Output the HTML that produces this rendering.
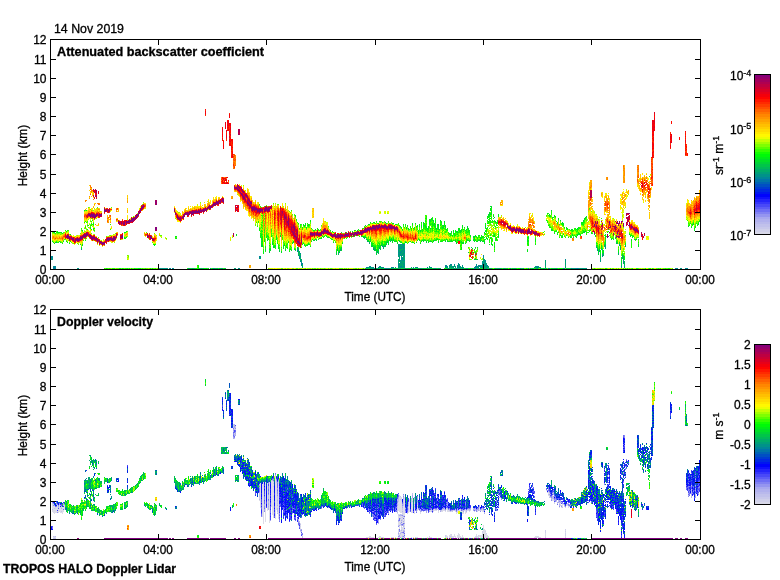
<!DOCTYPE html>
<html><head><meta charset="utf-8"><title>TROPOS HALO Doppler Lidar</title>
<style>
html,body{margin:0;padding:0;background:#fff}
svg{display:block}
text{font-family:"Liberation Sans",sans-serif;font-size:12px;fill:#000;stroke:#000;stroke-width:0.3px}
</style></head><body>
<svg width="780" height="580" viewBox="0 0 780 580">
<rect width="780" height="580" fill="#fff"/>
<g shape-rendering="crispEdges">
<g fill="none" stroke-width="1">
<path stroke="#0072ab" d="M51.5 257v1M53.5 267v1M54.5 266v1M54.5 268v1M172.5 268v1M259.5 256v1M299.5 258v1M300.5 261v1M301.5 264v1M302.5 263v1M378.5 267v1M427.5 267v1M571.5 268v1M577.5 268v1M625.5 246v1"/>
<path stroke="#008b92" d="M51.5 256v1M51.5 259v1M52.5 256v3M53.5 268v1M54.5 267v1M55.5 266v3M78.5 268v1M160.5 268v1M162.5 268v1M164.5 268v1M166.5 268v1M169.5 268v1M170.5 268v1M210.5 268v1M238.5 268v1M259.5 258v1M260.5 256v1M297.5 250v2M299.5 256v1M300.5 253v1M300.5 256v1M301.5 262v2M302.5 267v1M339.5 252v1M366.5 267v1M367.5 267v1M368.5 267v1M369.5 266v1M370.5 266v1M371.5 267v1M372.5 268v1M373.5 267v1M379.5 266v1M381.5 267v1M382.5 246v1M382.5 267v1M383.5 267v1M384.5 246v1M385.5 268v1M386.5 268v1M388.5 268v1M391.5 267v2M392.5 267v1M393.5 267v1M398.5 245v2M398.5 250v1M398.5 252v1M398.5 254v1M398.5 263v4M399.5 247v2M399.5 252v1M399.5 254v1M399.5 257v1M399.5 264v1M400.5 245v1M400.5 248v1M400.5 252v2M400.5 261v1M400.5 266v1M401.5 244v1M401.5 247v2M401.5 251v2M401.5 255v2M401.5 258v3M401.5 262v1M401.5 265v3M402.5 244v1M402.5 246v1M402.5 250v1M402.5 253v1M402.5 258v2M402.5 261v1M402.5 267v1M403.5 245v1M403.5 247v3M403.5 253v2M403.5 258v1M403.5 260v1M403.5 263v1M403.5 266v1M404.5 244v1M404.5 250v3M404.5 255v2M404.5 260v1M404.5 264v1M404.5 266v1M405.5 268v1M413.5 267v1M415.5 267v1M417.5 267v1M431.5 267v1M445.5 265v2M446.5 265v2M447.5 267v1M449.5 265v1M450.5 264v2M451.5 264v1M451.5 268v1M452.5 266v1M454.5 264v1M457.5 265v4M458.5 263v1M459.5 264v4M460.5 268v1M462.5 265v1M462.5 267v2M474.5 267v2M475.5 266v3M476.5 264v3M477.5 266v1M478.5 265v2M478.5 268v1M479.5 265v1M480.5 266v1M481.5 265v1M482.5 262v2M482.5 265v1M482.5 267v1M483.5 255v2M483.5 259v1M483.5 263v3M484.5 261v1M484.5 263v1M484.5 265v1M485.5 260v2M486.5 264v2M486.5 268v1M487.5 265v2M489.5 268v1M495.5 268v1M510.5 268v1M520.5 268v1M523.5 268v1M528.5 268v1M535.5 266v1M536.5 266v1M537.5 266v2M538.5 267v1M545.5 260v1M545.5 264v1M548.5 268v1M563.5 268v1M564.5 268v1M565.5 259v2M565.5 263v1M575.5 268v1M576.5 268v1M578.5 268v1M582.5 268v1M586.5 268v1M597.5 250v1M599.5 251v1M600.5 260v1M602.5 256v1M605.5 247v1M619.5 245v1M620.5 249v1M621.5 266v1M623.5 260v1M623.5 263v1M624.5 266v2M675.5 268v1M676.5 268v1M677.5 268v1M681.5 268v1M685.5 268v1M686.5 268v1M687.5 268v1"/>
<path stroke="#00a077" d="M51.5 258v1M52.5 259v1M53.5 266v1M77.5 268v1M81.5 249v1M159.5 268v1M161.5 268v1M163.5 268v1M165.5 268v1M167.5 268v1M173.5 268v1M188.5 268v1M192.5 268v1M201.5 268v1M213.5 268v1M214.5 268v1M217.5 268v1M221.5 268v1M222.5 268v1M234.5 268v1M235.5 268v1M239.5 268v1M259.5 257v1M260.5 257v2M297.5 247v2M298.5 250v1M298.5 255v1M299.5 251v2M299.5 257v1M300.5 255v1M300.5 257v1M300.5 259v1M301.5 259v3M301.5 265v1M302.5 264v1M302.5 266v1M340.5 250v1M365.5 268v1M367.5 241v1M369.5 243v1M369.5 267v1M370.5 267v2M372.5 267v1M373.5 248v2M374.5 268v1M375.5 268v1M376.5 268v1M377.5 251v2M378.5 268v1M379.5 248v1M379.5 267v1M380.5 266v2M381.5 268v1M383.5 248v1M384.5 268v1M387.5 242v1M387.5 268v1M389.5 268v1M395.5 267v1M398.5 244v1M398.5 247v3M398.5 251v1M398.5 253v1M398.5 255v2M398.5 259v3M398.5 267v1M399.5 245v2M399.5 249v1M399.5 251v1M399.5 253v1M399.5 255v2M399.5 258v1M399.5 260v1M399.5 263v1M399.5 266v1M400.5 244v1M400.5 246v2M400.5 251v1M400.5 254v2M400.5 260v1M400.5 262v3M400.5 267v2M401.5 246v1M401.5 250v1M401.5 254v1M401.5 257v1M401.5 263v1M402.5 245v1M402.5 247v1M402.5 251v1M402.5 254v2M402.5 257v1M402.5 260v1M402.5 263v2M403.5 244v1M403.5 246v1M403.5 250v3M403.5 256v2M403.5 262v1M403.5 264v2M404.5 245v1M404.5 247v2M404.5 253v1M404.5 259v1M404.5 261v3M404.5 265v1M410.5 268v1M411.5 267v1M412.5 268v1M416.5 267v1M418.5 268v1M420.5 268v1M421.5 268v1M423.5 268v1M429.5 266v2M430.5 267v1M434.5 268v1M435.5 268v1M438.5 268v1M445.5 267v1M446.5 267v1M447.5 266v1M448.5 268v1M449.5 266v1M450.5 266v1M451.5 265v1M451.5 267v1M452.5 267v1M453.5 266v3M454.5 265v2M454.5 268v1M455.5 266v2M458.5 264v4M459.5 268v1M460.5 266v2M461.5 267v1M462.5 266v1M463.5 267v1M466.5 268v1M467.5 268v1M472.5 268v1M476.5 267v2M477.5 267v1M478.5 267v1M479.5 266v1M479.5 268v1M480.5 265v1M480.5 267v1M481.5 266v2M482.5 261v1M482.5 264v1M482.5 266v1M483.5 257v2M483.5 260v3M484.5 259v2M484.5 262v1M484.5 264v1M484.5 266v1M485.5 262v5M485.5 268v1M486.5 263v1M486.5 266v2M488.5 266v2M497.5 268v1M499.5 268v1M530.5 268v1M534.5 267v1M536.5 267v1M537.5 268v1M538.5 266v1M539.5 267v1M540.5 267v2M543.5 268v1M545.5 262v2M545.5 265v1M549.5 268v1M556.5 268v1M565.5 261v1M565.5 264v1M565.5 266v2M572.5 268v1M573.5 268v1M574.5 268v1M579.5 268v1M580.5 268v1M581.5 268v1M583.5 268v1M584.5 268v1M585.5 268v1M596.5 247v1M597.5 249v1M599.5 249v1M600.5 258v1M600.5 261v1M601.5 249v1M602.5 254v2M603.5 253v1M603.5 255v1M604.5 246v1M605.5 245v1M605.5 248v1M618.5 253v1M620.5 248v1M623.5 261v2M680.5 268v1"/>
<path stroke="#00b55d" d="M189.5 268v1M203.5 268v1M219.5 268v1M297.5 249v1M298.5 249v1M298.5 252v3M299.5 255v1M300.5 254v1M300.5 260v1M302.5 265v1M337.5 249v2M338.5 253v2M340.5 249v1M363.5 237v1M364.5 238v1M365.5 237v1M366.5 239v1M367.5 268v1M369.5 242v1M371.5 268v1M373.5 268v1M374.5 249v1M375.5 249v1M378.5 253v1M379.5 247v1M380.5 249v1M381.5 245v1M382.5 268v1M383.5 246v2M390.5 241v1M393.5 268v1M395.5 268v1M397.5 268v1M398.5 262v1M398.5 268v1M399.5 244v1M399.5 250v1M399.5 259v1M399.5 261v1M399.5 265v1M399.5 267v2M400.5 249v2M400.5 265v1M401.5 245v1M401.5 249v1M401.5 253v1M401.5 261v1M401.5 264v1M402.5 248v2M402.5 252v1M402.5 262v1M402.5 265v2M403.5 255v1M403.5 259v1M403.5 261v1M403.5 267v2M404.5 246v1M404.5 249v1M404.5 254v1M404.5 257v2M404.5 267v2M407.5 268v1M413.5 268v1M426.5 268v1M428.5 268v1M431.5 268v1M433.5 268v1M436.5 268v1M438.5 224v1M439.5 268v1M440.5 268v1M447.5 268v1M449.5 267v2M450.5 267v1M451.5 266v1M455.5 268v1M456.5 268v1M458.5 268v1M463.5 268v1M465.5 268v1M470.5 268v1M476.5 254v1M483.5 266v1M484.5 267v2M485.5 267v1M487.5 267v2M490.5 268v1M491.5 268v1M498.5 268v1M500.5 268v1M503.5 268v1M504.5 268v1M505.5 268v1M507.5 268v1M512.5 268v1M514.5 268v1M515.5 268v1M532.5 268v1M535.5 267v1M536.5 268v1M545.5 261v1M545.5 266v3M554.5 268v1M565.5 262v1M565.5 265v1M566.5 268v1M598.5 252v1M600.5 259v1M604.5 245v1M605.5 244v1M616.5 243v1M618.5 254v1M619.5 244v1M620.5 247v1M621.5 263v1M621.5 265v1M621.5 267v1M622.5 255v1M622.5 257v2M623.5 257v1M623.5 259v1M624.5 261v2M624.5 264v1"/>
<path stroke="#00ca42" d="M52.5 231v1M53.5 231v1M55.5 242v1M56.5 242v1M81.5 248v1M82.5 245v1M190.5 268v1M193.5 268v1M194.5 268v1M200.5 268v1M206.5 268v1M212.5 268v1M215.5 268v1M216.5 268v1M220.5 268v1M224.5 268v1M225.5 268v1M261.5 245v2M262.5 241v1M262.5 245v1M264.5 240v1M265.5 250v1M269.5 251v2M273.5 246v2M279.5 250v2M284.5 245v1M285.5 250v1M293.5 242v1M295.5 215v1M295.5 250v1M298.5 248v1M298.5 251v1M299.5 253v2M300.5 258v1M308.5 224v1M313.5 240v1M315.5 229v1M316.5 240v1M336.5 253v2M337.5 248v1M338.5 252v1M339.5 251v1M341.5 248v2M342.5 243v1M357.5 230v1M365.5 225v1M366.5 268v1M368.5 241v1M369.5 268v1M370.5 241v1M371.5 246v1M372.5 245v2M373.5 247v1M374.5 247v2M374.5 250v1M375.5 248v1M375.5 250v1M376.5 252v3M377.5 250v1M377.5 268v1M378.5 249v1M378.5 251v2M380.5 246v1M380.5 248v1M382.5 243v1M382.5 245v1M384.5 245v1M385.5 222v1M385.5 245v1M386.5 223v1M386.5 243v2M388.5 244v1M391.5 239v2M392.5 241v1M392.5 268v1M393.5 240v1M395.5 241v1M397.5 243v1M399.5 241v1M405.5 242v1M406.5 227v1M408.5 268v1M415.5 223v1M415.5 268v1M416.5 226v1M417.5 268v1M419.5 268v1M421.5 241v1M423.5 222v1M425.5 226v1M425.5 268v1M426.5 242v1M429.5 268v1M430.5 228v1M430.5 241v1M430.5 268v1M431.5 218v2M431.5 241v1M434.5 240v1M435.5 226v1M440.5 220v1M441.5 222v1M442.5 227v1M443.5 226v1M444.5 221v1M445.5 226v1M445.5 241v1M450.5 233v1M455.5 241v1M456.5 243v1M457.5 231v1M461.5 241v1M463.5 243v1M465.5 230v1M465.5 243v1M466.5 229v1M467.5 226v2M468.5 252v1M471.5 247v1M472.5 248v1M474.5 238v2M474.5 249v1M474.5 259v1M475.5 247v1M475.5 253v1M475.5 259v1M476.5 259v1M477.5 247v1M477.5 259v1M478.5 240v1M480.5 238v1M480.5 241v1M482.5 241v1M484.5 232v1M486.5 228v1M489.5 213v1M494.5 217v1M495.5 221v1M501.5 268v1M521.5 268v1M533.5 268v1M535.5 268v1M546.5 268v1M549.5 214v1M551.5 210v1M551.5 268v1M552.5 268v1M553.5 217v1M555.5 268v1M560.5 220v1M562.5 222v1M567.5 268v1M568.5 268v1M570.5 268v1M571.5 229v1M573.5 237v1M577.5 228v1M577.5 235v1M583.5 220v1M584.5 218v1M584.5 232v1M585.5 231v1M586.5 216v1M596.5 246v1M597.5 248v1M598.5 254v1M599.5 250v1M600.5 256v1M601.5 247v2M603.5 254v1M605.5 236v1M605.5 240v1M605.5 246v1M615.5 238v1M617.5 242v2M620.5 246v1M622.5 256v1M623.5 255v2M624.5 263v1M624.5 265v1M625.5 245v1M629.5 234v1M636.5 239v1M688.5 226v1M693.5 224v1M698.5 224v1"/>
<path stroke="#00df28" d="M54.5 232v1M54.5 243v1M57.5 231v1M59.5 241v1M60.5 242v1M61.5 232v1M62.5 233v1M63.5 241v1M80.5 244v1M82.5 230v1M84.5 210v1M92.5 220v1M93.5 229v1M176.5 236v1M176.5 238v1M191.5 268v1M198.5 268v1M199.5 268v1M202.5 268v1M208.5 268v1M236.5 234v1M260.5 236v1M261.5 234v1M261.5 238v1M261.5 243v2M262.5 239v1M264.5 232v1M264.5 235v2M264.5 239v1M267.5 236v1M267.5 238v1M267.5 240v1M268.5 239v1M269.5 249v1M270.5 249v2M271.5 236v1M272.5 242v2M274.5 246v1M276.5 236v1M276.5 239v1M277.5 243v1M278.5 248v1M280.5 235v2M281.5 251v2M283.5 247v2M285.5 249v1M287.5 247v1M288.5 242v1M291.5 250v1M299.5 228v1M302.5 244v1M303.5 224v1M304.5 226v1M305.5 224v1M306.5 245v1M308.5 244v1M309.5 244v1M314.5 240v1M315.5 239v1M318.5 229v1M319.5 238v1M321.5 238v1M322.5 236v1M328.5 237v1M329.5 237v1M330.5 230v1M332.5 231v1M333.5 242v1M336.5 252v1M337.5 247v1M339.5 250v1M341.5 232v1M341.5 247v1M341.5 250v1M352.5 236v1M354.5 230v1M361.5 236v1M364.5 237v1M367.5 239v2M368.5 224v1M368.5 240v1M369.5 224v1M369.5 241v1M370.5 240v1M371.5 243v1M371.5 245v1M374.5 222v1M375.5 246v2M376.5 251v1M377.5 245v1M378.5 247v1M379.5 244v1M379.5 246v1M379.5 268v1M380.5 247v1M380.5 268v1M381.5 244v1M382.5 222v1M385.5 246v1M386.5 241v2M387.5 240v1M388.5 241v1M389.5 238v1M389.5 240v1M390.5 240v1M390.5 268v1M392.5 223v1M393.5 223v1M393.5 239v1M394.5 268v1M396.5 224v1M396.5 241v1M396.5 268v1M400.5 226v1M401.5 227v1M401.5 242v1M402.5 268v1M403.5 224v1M405.5 224v1M406.5 268v1M408.5 228v2M409.5 268v1M411.5 228v1M412.5 224v1M412.5 242v1M414.5 227v1M414.5 268v1M416.5 242v1M416.5 268v1M417.5 240v1M419.5 224v1M419.5 226v1M420.5 230v1M420.5 243v1M421.5 225v2M422.5 229v1M422.5 240v1M422.5 268v1M423.5 225v1M423.5 240v2M424.5 223v1M424.5 268v1M425.5 240v1M426.5 241v1M427.5 240v1M427.5 268v1M428.5 226v3M428.5 242v1M429.5 220v1M430.5 220v2M430.5 224v1M432.5 220v1M432.5 223v2M432.5 226v1M433.5 220v2M433.5 240v2M434.5 223v2M435.5 220v1M435.5 222v1M435.5 224v1M435.5 228v1M436.5 228v2M437.5 224v2M437.5 268v1M438.5 225v2M438.5 228v2M438.5 241v2M439.5 229v1M441.5 241v1M442.5 225v1M443.5 225v1M443.5 227v1M444.5 224v1M445.5 227v1M446.5 268v1M447.5 241v1M448.5 241v1M449.5 241v1M450.5 234v1M450.5 241v1M450.5 268v1M451.5 231v2M451.5 240v2M452.5 268v1M453.5 231v1M455.5 231v1M455.5 240v1M457.5 232v1M457.5 242v1M458.5 229v1M459.5 229v1M460.5 230v1M460.5 232v1M461.5 230v1M461.5 247v1M462.5 225v1M462.5 227v1M462.5 242v1M466.5 241v1M467.5 239v1M468.5 229v1M468.5 231v1M468.5 240v1M468.5 268v1M469.5 230v1M470.5 235v1M470.5 240v1M472.5 252v1M473.5 236v2M473.5 240v1M474.5 236v2M474.5 241v1M475.5 235v1M475.5 240v1M475.5 252v1M476.5 241v1M477.5 238v1M477.5 241v1M477.5 268v1M479.5 235v1M479.5 240v1M480.5 240v1M480.5 268v1M481.5 235v1M481.5 237v1M481.5 240v1M482.5 237v1M482.5 268v1M483.5 240v1M483.5 268v1M484.5 241v2M485.5 225v3M485.5 231v1M486.5 237v2M487.5 218v1M488.5 214v1M488.5 216v2M488.5 268v1M489.5 212v1M489.5 214v2M489.5 244v1M490.5 206v1M490.5 208v2M490.5 214v1M491.5 206v2M491.5 210v1M491.5 243v1M492.5 220v1M492.5 222v1M493.5 215v2M493.5 235v2M494.5 236v1M494.5 243v1M494.5 246v1M495.5 240v1M496.5 222v1M496.5 238v2M496.5 268v1M498.5 216v1M498.5 236v1M513.5 268v1M516.5 268v1M522.5 268v1M527.5 240v2M527.5 250v1M528.5 237v1M535.5 239v1M541.5 268v1M544.5 268v1M547.5 213v1M551.5 229v1M553.5 268v1M554.5 233v1M555.5 216v1M556.5 221v1M557.5 222v1M557.5 234v1M557.5 268v1M559.5 268v1M560.5 235v1M562.5 223v1M562.5 236v1M563.5 224v1M563.5 234v1M566.5 235v1M567.5 228v1M569.5 268v1M571.5 237v1M572.5 234v2M575.5 236v1M576.5 236v2M577.5 234v1M578.5 233v1M579.5 228v1M579.5 234v1M580.5 235v1M581.5 223v1M583.5 221v1M583.5 232v1M584.5 219v1M584.5 231v1M585.5 217v1M591.5 233v1M594.5 234v1M596.5 245v1M597.5 247v1M598.5 250v1M598.5 253v1M600.5 254v2M600.5 257v1M602.5 250v1M602.5 253v1M603.5 250v1M605.5 237v2M605.5 241v1M605.5 243v1M608.5 229v1M611.5 239v1M613.5 239v1M616.5 242v1M618.5 252v1M619.5 242v2M621.5 258v1M621.5 261v2M621.5 264v1M622.5 254v1M623.5 258v1M624.5 259v1M631.5 240v1M634.5 239v1M638.5 239v1M638.5 244v1M638.5 246v1M691.5 227v1M694.5 228v1M694.5 230v1M695.5 227v1M698.5 223v1"/>
<path stroke="#00f40d" d="M52.5 241v1M53.5 232v1M53.5 242v1M57.5 232v1M58.5 232v1M58.5 242v1M59.5 232v1M60.5 232v1M62.5 243v1M66.5 231v1M66.5 241v1M67.5 242v1M69.5 243v1M70.5 234v1M70.5 241v1M81.5 247v1M82.5 244v1M84.5 222v1M85.5 227v1M85.5 240v1M86.5 210v1M87.5 229v1M88.5 225v1M90.5 225v1M90.5 227v2M91.5 229v1M93.5 223v2M93.5 228v1M94.5 228v1M94.5 230v1M106.5 268v1M119.5 268v1M120.5 268v1M122.5 268v1M124.5 232v1M124.5 237v2M125.5 232v1M125.5 238v1M126.5 231v1M126.5 237v1M127.5 268v1M129.5 268v1M131.5 268v1M134.5 268v1M138.5 268v1M139.5 268v1M140.5 268v1M150.5 268v1M152.5 268v1M153.5 244v1M154.5 244v2M175.5 236v1M195.5 268v1M196.5 268v1M198.5 266v2M204.5 268v1M205.5 268v1M236.5 235v1M258.5 221v1M259.5 204v1M259.5 228v3M260.5 233v1M260.5 235v1M261.5 230v1M261.5 235v1M261.5 237v1M261.5 239v1M261.5 241v2M262.5 231v1M262.5 236v3M262.5 240v1M262.5 243v2M262.5 246v1M263.5 251v3M264.5 230v1M264.5 241v1M265.5 247v1M265.5 249v1M266.5 236v2M267.5 235v1M268.5 236v2M269.5 245v1M270.5 248v1M272.5 244v1M273.5 240v1M273.5 243v1M274.5 245v1M274.5 247v1M275.5 245v2M276.5 237v2M277.5 240v1M278.5 246v2M283.5 245v2M284.5 244v1M286.5 245v1M286.5 247v1M288.5 241v1M289.5 249v1M289.5 251v1M290.5 246v1M290.5 249v1M292.5 243v1M293.5 241v1M294.5 249v1M295.5 216v1M295.5 249v1M296.5 219v1M298.5 223v1M300.5 224v1M301.5 247v1M302.5 227v1M303.5 225v1M303.5 243v1M304.5 225v1M304.5 244v2M305.5 223v1M305.5 225v1M306.5 227v2M307.5 225v1M307.5 245v1M308.5 225v1M308.5 243v1M310.5 220v2M310.5 246v1M311.5 228v1M311.5 241v1M312.5 239v1M313.5 230v1M317.5 228v1M317.5 237v1M320.5 238v1M323.5 237v1M324.5 236v1M326.5 236v1M327.5 237v1M332.5 239v1M333.5 232v1M336.5 234v1M336.5 251v1M337.5 246v1M338.5 251v1M339.5 247v1M340.5 248v1M346.5 232v1M352.5 231v1M353.5 232v1M354.5 236v1M358.5 229v1M362.5 236v1M363.5 228v1M363.5 236v1M364.5 236v1M366.5 226v1M368.5 268v1M370.5 222v1M370.5 238v2M371.5 242v1M371.5 244v1M372.5 243v2M373.5 222v1M373.5 243v1M373.5 245v1M374.5 246v1M376.5 249v2M377.5 223v1M377.5 247v3M378.5 223v1M378.5 245v2M378.5 250v1M379.5 221v1M379.5 243v1M379.5 245v1M380.5 245v1M381.5 242v2M382.5 241v1M382.5 244v1M383.5 244v2M383.5 268v1M384.5 241v1M384.5 244v1M385.5 242v1M385.5 244v1M387.5 241v1M388.5 242v2M389.5 223v1M389.5 237v1M389.5 239v1M390.5 239v1M391.5 238v1M392.5 240v1M392.5 242v1M393.5 238v1M394.5 241v1M395.5 224v1M397.5 242v1M398.5 240v1M399.5 225v1M401.5 228v1M401.5 268v1M402.5 229v1M403.5 243v1M404.5 243v1M406.5 228v1M406.5 242v1M407.5 225v1M408.5 242v1M410.5 226v2M410.5 241v1M411.5 268v1M412.5 223v1M413.5 228v1M413.5 242v1M414.5 243v1M417.5 225v2M418.5 230v1M418.5 232v1M419.5 239v2M420.5 231v1M421.5 222v1M421.5 227v1M422.5 231v1M423.5 223v2M423.5 226v1M423.5 228v1M424.5 225v1M425.5 218v1M425.5 220v2M425.5 225v1M425.5 227v1M425.5 229v1M426.5 216v1M426.5 218v1M426.5 223v1M426.5 227v2M426.5 230v1M427.5 228v2M427.5 231v1M428.5 229v1M428.5 241v1M429.5 219v1M429.5 221v3M432.5 218v1M432.5 225v1M432.5 228v3M432.5 242v1M432.5 268v1M433.5 224v2M434.5 225v2M435.5 221v1M435.5 227v1M435.5 231v1M435.5 240v1M436.5 230v2M436.5 239v1M437.5 227v2M437.5 239v1M438.5 227v1M438.5 231v1M439.5 239v1M440.5 221v1M440.5 224v2M440.5 241v1M441.5 224v1M442.5 228v1M443.5 228v1M443.5 240v1M444.5 222v2M444.5 268v1M445.5 225v1M445.5 229v1M445.5 240v1M445.5 268v1M446.5 229v1M446.5 239v1M447.5 228v1M447.5 230v1M447.5 240v1M449.5 233v1M450.5 235v1M452.5 235v1M452.5 241v1M453.5 230v1M453.5 233v1M453.5 240v1M454.5 233v3M455.5 230v1M455.5 235v1M456.5 231v2M456.5 242v1M457.5 234v1M457.5 240v1M458.5 228v1M458.5 230v1M458.5 232v1M458.5 240v1M459.5 228v1M459.5 230v2M460.5 231v1M460.5 242v1M460.5 245v1M461.5 229v1M461.5 231v1M461.5 242v2M461.5 248v2M461.5 268v1M462.5 226v1M462.5 243v1M463.5 229v1M463.5 231v1M463.5 242v1M464.5 227v1M464.5 268v1M466.5 231v1M466.5 239v2M467.5 228v1M467.5 232v1M467.5 240v1M468.5 228v1M468.5 230v1M469.5 232v1M469.5 240v2M469.5 249v1M469.5 268v1M470.5 236v1M471.5 268v1M473.5 239v1M473.5 268v1M474.5 240v1M475.5 236v1M475.5 258v1M478.5 235v1M480.5 237v1M480.5 239v1M481.5 238v1M481.5 268v1M482.5 236v1M483.5 236v1M483.5 241v1M484.5 239v1M484.5 243v1M485.5 223v1M485.5 233v2M485.5 239v1M486.5 230v2M487.5 216v1M487.5 223v1M487.5 239v1M488.5 215v1M488.5 221v3M488.5 235v3M489.5 216v1M489.5 218v1M489.5 220v1M489.5 239v2M490.5 210v1M490.5 213v1M490.5 216v1M490.5 218v1M490.5 220v1M490.5 222v1M490.5 235v1M490.5 237v2M491.5 211v4M491.5 217v1M491.5 242v1M491.5 244v1M492.5 240v1M492.5 244v2M494.5 221v1M494.5 234v2M494.5 247v1M494.5 249v1M494.5 251v1M494.5 268v1M495.5 222v1M495.5 226v1M496.5 237v1M497.5 220v1M497.5 222v2M497.5 240v1M498.5 214v2M498.5 234v2M498.5 237v1M506.5 268v1M509.5 268v1M518.5 268v1M519.5 268v1M526.5 268v1M527.5 237v1M527.5 239v1M527.5 243v1M527.5 251v1M528.5 238v1M528.5 240v2M528.5 244v2M531.5 268v1M535.5 240v2M535.5 244v1M542.5 268v1M546.5 220v1M548.5 225v1M549.5 215v2M550.5 216v1M550.5 227v1M551.5 230v1M552.5 217v2M552.5 230v1M554.5 215v2M554.5 231v1M557.5 223v1M558.5 218v2M558.5 232v1M560.5 268v1M561.5 236v2M561.5 268v1M562.5 224v1M562.5 237v1M562.5 268v1M563.5 223v1M563.5 225v1M564.5 227v1M565.5 230v1M566.5 227v2M567.5 229v1M568.5 237v1M570.5 236v2M571.5 230v1M572.5 229v1M572.5 231v1M575.5 228v1M576.5 229v1M577.5 229v2M578.5 227v1M578.5 229v1M578.5 232v1M578.5 234v1M579.5 233v1M580.5 234v1M581.5 222v1M582.5 222v3M583.5 222v1M583.5 224v1M583.5 231v1M585.5 218v1M589.5 231v1M590.5 230v1M591.5 232v1M592.5 233v1M595.5 235v2M596.5 243v1M597.5 245v1M598.5 251v1M599.5 244v1M599.5 246v3M600.5 250v4M601.5 234v1M601.5 245v2M602.5 249v1M602.5 251v2M603.5 251v2M604.5 244v1M605.5 234v1M605.5 242v1M606.5 236v1M607.5 232v1M608.5 231v1M611.5 238v1M615.5 237v1M616.5 241v1M617.5 234v1M618.5 250v2M620.5 245v1M621.5 257v1M621.5 260v1M624.5 256v3M625.5 243v2M630.5 235v2M631.5 235v1M631.5 239v1M632.5 236v2M633.5 236v1M635.5 239v1M638.5 242v1M638.5 245v1M690.5 223v1M691.5 226v1M692.5 224v2M693.5 223v1M695.5 226v1M697.5 225v1M698.5 222v1M699.5 221v1"/>
<path stroke="#1eff00" d="M55.5 233v1M56.5 232v1M56.5 241v1M57.5 242v1M64.5 239v1M65.5 230v1M67.5 230v1M68.5 230v1M81.5 228v1M83.5 240v1M84.5 238v1M85.5 221v1M85.5 226v1M86.5 222v1M87.5 221v1M87.5 225v1M91.5 221v1M91.5 223v3M92.5 224v1M93.5 225v1M104.5 268v1M107.5 268v1M109.5 268v1M110.5 224v1M110.5 229v1M112.5 268v1M113.5 268v1M114.5 268v1M123.5 268v1M125.5 268v1M126.5 268v1M135.5 268v1M136.5 268v1M137.5 268v1M142.5 268v1M145.5 268v1M155.5 244v1M155.5 268v1M175.5 237v2M187.5 268v1M197.5 265v1M197.5 268v1M198.5 265v1M207.5 268v1M211.5 268v1M218.5 268v1M223.5 268v1M256.5 222v1M257.5 226v1M258.5 222v1M260.5 206v1M260.5 231v1M260.5 234v1M260.5 237v1M261.5 207v1M261.5 215v1M261.5 222v1M261.5 224v2M261.5 227v1M261.5 231v3M261.5 236v1M261.5 240v1M262.5 215v2M262.5 218v1M262.5 221v2M262.5 225v1M262.5 228v1M262.5 234v1M262.5 242v1M263.5 249v2M264.5 206v1M264.5 218v1M264.5 225v1M264.5 229v1M264.5 231v1M264.5 234v1M264.5 237v2M265.5 246v1M265.5 248v1M265.5 251v1M266.5 233v3M267.5 239v1M268.5 238v1M269.5 243v1M269.5 248v1M269.5 250v1M270.5 244v1M270.5 246v1M271.5 229v3M271.5 233v3M272.5 239v1M272.5 241v1M273.5 238v1M273.5 241v1M273.5 244v2M275.5 243v1M275.5 247v2M276.5 235v1M277.5 241v2M278.5 244v2M279.5 245v1M279.5 247v3M281.5 247v1M281.5 249v1M282.5 235v1M282.5 237v3M283.5 242v1M284.5 243v1M285.5 246v1M285.5 248v1M286.5 244v1M286.5 246v1M287.5 243v2M287.5 248v1M289.5 250v1M290.5 248v1M291.5 210v1M291.5 247v1M291.5 249v1M292.5 242v1M294.5 248v1M296.5 220v1M297.5 222v1M300.5 225v3M301.5 224v1M302.5 228v2M305.5 245v2M307.5 223v1M307.5 244v1M308.5 226v1M309.5 224v2M314.5 230v1M316.5 239v1M318.5 230v1M318.5 239v1M319.5 230v1M320.5 229v1M321.5 237v1M325.5 235v1M326.5 235v1M328.5 226v1M330.5 238v1M331.5 239v1M334.5 240v1M335.5 242v1M336.5 249v2M338.5 250v1M339.5 248v2M340.5 247v1M342.5 242v1M344.5 238v1M346.5 238v1M347.5 237v1M350.5 231v1M350.5 236v1M355.5 230v1M355.5 235v1M358.5 235v1M359.5 230v1M359.5 236v1M362.5 228v1M363.5 268v1M364.5 226v2M365.5 235v2M366.5 237v1M368.5 237v1M368.5 239v1M369.5 239v1M370.5 237v1M372.5 223v1M373.5 246v1M374.5 245v1M375.5 223v1M375.5 245v1M376.5 221v1M377.5 244v1M377.5 246v1M378.5 242v2M378.5 248v1M380.5 221v1M382.5 242v1M384.5 242v2M385.5 241v1M385.5 243v1M387.5 239v1M388.5 221v1M388.5 240v1M392.5 239v1M393.5 237v1M394.5 240v1M395.5 240v1M396.5 240v1M398.5 223v1M399.5 240v1M400.5 241v2M402.5 230v1M402.5 243v1M403.5 225v2M404.5 227v1M405.5 225v2M405.5 241v1M406.5 229v1M407.5 226v1M409.5 229v1M411.5 229v2M412.5 225v1M414.5 228v2M416.5 227v1M417.5 229v1M418.5 231v1M418.5 233v1M418.5 238v2M419.5 225v1M419.5 229v1M420.5 242v1M421.5 223v2M421.5 230v1M421.5 240v1M422.5 230v1M423.5 227v1M423.5 230v1M423.5 239v1M424.5 224v1M424.5 226v3M424.5 239v2M425.5 215v1M425.5 224v1M425.5 228v1M426.5 217v1M426.5 219v1M426.5 221v1M426.5 224v1M426.5 226v1M426.5 229v1M427.5 230v1M428.5 230v2M428.5 240v1M429.5 224v1M429.5 227v1M429.5 232v1M429.5 241v1M430.5 219v1M430.5 222v2M430.5 229v3M430.5 240v1M431.5 220v2M431.5 223v2M431.5 226v1M431.5 228v1M432.5 217v1M432.5 219v1M432.5 222v1M432.5 227v1M432.5 231v1M433.5 222v2M433.5 228v1M434.5 227v1M434.5 229v1M434.5 231v1M434.5 238v1M435.5 218v2M435.5 225v1M435.5 229v1M435.5 239v1M436.5 238v1M436.5 240v1M437.5 226v1M437.5 229v1M437.5 231v1M437.5 238v1M438.5 232v1M438.5 239v1M439.5 230v1M439.5 233v1M440.5 222v2M440.5 227v2M441.5 221v1M441.5 223v1M441.5 226v3M441.5 240v1M442.5 226v1M442.5 229v1M442.5 231v1M442.5 233v1M442.5 240v2M443.5 230v1M444.5 225v2M444.5 228v1M444.5 239v1M445.5 228v1M445.5 231v2M446.5 230v2M447.5 229v1M447.5 239v1M448.5 232v2M449.5 234v1M449.5 239v1M450.5 240v1M451.5 233v1M451.5 235v1M451.5 239v1M452.5 236v1M453.5 232v1M453.5 234v1M454.5 236v1M454.5 240v1M455.5 232v3M455.5 239v1M456.5 234v1M456.5 241v1M457.5 233v1M457.5 236v1M457.5 239v1M458.5 235v1M459.5 232v1M459.5 240v1M460.5 240v2M460.5 246v1M460.5 249v1M461.5 239v1M461.5 244v2M462.5 228v2M463.5 233v1M464.5 229v1M465.5 232v1M466.5 230v1M466.5 232v2M466.5 235v1M466.5 238v1M466.5 242v1M467.5 229v1M467.5 231v1M467.5 234v1M468.5 232v1M468.5 238v1M468.5 247v1M469.5 231v1M469.5 233v2M473.5 257v1M475.5 239v1M475.5 256v1M476.5 236v2M477.5 237v1M477.5 239v2M477.5 249v1M478.5 236v2M478.5 239v1M479.5 237v1M479.5 239v1M481.5 236v1M483.5 237v2M484.5 233v1M484.5 237v1M484.5 240v1M485.5 224v1M485.5 228v1M485.5 230v1M486.5 229v1M486.5 234v1M487.5 217v1M487.5 220v2M487.5 227v2M487.5 238v1M488.5 219v1M489.5 219v1M489.5 221v2M489.5 241v2M490.5 221v1M490.5 224v1M490.5 234v1M491.5 208v2M491.5 218v1M491.5 222v1M491.5 237v5M492.5 221v1M492.5 239v1M492.5 268v1M493.5 214v1M493.5 218v1M493.5 221v1M493.5 227v1M493.5 233v1M494.5 220v1M494.5 225v1M494.5 242v1M494.5 244v2M495.5 228v1M495.5 238v2M496.5 223v3M496.5 240v1M497.5 221v1M497.5 225v1M497.5 227v1M498.5 231v1M498.5 233v1M502.5 268v1M511.5 268v1M517.5 268v1M527.5 238v1M527.5 242v1M527.5 244v1M527.5 249v1M527.5 268v1M528.5 236v1M528.5 242v2M534.5 268v1M535.5 238v1M535.5 243v1M538.5 268v1M543.5 232v1M546.5 215v1M547.5 221v2M548.5 213v1M548.5 215v1M549.5 224v4M550.5 215v1M550.5 268v1M551.5 211v4M552.5 229v1M554.5 232v1M555.5 217v1M555.5 231v1M556.5 230v2M557.5 232v2M558.5 268v1M559.5 224v1M559.5 237v1M560.5 233v1M561.5 223v2M562.5 225v1M562.5 235v1M564.5 228v1M564.5 236v1M565.5 237v1M566.5 229v1M569.5 229v1M570.5 230v1M570.5 235v1M571.5 236v1M572.5 230v1M573.5 230v1M573.5 235v1M574.5 228v2M574.5 235v1M575.5 229v2M576.5 231v1M576.5 234v1M577.5 231v1M578.5 228v1M579.5 227v1M580.5 228v1M581.5 224v1M581.5 233v1M582.5 230v1M582.5 232v2M583.5 223v1M583.5 225v1M583.5 230v1M584.5 220v3M584.5 228v1M585.5 219v1M585.5 229v2M586.5 217v1M586.5 220v1M586.5 232v3M587.5 232v1M588.5 230v1M588.5 232v1M589.5 208v1M589.5 230v1M593.5 229v1M594.5 268v1M596.5 242v1M597.5 243v1M597.5 246v1M598.5 248v2M599.5 245v1M601.5 218v1M601.5 243v1M602.5 248v1M604.5 235v1M604.5 242v2M605.5 235v1M605.5 239v1M605.5 268v1M606.5 268v1M609.5 235v1M610.5 237v1M610.5 268v1M611.5 233v1M612.5 238v1M613.5 238v1M617.5 240v2M618.5 247v1M618.5 249v1M621.5 259v1M622.5 253v1M623.5 268v1M624.5 253v1M625.5 235v1M625.5 268v1M627.5 268v1M629.5 233v1M631.5 241v7M632.5 235v1M632.5 268v1M635.5 240v1M636.5 268v1M637.5 268v1M645.5 268v1M649.5 176v1M649.5 268v1M650.5 268v1M652.5 268v1M658.5 268v1M660.5 268v1M665.5 268v1M668.5 268v1M669.5 268v1M687.5 220v1M688.5 223v1M688.5 225v1M689.5 224v2M690.5 221v1M691.5 224v1M693.5 222v1M694.5 229v1M696.5 223v1M697.5 224v1M699.5 220v1"/>
<path stroke="#59ff00" d="M52.5 232v1M54.5 233v1M56.5 231v1M57.5 233v1M58.5 233v1M60.5 234v1M60.5 241v1M61.5 233v1M61.5 242v1M62.5 242v1M63.5 232v1M63.5 240v1M64.5 232v1M65.5 239v1M66.5 240v1M68.5 240v1M69.5 242v1M71.5 242v1M73.5 243v1M77.5 243v1M78.5 244v1M80.5 233v1M81.5 229v2M82.5 231v1M83.5 232v1M84.5 228v1M85.5 210v1M85.5 228v1M86.5 229v1M86.5 238v1M87.5 222v1M88.5 207v1M88.5 227v1M90.5 209v1M90.5 221v1M90.5 226v1M91.5 218v1M91.5 233v1M93.5 222v1M97.5 207v1M98.5 237v1M105.5 268v1M106.5 236v1M108.5 268v1M110.5 235v1M110.5 268v1M111.5 207v1M115.5 233v1M116.5 268v1M117.5 268v1M118.5 268v1M121.5 268v1M124.5 268v1M125.5 237v1M126.5 236v1M127.5 231v1M127.5 255v1M128.5 256v1M128.5 268v1M132.5 268v1M133.5 216v1M133.5 268v1M141.5 268v1M142.5 204v1M143.5 268v1M144.5 268v1M146.5 232v1M146.5 268v1M147.5 268v1M149.5 268v1M151.5 268v1M152.5 242v1M153.5 268v1M154.5 233v1M154.5 268v1M157.5 268v1M160.5 235v1M161.5 235v1M166.5 238v1M176.5 237v1M197.5 266v2M255.5 224v2M257.5 225v1M259.5 205v1M259.5 227v1M260.5 228v1M261.5 213v1M261.5 226v1M262.5 217v1M262.5 220v1M262.5 223v1M262.5 226v2M262.5 230v1M262.5 233v1M262.5 235v1M263.5 246v2M264.5 213v2M264.5 216v1M264.5 219v1M264.5 221v1M264.5 223v2M264.5 227v2M264.5 233v1M265.5 242v2M266.5 205v1M266.5 230v1M266.5 232v1M267.5 206v1M267.5 229v1M267.5 232v1M267.5 234v1M267.5 237v1M268.5 233v3M269.5 239v2M269.5 242v1M269.5 246v2M270.5 247v1M271.5 232v1M272.5 235v1M272.5 240v1M273.5 203v1M273.5 233v1M273.5 237v1M273.5 239v1M273.5 242v1M275.5 241v1M275.5 244v1M277.5 204v1M277.5 238v1M278.5 204v1M280.5 233v1M281.5 250v1M281.5 268v1M282.5 268v1M283.5 243v2M284.5 241v1M285.5 245v1M285.5 247v1M286.5 243v1M287.5 245v2M289.5 211v1M289.5 248v1M290.5 212v1M290.5 245v1M290.5 247v1M291.5 248v1M292.5 214v1M294.5 214v2M295.5 217v1M295.5 248v1M296.5 268v1M297.5 268v1M298.5 224v1M298.5 226v1M298.5 247v1M299.5 229v1M301.5 225v1M302.5 243v1M303.5 242v1M304.5 227v1M305.5 227v1M305.5 268v1M306.5 229v1M306.5 244v1M307.5 224v1M307.5 226v1M308.5 227v1M308.5 242v1M309.5 226v2M309.5 243v1M310.5 222v2M310.5 245v1M311.5 240v1M312.5 229v1M312.5 268v1M313.5 231v1M314.5 239v1M314.5 268v1M315.5 230v1M315.5 238v1M315.5 268v1M316.5 230v1M317.5 229v1M317.5 268v1M320.5 230v1M320.5 268v1M321.5 225v1M322.5 235v1M323.5 236v1M324.5 268v1M327.5 236v1M328.5 236v1M328.5 268v1M330.5 231v1M330.5 268v1M331.5 232v1M331.5 238v1M331.5 268v1M333.5 241v1M335.5 241v1M337.5 245v1M338.5 248v2M339.5 245v2M339.5 268v1M340.5 246v1M340.5 268v1M341.5 246v1M341.5 268v1M342.5 233v1M342.5 268v1M344.5 233v1M344.5 268v1M346.5 268v1M348.5 268v1M355.5 268v1M356.5 231v1M356.5 268v1M358.5 268v1M362.5 235v1M366.5 238v1M367.5 238v1M368.5 236v1M368.5 238v1M370.5 223v1M372.5 241v2M373.5 244v1M374.5 223v1M374.5 242v1M374.5 244v1M375.5 244v1M376.5 222v1M376.5 245v3M377.5 241v3M379.5 241v2M380.5 222v1M380.5 242v1M381.5 221v1M381.5 241v1M382.5 240v1M383.5 241v1M384.5 221v1M386.5 238v1M386.5 240v1M387.5 223v1M388.5 222v1M389.5 236v1M390.5 223v1M390.5 237v2M391.5 222v1M392.5 224v1M392.5 237v2M393.5 236v1M394.5 239v1M395.5 239v1M396.5 238v1M397.5 224v2M398.5 224v2M398.5 238v1M399.5 226v1M400.5 227v1M401.5 241v1M404.5 228v1M407.5 228v1M407.5 243v1M408.5 230v1M409.5 241v1M410.5 228v1M411.5 242v1M412.5 226v2M412.5 241v1M413.5 229v2M415.5 224v1M416.5 228v3M417.5 227v2M417.5 231v1M418.5 235v1M419.5 227v2M419.5 230v2M420.5 232v1M420.5 235v1M420.5 240v1M421.5 228v2M421.5 231v1M422.5 232v2M422.5 239v1M423.5 229v1M423.5 233v1M423.5 237v2M424.5 229v1M425.5 216v2M425.5 219v1M425.5 222v2M425.5 230v2M425.5 239v1M426.5 215v1M426.5 220v1M426.5 222v1M426.5 225v1M426.5 234v2M426.5 240v1M427.5 232v1M428.5 232v1M428.5 235v1M428.5 239v1M429.5 225v2M429.5 228v1M429.5 230v1M429.5 238v3M430.5 225v1M430.5 232v1M431.5 222v1M431.5 225v1M431.5 229v3M431.5 238v3M432.5 221v1M432.5 240v2M433.5 226v1M433.5 230v1M434.5 228v1M434.5 230v1M434.5 235v1M434.5 239v1M435.5 223v1M435.5 230v1M435.5 232v2M436.5 232v2M437.5 232v1M438.5 230v1M438.5 233v4M438.5 240v1M439.5 231v2M440.5 240v1M441.5 225v1M441.5 229v1M441.5 232v1M441.5 239v1M442.5 230v1M442.5 234v1M442.5 239v1M444.5 229v1M444.5 231v3M444.5 240v1M445.5 234v1M445.5 239v1M446.5 232v1M446.5 238v1M448.5 234v2M449.5 236v1M449.5 240v1M450.5 236v1M450.5 239v1M451.5 234v1M451.5 238v1M452.5 240v1M453.5 235v1M453.5 239v1M454.5 237v1M456.5 233v1M456.5 239v2M457.5 238v1M457.5 241v1M458.5 231v1M458.5 233v2M458.5 236v1M458.5 238v2M460.5 233v2M460.5 243v2M460.5 247v2M461.5 232v2M461.5 235v1M461.5 240v1M461.5 246v1M462.5 230v1M462.5 232v1M462.5 240v1M463.5 230v1M463.5 240v2M464.5 228v1M464.5 230v1M465.5 231v1M465.5 233v1M465.5 241v2M466.5 237v1M467.5 230v1M467.5 233v1M468.5 233v2M468.5 239v1M469.5 239v1M469.5 259v1M470.5 237v1M470.5 259v1M472.5 249v1M473.5 238v1M474.5 250v3M475.5 248v1M475.5 251v1M476.5 239v2M476.5 250v3M476.5 257v1M477.5 248v1M479.5 236v1M481.5 239v1M482.5 238v1M482.5 240v1M483.5 239v1M484.5 234v1M485.5 236v1M486.5 232v1M487.5 222v1M487.5 229v1M487.5 233v4M488.5 225v1M488.5 231v3M489.5 217v1M489.5 223v1M489.5 228v1M490.5 212v1M490.5 215v1M490.5 223v1M491.5 215v2M491.5 219v1M491.5 221v1M491.5 229v1M491.5 234v1M492.5 225v1M492.5 235v1M492.5 238v1M492.5 241v1M493.5 223v1M493.5 232v1M493.5 234v1M493.5 268v1M494.5 222v3M494.5 233v1M494.5 248v1M494.5 250v1M495.5 223v1M495.5 227v1M495.5 233v5M496.5 227v1M497.5 236v1M497.5 239v1M498.5 232v1M508.5 268v1M524.5 268v1M525.5 268v1M527.5 236v1M527.5 245v1M528.5 239v1M529.5 268v1M535.5 236v2M535.5 242v1M539.5 268v1M544.5 231v1M544.5 234v1M546.5 216v1M547.5 214v1M547.5 220v1M547.5 268v1M548.5 224v1M550.5 217v1M550.5 226v1M551.5 216v1M551.5 227v2M552.5 219v1M552.5 226v3M553.5 219v1M553.5 230v1M555.5 220v1M555.5 230v1M557.5 224v1M558.5 220v1M558.5 231v1M559.5 235v2M560.5 221v1M560.5 223v1M560.5 234v1M561.5 235v1M563.5 226v1M563.5 233v1M564.5 235v1M565.5 268v1M566.5 234v1M571.5 231v5M572.5 233v1M573.5 231v1M573.5 236v1M574.5 234v1M575.5 235v1M576.5 230v1M576.5 232v1M576.5 235v1M577.5 232v2M579.5 230v1M580.5 227v1M580.5 229v1M580.5 231v1M580.5 233v1M581.5 231v2M582.5 225v1M582.5 229v1M582.5 231v1M583.5 228v1M584.5 223v1M584.5 226v1M584.5 229v2M586.5 218v2M586.5 230v2M589.5 209v1M590.5 229v1M591.5 211v1M596.5 244v1M597.5 241v1M597.5 244v1M598.5 219v1M598.5 246v2M600.5 268v1M601.5 244v1M602.5 246v2M607.5 231v1M610.5 234v3M612.5 236v2M612.5 268v1M613.5 236v2M613.5 268v1M614.5 234v1M616.5 239v2M616.5 268v1M618.5 248v1M618.5 268v1M620.5 243v1M621.5 254v2M622.5 251v2M623.5 227v1M623.5 248v2M623.5 251v1M623.5 253v2M625.5 242v1M629.5 232v1M629.5 268v1M630.5 234v1M631.5 233v2M631.5 268v1M633.5 235v1M634.5 237v1M636.5 237v2M637.5 237v1M638.5 237v1M638.5 240v2M638.5 243v1M638.5 268v1M648.5 268v1M653.5 268v1M656.5 268v1M657.5 268v1M659.5 268v1M663.5 268v1M664.5 268v1M666.5 268v1M667.5 268v1M672.5 268v1M688.5 222v1M688.5 224v1M689.5 223v1M690.5 222v1M692.5 223v1M693.5 220v2M694.5 226v2M695.5 223v3M696.5 221v2M697.5 221v1M697.5 223v1M698.5 221v1"/>
<path stroke="#95ff00" d="M52.5 233v1M52.5 240v1M53.5 233v1M53.5 241v1M55.5 234v1M55.5 241v1M56.5 233v1M56.5 240v1M57.5 234v1M57.5 240v2M58.5 241v1M59.5 233v1M60.5 233v1M61.5 234v1M61.5 241v1M63.5 233v1M66.5 232v1M67.5 231v1M67.5 241v1M68.5 231v1M69.5 234v1M72.5 243v1M75.5 236v1M77.5 235v1M79.5 242v1M81.5 245v2M82.5 242v2M84.5 211v1M84.5 231v1M85.5 225v1M85.5 231v1M85.5 239v1M87.5 224v1M88.5 219v1M89.5 207v1M89.5 224v1M89.5 227v1M90.5 220v1M90.5 224v1M92.5 210v1M92.5 226v1M93.5 210v1M93.5 230v1M93.5 240v1M94.5 208v1M94.5 231v1M94.5 234v1M96.5 218v1M101.5 240v1M108.5 236v1M109.5 235v1M111.5 268v1M113.5 234v1M114.5 242v1M115.5 268v1M119.5 220v1M121.5 239v1M124.5 233v1M124.5 236v1M126.5 232v1M127.5 219v1M127.5 236v1M127.5 257v1M127.5 259v1M128.5 255v1M128.5 257v1M130.5 268v1M137.5 213v1M143.5 202v1M148.5 238v1M148.5 268v1M155.5 243v1M156.5 235v1M156.5 268v1M159.5 235v1M161.5 237v1M175.5 218v1M178.5 212v1M179.5 212v1M200.5 202v1M232.5 237v1M237.5 194v1M243.5 185v1M245.5 190v1M254.5 218v1M256.5 221v1M257.5 223v2M258.5 219v1M259.5 225v1M260.5 224v1M260.5 227v1M260.5 229v2M260.5 232v1M261.5 217v1M261.5 219v2M261.5 223v1M261.5 228v2M262.5 214v1M262.5 219v1M262.5 224v1M262.5 229v1M262.5 232v1M263.5 245v1M263.5 248v1M264.5 215v1M264.5 222v1M264.5 226v1M265.5 239v3M265.5 244v2M266.5 228v1M266.5 231v1M267.5 222v1M267.5 225v1M267.5 227v2M267.5 230v1M267.5 233v1M268.5 268v1M269.5 237v1M269.5 241v1M269.5 244v1M270.5 243v1M270.5 245v1M271.5 226v1M271.5 228v1M272.5 206v1M272.5 233v1M272.5 236v3M273.5 234v2M274.5 206v1M274.5 240v1M274.5 242v1M274.5 244v1M275.5 203v1M275.5 239v1M276.5 230v2M276.5 233v2M277.5 237v1M277.5 239v1M279.5 241v1M279.5 243v2M279.5 246v1M280.5 232v1M280.5 234v1M281.5 248v1M282.5 236v1M283.5 206v1M283.5 240v2M284.5 242v1M285.5 203v1M285.5 242v2M285.5 268v1M286.5 209v1M286.5 241v2M287.5 240v1M287.5 268v1M288.5 210v1M288.5 268v1M289.5 245v1M289.5 247v1M290.5 243v1M291.5 211v1M292.5 215v1M292.5 240v1M292.5 268v1M293.5 218v1M293.5 268v1M294.5 247v1M295.5 218v1M295.5 246v1M296.5 221v1M299.5 268v1M300.5 229v1M300.5 268v1M301.5 226v2M301.5 268v1M302.5 242v1M303.5 226v2M304.5 243v1M304.5 268v1M305.5 226v1M305.5 244v1M307.5 227v1M307.5 243v1M307.5 268v1M308.5 268v1M309.5 268v1M310.5 225v1M310.5 244v1M310.5 268v1M311.5 229v1M312.5 230v1M313.5 238v2M313.5 268v1M317.5 236v1M318.5 268v1M320.5 237v1M321.5 226v1M321.5 268v1M322.5 268v1M323.5 268v1M324.5 235v1M325.5 221v1M325.5 234v1M325.5 268v1M328.5 227v2M332.5 232v1M332.5 268v1M333.5 240v1M334.5 232v1M335.5 268v1M336.5 247v1M337.5 244v1M338.5 245v1M340.5 245v1M341.5 245v1M342.5 241v1M343.5 238v1M345.5 268v1M346.5 237v1M351.5 237v1M353.5 268v1M354.5 268v1M358.5 230v1M362.5 268v1M364.5 235v1M365.5 234v1M367.5 225v1M367.5 237v1M368.5 225v1M369.5 225v1M369.5 240v1M370.5 236v1M371.5 223v1M371.5 239v2M372.5 239v1M373.5 223v1M373.5 240v2M374.5 243v1M376.5 248v1M377.5 240v1M378.5 239v3M378.5 244v1M380.5 212v1M380.5 241v1M380.5 243v2M381.5 240v1M382.5 223v1M382.5 236v1M382.5 239v1M383.5 222v1M383.5 242v2M384.5 222v1M385.5 223v1M385.5 239v1M386.5 224v1M386.5 237v1M386.5 239v1M387.5 213v1M388.5 239v1M390.5 236v1M391.5 237v1M392.5 236v1M393.5 235v1M395.5 237v2M396.5 237v1M396.5 239v1M397.5 241v1M398.5 239v1M399.5 227v1M400.5 228v1M402.5 242v1M403.5 227v1M404.5 229v1M404.5 241v2M405.5 228v1M406.5 241v1M407.5 227v1M409.5 230v2M410.5 229v1M415.5 225v1M417.5 239v1M418.5 234v1M418.5 237v1M419.5 232v2M420.5 233v2M420.5 241v1M421.5 232v1M421.5 239v1M423.5 231v1M423.5 234v1M424.5 231v1M424.5 233v1M425.5 233v1M426.5 231v1M426.5 233v1M426.5 238v2M427.5 234v1M427.5 239v1M428.5 233v2M429.5 229v1M429.5 231v1M431.5 227v1M431.5 232v1M432.5 232v2M432.5 239v1M433.5 227v1M433.5 239v1M434.5 232v3M434.5 236v1M435.5 235v1M435.5 238v1M436.5 234v1M436.5 237v1M437.5 230v1M437.5 233v1M438.5 238v1M440.5 226v1M440.5 229v2M440.5 232v1M440.5 239v1M442.5 232v1M442.5 235v1M442.5 237v1M443.5 229v1M443.5 233v1M443.5 239v1M444.5 227v1M445.5 230v1M447.5 231v2M447.5 234v1M448.5 240v1M449.5 235v1M449.5 238v1M450.5 237v1M453.5 236v3M454.5 239v1M455.5 236v1M455.5 238v1M456.5 235v2M457.5 235v1M457.5 237v1M459.5 233v1M459.5 235v1M460.5 235v2M461.5 234v1M461.5 237v2M462.5 231v1M462.5 241v1M463.5 232v1M463.5 234v1M464.5 231v1M464.5 240v1M466.5 234v1M467.5 235v1M467.5 238v1M468.5 248v1M469.5 235v1M469.5 238v1M469.5 248v1M469.5 252v1M469.5 254v1M470.5 238v2M471.5 259v1M472.5 251v1M472.5 253v1M475.5 237v1M475.5 257v1M476.5 238v1M477.5 250v2M478.5 238v1M479.5 238v1M481.5 259v1M482.5 239v1M482.5 258v2M484.5 235v1M486.5 233v1M486.5 235v2M487.5 225v1M487.5 230v1M488.5 226v1M489.5 225v1M489.5 230v1M489.5 235v1M490.5 225v1M490.5 233v1M491.5 225v2M491.5 233v1M492.5 232v1M492.5 236v1M493.5 222v1M493.5 224v2M493.5 229v1M494.5 226v1M494.5 232v1M496.5 233v1M496.5 235v1M497.5 234v1M497.5 237v1M500.5 217v1M501.5 215v1M525.5 227v1M547.5 215v2M548.5 216v1M548.5 221v3M549.5 217v1M549.5 222v1M550.5 224v2M551.5 215v1M551.5 217v1M551.5 223v1M551.5 226v1M552.5 220v1M552.5 225v1M553.5 228v2M554.5 217v2M554.5 230v1M555.5 218v1M555.5 229v1M557.5 225v1M558.5 221v1M559.5 225v1M559.5 234v1M560.5 222v1M560.5 224v1M562.5 226v1M562.5 233v1M565.5 236v1M567.5 235v1M568.5 229v1M568.5 236v1M569.5 230v1M569.5 236v1M572.5 232v1M573.5 234v1M574.5 230v1M575.5 231v1M575.5 234v1M576.5 233v1M578.5 230v2M579.5 229v1M579.5 231v2M580.5 232v1M581.5 225v1M582.5 226v1M582.5 228v1M583.5 226v2M583.5 229v1M584.5 224v1M584.5 227v1M585.5 220v4M586.5 221v1M586.5 228v1M587.5 219v1M587.5 230v1M588.5 211v1M588.5 221v1M589.5 229v1M590.5 228v1M592.5 232v1M592.5 268v1M593.5 268v1M594.5 212v1M595.5 233v1M595.5 268v1M596.5 214v1M596.5 220v1M597.5 218v1M597.5 268v1M598.5 245v1M598.5 268v1M599.5 217v1M599.5 242v1M599.5 268v1M600.5 224v1M600.5 248v1M601.5 220v1M601.5 224v1M601.5 268v1M602.5 245v1M602.5 268v1M603.5 248v1M603.5 268v1M604.5 224v1M604.5 241v1M605.5 219v1M605.5 232v1M607.5 268v1M611.5 236v2M612.5 234v2M613.5 218v1M614.5 222v1M614.5 233v1M615.5 235v2M616.5 238v1M618.5 246v1M619.5 241v1M621.5 251v1M621.5 253v1M621.5 268v1M622.5 215v2M622.5 220v1M622.5 225v1M623.5 250v1M624.5 251v1M624.5 254v2M625.5 207v1M625.5 231v1M625.5 236v1M625.5 241v1M626.5 268v1M628.5 194v1M628.5 268v1M630.5 268v1M634.5 238v1M637.5 235v1M639.5 268v1M640.5 268v1M642.5 268v1M643.5 268v1M644.5 268v1M650.5 174v1M662.5 268v1M670.5 268v1M686.5 217v1M686.5 219v1M687.5 218v1M688.5 221v1M689.5 222v1M691.5 223v1M691.5 225v1M692.5 222v1M694.5 224v1M695.5 222v1M697.5 222v1M698.5 219v1M699.5 219v1"/>
<path stroke="#d0ff00" d="M52.5 234v1M53.5 240v1M54.5 234v1M54.5 241v2M55.5 235v1M58.5 234v1M59.5 234v1M62.5 234v1M64.5 233v1M66.5 239v1M68.5 232v1M68.5 239v1M69.5 235v1M71.5 235v1M75.5 243v1M76.5 235v1M78.5 243v1M79.5 235v1M80.5 243v1M81.5 231v1M82.5 232v1M84.5 220v2M85.5 220v1M86.5 211v1M86.5 221v1M86.5 228v1M87.5 210v1M87.5 220v1M87.5 223v1M87.5 226v1M87.5 236v1M89.5 223v1M89.5 231v1M89.5 238v1M90.5 230v1M91.5 222v1M92.5 219v1M93.5 219v1M93.5 226v2M93.5 234v1M94.5 229v1M95.5 236v1M95.5 241v1M96.5 208v2M97.5 244v1M98.5 242v1M99.5 208v1M99.5 245v1M101.5 211v1M103.5 239v1M104.5 240v1M105.5 208v1M107.5 236v1M110.5 211v1M110.5 241v1M111.5 228v1M111.5 235v1M111.5 242v1M112.5 235v1M112.5 242v1M114.5 234v1M116.5 238v1M124.5 234v1M125.5 233v1M127.5 258v1M128.5 258v1M132.5 217v1M139.5 208v1M143.5 209v1M144.5 235v1M145.5 208v1M153.5 243v1M154.5 243v1M156.5 240v1M159.5 233v1M160.5 236v1M161.5 236v1M165.5 237v2M166.5 239v1M176.5 219v1M177.5 211v1M180.5 213v2M187.5 210v1M193.5 207v1M197.5 204v2M199.5 206v1M200.5 203v1M207.5 201v1M208.5 209v1M209.5 202v1M230.5 238v1M230.5 240v1M232.5 236v1M241.5 185v1M244.5 206v1M253.5 220v1M255.5 223v1M256.5 220v1M257.5 222v1M258.5 202v1M258.5 220v1M259.5 226v1M260.5 217v1M260.5 222v2M260.5 226v1M261.5 214v1M261.5 216v1M261.5 218v1M261.5 221v1M263.5 241v4M264.5 217v1M264.5 220v1M265.5 237v1M266.5 226v2M266.5 229v1M267.5 223v2M267.5 226v1M267.5 231v1M269.5 230v2M269.5 233v1M269.5 238v1M269.5 268v1M270.5 239v4M270.5 268v1M271.5 210v1M271.5 225v1M271.5 268v1M272.5 268v1M273.5 204v1M273.5 225v1M273.5 230v3M273.5 236v1M274.5 238v2M274.5 241v1M274.5 243v1M274.5 268v1M275.5 237v2M275.5 240v1M275.5 242v1M276.5 206v2M276.5 229v1M276.5 232v1M277.5 268v1M278.5 241v1M278.5 268v1M279.5 240v1M279.5 242v1M279.5 268v1M280.5 268v1M281.5 207v1M281.5 246v1M282.5 230v1M282.5 233v2M283.5 207v1M283.5 236v4M284.5 268v1M285.5 204v1M285.5 240v2M285.5 244v1M287.5 206v1M287.5 239v1M287.5 242v1M288.5 239v2M289.5 243v1M289.5 246v1M289.5 268v1M290.5 213v1M291.5 246v1M292.5 216v1M292.5 241v1M293.5 240v1M295.5 247v1M295.5 268v1M297.5 223v2M298.5 225v1M298.5 227v1M298.5 268v1M300.5 228v1M300.5 231v1M301.5 246v1M302.5 240v2M303.5 228v1M303.5 268v1M304.5 229v1M305.5 243v1M306.5 231v1M308.5 228v1M309.5 242v1M310.5 224v1M310.5 227v1M310.5 243v1M311.5 239v1M311.5 268v1M312.5 237v2M316.5 268v1M318.5 238v1M319.5 231v1M319.5 237v1M319.5 268v1M320.5 231v1M322.5 224v1M322.5 234v1M323.5 235v1M325.5 222v1M326.5 222v2M326.5 234v1M326.5 268v1M327.5 222v2M327.5 235v1M327.5 268v1M328.5 229v1M329.5 229v1M329.5 268v1M332.5 238v1M333.5 239v1M333.5 268v1M334.5 239v1M334.5 268v1M335.5 240v1M336.5 248v1M336.5 268v1M337.5 268v1M338.5 246v2M338.5 268v1M339.5 233v1M340.5 244v1M341.5 243v1M343.5 268v1M347.5 268v1M349.5 268v1M350.5 268v1M351.5 268v1M352.5 235v1M352.5 268v1M354.5 231v1M357.5 268v1M359.5 231v1M359.5 268v1M360.5 268v1M361.5 268v1M363.5 235v1M364.5 268v1M365.5 226v1M366.5 227v1M366.5 236v1M370.5 235v1M371.5 241v1M372.5 240v1M373.5 242v1M374.5 241v1M375.5 243v1M376.5 241v1M376.5 243v1M377.5 224v1M377.5 238v1M378.5 238v1M379.5 212v2M379.5 222v1M379.5 239v2M380.5 240v1M381.5 238v1M382.5 235v1M382.5 237v2M383.5 223v1M383.5 239v1M384.5 211v2M384.5 238v1M384.5 240v1M385.5 211v3M385.5 238v1M385.5 240v1M386.5 236v1M387.5 212v1M387.5 238v1M388.5 211v1M388.5 213v1M388.5 238v1M389.5 235v1M391.5 223v1M391.5 235v1M392.5 234v2M393.5 224v1M394.5 238v1M395.5 236v1M396.5 235v1M397.5 237v1M397.5 240v1M398.5 237v1M400.5 240v1M401.5 229v2M401.5 240v1M402.5 241v1M403.5 242v1M404.5 230v1M405.5 227v1M406.5 230v1M407.5 229v1M407.5 242v1M408.5 231v1M408.5 241v1M410.5 230v1M411.5 231v2M413.5 241v1M414.5 230v1M414.5 242v1M415.5 226v2M415.5 240v1M416.5 241v1M417.5 230v1M418.5 236v1M419.5 234v1M419.5 238v1M421.5 233v1M421.5 235v1M422.5 237v2M423.5 232v1M423.5 235v1M424.5 230v1M424.5 232v1M424.5 234v1M425.5 232v1M425.5 238v1M426.5 232v1M426.5 237v1M427.5 233v1M427.5 236v3M429.5 233v1M429.5 235v1M430.5 233v4M430.5 238v2M431.5 234v4M432.5 235v1M433.5 229v1M433.5 232v2M433.5 237v1M435.5 234v1M435.5 237v1M436.5 235v1M437.5 234v1M437.5 237v1M439.5 234v1M439.5 238v1M440.5 231v1M441.5 230v1M441.5 234v1M441.5 238v1M442.5 238v1M443.5 232v1M443.5 234v1M443.5 238v1M444.5 230v1M444.5 234v1M444.5 238v1M445.5 233v1M445.5 235v1M445.5 238v1M446.5 233v3M447.5 233v1M448.5 238v2M450.5 238v1M451.5 236v2M452.5 237v1M452.5 239v1M454.5 238v1M455.5 237v1M458.5 237v1M459.5 234v1M459.5 236v1M459.5 239v1M460.5 237v1M460.5 239v1M461.5 236v1M462.5 234v1M462.5 236v1M463.5 235v1M463.5 239v1M464.5 232v1M466.5 236v1M467.5 237v1M468.5 235v3M469.5 236v1M469.5 247v1M469.5 250v1M470.5 250v2M475.5 238v1M480.5 258v1M487.5 231v1M488.5 229v2M489.5 224v1M489.5 232v1M489.5 237v2M490.5 227v1M490.5 230v2M491.5 224v1M491.5 227v1M491.5 231v2M491.5 235v1M492.5 226v1M492.5 228v1M493.5 230v2M494.5 228v1M495.5 229v1M495.5 231v2M496.5 234v1M498.5 217v1M498.5 227v4M499.5 227v1M507.5 221v1M508.5 223v1M511.5 226v1M511.5 233v1M515.5 233v1M516.5 226v1M517.5 224v1M522.5 227v1M531.5 215v1M532.5 213v1M534.5 221v1M534.5 235v1M537.5 236v1M542.5 232v1M543.5 235v1M546.5 218v2M547.5 217v1M548.5 217v1M549.5 219v1M549.5 221v1M549.5 223v1M550.5 223v1M551.5 218v1M551.5 224v2M552.5 224v1M553.5 220v1M553.5 227v1M554.5 219v1M555.5 219v1M555.5 227v2M556.5 223v1M556.5 229v1M558.5 222v1M559.5 226v1M560.5 232v1M562.5 232v1M562.5 234v1M563.5 227v3M564.5 229v1M565.5 231v1M566.5 231v1M567.5 230v1M569.5 231v1M570.5 231v1M573.5 232v2M574.5 231v2M575.5 232v2M581.5 230v1M582.5 227v1M584.5 225v1M585.5 227v2M586.5 222v2M586.5 226v2M586.5 229v1M587.5 220v1M587.5 229v1M588.5 222v1M589.5 182v1M589.5 227v1M590.5 226v1M591.5 213v1M591.5 231v1M593.5 210v3M593.5 228v1M594.5 211v1M595.5 214v3M595.5 232v1M596.5 268v1M597.5 216v1M597.5 242v1M598.5 220v1M598.5 244v1M599.5 243v1M600.5 243v2M600.5 247v1M601.5 223v1M601.5 242v1M603.5 233v1M603.5 246v1M604.5 231v1M604.5 240v1M604.5 268v1M605.5 193v1M605.5 221v2M608.5 268v1M609.5 198v1M609.5 233v1M609.5 268v1M611.5 268v1M612.5 218v1M614.5 219v3M614.5 232v1M614.5 268v1M615.5 268v1M617.5 239v1M617.5 268v1M618.5 241v1M618.5 243v1M619.5 239v2M619.5 268v1M620.5 198v1M620.5 206v1M620.5 244v1M620.5 268v1M621.5 197v1M621.5 207v1M621.5 252v1M622.5 209v1M622.5 211v2M622.5 214v1M622.5 218v1M622.5 227v1M622.5 248v3M622.5 268v1M623.5 210v1M623.5 212v1M623.5 214v1M623.5 217v1M623.5 228v1M623.5 231v1M623.5 244v2M624.5 231v1M624.5 249v1M624.5 252v1M624.5 268v1M625.5 204v1M625.5 229v1M625.5 232v2M625.5 237v1M626.5 189v1M626.5 197v1M627.5 196v1M632.5 233v1M633.5 234v1M633.5 268v1M634.5 222v1M634.5 268v1M635.5 238v1M635.5 268v1M636.5 236v1M637.5 236v1M638.5 236v1M641.5 268v1M643.5 202v1M646.5 236v1M646.5 238v1M646.5 268v1M647.5 236v2M647.5 268v1M648.5 238v1M651.5 268v1M654.5 268v1M655.5 268v1M661.5 268v1M671.5 268v1M686.5 203v2M686.5 216v1M687.5 217v1M687.5 219v1M688.5 200v1M689.5 221v1M692.5 220v2M694.5 223v1M694.5 225v1M696.5 220v1M697.5 220v1M699.5 217v1"/>
<path stroke="#fffa00" d="M53.5 234v1M53.5 239v1M54.5 240v1M56.5 239v1M59.5 240v1M60.5 235v1M61.5 235v1M61.5 240v1M62.5 241v1M64.5 238v1M65.5 231v1M66.5 233v1M67.5 240v1M69.5 241v1M71.5 241v1M72.5 242v1M73.5 235v2M73.5 242v1M74.5 236v1M74.5 244v1M76.5 242v1M77.5 242v1M81.5 243v1M82.5 241v1M83.5 239v1M84.5 212v1M84.5 223v1M84.5 227v1M86.5 230v1M87.5 219v1M88.5 209v1M88.5 230v2M89.5 218v1M89.5 228v1M90.5 210v1M90.5 219v1M91.5 230v1M91.5 234v1M92.5 193v1M92.5 209v1M92.5 225v1M93.5 211v1M93.5 218v1M93.5 220v2M94.5 203v1M94.5 227v1M96.5 225v1M97.5 217v1M98.5 210v1M102.5 241v1M102.5 246v1M103.5 245v1M109.5 241v1M110.5 228v1M111.5 210v1M111.5 226v1M115.5 234v1M115.5 240v1M116.5 218v1M116.5 232v1M122.5 239v1M127.5 209v1M127.5 215v1M127.5 232v1M127.5 256v1M128.5 259v1M130.5 218v1M134.5 216v1M140.5 206v2M145.5 233v1M152.5 236v1M152.5 241v1M153.5 237v1M153.5 242v1M155.5 234v1M155.5 242v1M156.5 236v1M174.5 206v1M175.5 208v1M175.5 217v1M176.5 210v1M177.5 221v1M178.5 221v1M179.5 213v1M179.5 221v1M180.5 222v1M182.5 219v1M184.5 209v1M188.5 206v1M191.5 208v1M192.5 206v1M196.5 206v1M198.5 206v1M199.5 207v1M201.5 206v2M203.5 207v1M207.5 210v1M208.5 199v1M210.5 200v1M212.5 200v1M215.5 198v1M216.5 196v2M217.5 200v1M222.5 196v1M223.5 197v1M232.5 235v1M237.5 193v1M239.5 184v1M239.5 196v1M240.5 201v1M242.5 203v1M243.5 186v2M245.5 191v1M246.5 210v1M247.5 188v1M247.5 209v1M248.5 213v3M249.5 192v1M249.5 216v1M250.5 197v1M251.5 196v1M251.5 218v1M252.5 217v1M254.5 202v1M254.5 217v1M255.5 222v1M257.5 203v1M257.5 220v2M259.5 206v1M259.5 221v1M259.5 223v2M260.5 213v1M260.5 219v1M260.5 221v1M260.5 225v1M263.5 239v1M265.5 236v1M265.5 238v1M267.5 215v4M267.5 220v2M268.5 229v1M268.5 232v1M269.5 221v1M269.5 225v5M269.5 232v1M269.5 234v3M270.5 234v2M270.5 237v2M271.5 212v1M271.5 220v2M271.5 224v1M271.5 227v1M272.5 229v1M272.5 231v2M272.5 234v1M273.5 205v2M273.5 209v1M273.5 215v1M273.5 218v1M273.5 221v2M273.5 226v3M273.5 268v1M274.5 207v1M275.5 235v1M275.5 268v1M276.5 226v1M276.5 228v1M276.5 268v1M277.5 236v1M278.5 205v1M278.5 242v2M279.5 208v1M279.5 238v1M280.5 230v2M281.5 244v1M282.5 203v2M283.5 233v2M283.5 268v1M284.5 208v1M284.5 240v1M286.5 239v1M286.5 268v1M287.5 238v1M287.5 241v1M289.5 212v1M290.5 214v1M290.5 244v1M290.5 268v1M291.5 245v1M291.5 268v1M292.5 239v1M293.5 219v1M294.5 216v1M294.5 246v1M294.5 268v1M295.5 219v1M299.5 230v1M300.5 230v1M302.5 230v2M302.5 239v1M302.5 268v1M303.5 229v2M303.5 240v2M304.5 228v1M305.5 228v1M305.5 241v2M306.5 230v1M306.5 232v1M306.5 243v1M306.5 268v1M307.5 228v1M307.5 242v1M308.5 230v1M309.5 229v1M310.5 226v1M314.5 238v1M315.5 231v1M315.5 237v1M316.5 238v1M318.5 231v1M318.5 237v1M321.5 227v1M321.5 236v1M322.5 223v1M323.5 218v2M324.5 234v1M325.5 223v1M329.5 230v1M329.5 236v1M330.5 237v1M331.5 237v1M336.5 243v1M336.5 246v1M337.5 242v2M339.5 243v2M340.5 243v1M341.5 242v1M341.5 244v1M355.5 231v1M364.5 233v2M365.5 233v1M367.5 236v1M369.5 226v1M369.5 237v2M370.5 233v1M371.5 224v2M372.5 237v1M373.5 239v1M374.5 224v1M374.5 239v2M375.5 224v1M375.5 239v1M375.5 241v2M376.5 242v1M376.5 244v1M377.5 236v1M377.5 239v1M378.5 236v2M379.5 211v1M380.5 211v1M380.5 213v1M381.5 239v1M383.5 240v1M384.5 213v1M384.5 237v1M384.5 239v1M386.5 235v1M387.5 211v1M387.5 224v1M387.5 236v2M388.5 212v1M388.5 236v2M389.5 232v3M390.5 235v1M391.5 236v1M393.5 233v2M395.5 225v1M396.5 225v1M396.5 234v1M396.5 236v1M397.5 238v2M399.5 228v1M399.5 238v2M400.5 239v1M402.5 231v1M405.5 229v1M406.5 240v1M409.5 232v1M409.5 240v1M410.5 240v1M411.5 233v1M411.5 241v1M412.5 228v3M413.5 231v1M414.5 231v1M417.5 232v1M419.5 236v1M420.5 236v1M420.5 238v1M421.5 234v1M421.5 236v1M421.5 238v1M422.5 234v2M423.5 236v1M424.5 236v1M424.5 238v1M426.5 236v1M427.5 235v1M428.5 236v1M429.5 234v1M429.5 236v2M430.5 237v1M431.5 233v1M432.5 234v1M433.5 231v1M433.5 234v2M433.5 238v1M434.5 237v1M435.5 236v1M436.5 236v1M437.5 235v1M438.5 237v1M439.5 235v1M440.5 233v1M440.5 238v1M441.5 231v1M441.5 235v1M442.5 236v1M443.5 231v1M443.5 235v1M443.5 237v1M445.5 236v1M447.5 235v4M449.5 237v1M452.5 238v1M459.5 237v1M462.5 233v1M465.5 234v1M465.5 240v1M467.5 236v1M469.5 237v1M469.5 251v1M469.5 257v2M489.5 231v1M489.5 233v2M491.5 228v1M492.5 230v1M493.5 228v1M494.5 230v2M496.5 228v2M496.5 231v2M497.5 230v3M500.5 205v1M503.5 230v1M505.5 228v1M506.5 220v1M507.5 228v1M508.5 230v1M509.5 230v1M510.5 223v1M512.5 233v1M513.5 225v1M514.5 232v1M515.5 227v1M520.5 227v1M520.5 233v1M521.5 228v1M522.5 233v1M526.5 234v1M527.5 227v2M529.5 213v1M529.5 215v1M530.5 235v1M532.5 214v1M533.5 217v1M533.5 219v1M537.5 231v1M538.5 231v1M541.5 232v1M541.5 235v1M544.5 233v1M547.5 218v1M548.5 218v3M549.5 218v1M550.5 219v1M551.5 220v3M554.5 229v1M555.5 221v1M556.5 228v1M558.5 229v2M559.5 233v1M560.5 225v1M561.5 225v1M564.5 230v1M564.5 234v1M565.5 234v1M568.5 235v1M574.5 233v1M580.5 230v1M581.5 226v3M585.5 225v2M586.5 224v2M588.5 190v2M588.5 194v1M588.5 215v2M588.5 224v1M589.5 185v1M589.5 221v3M590.5 227v1M591.5 189v1M591.5 209v1M591.5 212v1M591.5 214v1M593.5 214v1M594.5 214v1M595.5 217v1M595.5 231v1M596.5 215v1M596.5 239v3M597.5 217v1M597.5 240v1M598.5 221v1M599.5 219v2M599.5 239v1M599.5 241v1M600.5 225v1M600.5 241v1M600.5 245v2M601.5 192v1M601.5 196v1M602.5 197v1M602.5 242v1M602.5 244v1M603.5 224v1M603.5 232v1M603.5 247v1M604.5 213v1M604.5 237v1M605.5 194v1M605.5 220v1M606.5 212v1M607.5 195v1M608.5 193v1M610.5 217v1M611.5 220v2M611.5 235v1M612.5 219v1M612.5 233v1M613.5 219v1M615.5 222v2M616.5 219v1M617.5 238v1M618.5 240v1M618.5 242v1M620.5 195v1M620.5 199v2M620.5 208v2M620.5 223v1M620.5 242v1M621.5 195v1M621.5 200v1M621.5 208v1M621.5 212v1M621.5 249v1M622.5 213v1M622.5 217v1M622.5 223v2M622.5 247v1M623.5 189v1M623.5 191v2M623.5 209v1M623.5 211v1M623.5 216v1M623.5 229v2M623.5 232v1M623.5 246v2M624.5 232v1M624.5 234v1M624.5 247v1M625.5 192v1M625.5 202v1M625.5 238v1M625.5 240v1M626.5 195v2M626.5 198v1M629.5 230v2M630.5 222v1M630.5 232v2M631.5 220v1M631.5 232v1M632.5 234v1M633.5 222v1M633.5 233v1M634.5 223v1M635.5 224v1M635.5 236v1M637.5 225v1M638.5 186v2M641.5 178v1M641.5 191v1M642.5 174v1M643.5 201v1M646.5 173v1M646.5 192v1M646.5 237v1M646.5 239v1M647.5 200v1M647.5 238v2M648.5 178v2M648.5 209v1M648.5 236v2M648.5 239v1M649.5 181v1M650.5 175v1M650.5 197v1M651.5 188v2M686.5 215v1M686.5 218v1M687.5 201v2M688.5 201v2M688.5 218v1M688.5 220v1M689.5 218v1M689.5 220v1M691.5 201v1M691.5 220v1M692.5 219v1M693.5 218v2M694.5 222v1M695.5 218v1M695.5 220v2M697.5 217v1M697.5 219v1M698.5 220v1M699.5 218v1"/>
<path stroke="#ffe300" d="M52.5 239v1M53.5 235v1M55.5 240v1M56.5 235v1M57.5 235v2M58.5 235v1M58.5 237v1M58.5 240v1M59.5 235v1M59.5 239v1M60.5 236v1M60.5 240v1M67.5 232v2M67.5 239v1M71.5 240v1M72.5 236v1M75.5 237v1M76.5 236v1M78.5 235v1M79.5 236v1M80.5 234v1M80.5 242v1M81.5 232v1M81.5 244v1M84.5 230v1M85.5 211v2M85.5 219v1M86.5 208v1M86.5 220v1M86.5 231v1M86.5 237v1M87.5 211v1M87.5 218v1M88.5 208v1M88.5 218v1M89.5 197v1M89.5 208v1M89.5 217v1M90.5 192v1M90.5 211v1M90.5 229v1M90.5 231v3M91.5 208v2M91.5 240v1M92.5 235v1M93.5 192v1M93.5 197v1M94.5 205v1M94.5 209v3M95.5 209v2M96.5 217v1M96.5 236v1M98.5 211v1M98.5 223v1M98.5 225v1M99.5 210v1M100.5 212v1M100.5 240v1M100.5 244v1M103.5 240v1M110.5 220v1M113.5 235v1M116.5 221v1M117.5 221v1M124.5 235v1M125.5 236v1M126.5 235v1M127.5 197v1M127.5 208v1M127.5 216v3M127.5 235v1M142.5 210v1M143.5 203v1M144.5 232v1M145.5 203v1M145.5 236v1M148.5 234v1M154.5 234v1M155.5 235v1M156.5 239v1M174.5 212v1M175.5 209v1M176.5 211v1M177.5 212v1M179.5 214v1M183.5 212v1M186.5 208v1M188.5 207v1M189.5 209v1M190.5 206v1M192.5 207v1M193.5 209v1M195.5 206v1M197.5 206v1M200.5 204v1M204.5 202v1M205.5 204v1M208.5 201v1M210.5 202v2M213.5 197v2M214.5 199v1M215.5 197v1M218.5 197v1M219.5 197v1M230.5 237v1M234.5 191v1M238.5 195v1M240.5 200v1M241.5 200v1M243.5 208v1M244.5 190v1M245.5 209v1M247.5 189v1M247.5 210v1M248.5 189v4M250.5 196v1M250.5 198v1M250.5 213v1M251.5 216v2M253.5 219v1M254.5 203v1M254.5 216v1M256.5 204v1M257.5 202v1M258.5 217v2M259.5 207v1M259.5 219v2M259.5 222v1M260.5 220v1M263.5 231v1M263.5 233v1M263.5 235v4M263.5 240v1M265.5 232v1M265.5 235v1M266.5 220v2M267.5 214v1M267.5 219v1M268.5 230v2M269.5 212v2M269.5 216v4M269.5 222v2M270.5 233v1M270.5 236v1M271.5 213v1M271.5 222v2M272.5 207v1M272.5 209v1M272.5 230v1M273.5 207v1M273.5 211v1M273.5 216v1M273.5 220v1M273.5 223v2M273.5 229v1M274.5 236v1M275.5 204v1M276.5 209v1M276.5 219v1M276.5 221v1M276.5 224v1M276.5 227v1M277.5 205v1M277.5 233v1M277.5 235v1M278.5 206v1M278.5 240v1M279.5 234v1M279.5 239v1M280.5 229v1M281.5 241v1M281.5 243v1M281.5 245v1M282.5 205v2M282.5 226v1M282.5 229v1M282.5 231v2M283.5 230v1M283.5 235v1M284.5 236v1M284.5 239v1M285.5 205v1M285.5 238v1M286.5 210v1M286.5 240v1M287.5 207v3M287.5 236v1M288.5 211v1M288.5 238v1M289.5 240v1M289.5 244v1M290.5 215v1M290.5 242v1M291.5 212v1M291.5 240v1M291.5 243v2M293.5 239v1M294.5 245v1M295.5 220v2M295.5 245v1M296.5 222v1M302.5 238v1M303.5 231v1M304.5 242v1M305.5 230v1M306.5 241v2M307.5 229v1M307.5 231v1M308.5 229v1M308.5 231v1M308.5 241v1M309.5 228v1M309.5 241v1M311.5 238v1M312.5 209v2M312.5 212v1M312.5 214v1M312.5 216v1M312.5 231v1M313.5 213v1M313.5 215v1M313.5 217v1M313.5 237v1M316.5 237v1M323.5 220v1M323.5 222v1M324.5 222v1M324.5 224v1M325.5 224v1M327.5 224v3M328.5 235v1M330.5 236v1M333.5 233v1M333.5 238v1M334.5 238v1M335.5 239v1M336.5 244v1M337.5 241v1M338.5 243v2M339.5 241v1M340.5 241v2M341.5 239v1M342.5 240v1M359.5 235v1M363.5 229v1M367.5 226v1M367.5 235v1M368.5 235v1M369.5 236v1M370.5 224v1M370.5 234v1M371.5 238v1M372.5 238v1M373.5 224v1M374.5 237v1M375.5 240v1M378.5 234v2M379.5 223v1M379.5 237v1M380.5 239v1M381.5 222v1M381.5 236v2M382.5 234v1M383.5 224v1M383.5 236v1M383.5 238v1M385.5 237v1M386.5 234v1M387.5 235v1M390.5 233v1M393.5 225v1M394.5 235v1M394.5 237v1M398.5 226v2M398.5 236v1M400.5 229v1M402.5 232v1M403.5 228v2M403.5 241v1M404.5 240v1M405.5 239v2M406.5 239v1M408.5 240v1M412.5 240v1M413.5 232v2M414.5 232v1M415.5 228v1M416.5 231v1M416.5 240v1M417.5 233v1M419.5 235v1M419.5 237v1M420.5 239v1M421.5 237v1M422.5 236v1M424.5 235v1M424.5 237v1M425.5 234v1M425.5 236v1M428.5 237v2M432.5 236v2M433.5 236v1M439.5 236v1M440.5 234v1M441.5 233v1M441.5 236v2M444.5 235v2M446.5 236v1M448.5 236v1M456.5 237v2M460.5 238v1M462.5 235v1M462.5 237v3M463.5 236v1M464.5 233v1M464.5 239v1M469.5 253v1M473.5 250v1M474.5 258v1M476.5 255v1M480.5 257v1M481.5 254v1M492.5 229v1M492.5 231v1M492.5 233v1M496.5 230v1M500.5 226v1M501.5 201v1M501.5 205v1M501.5 216v1M501.5 229v1M502.5 205v1M502.5 218v1M502.5 227v2M503.5 217v1M504.5 230v1M505.5 218v1M508.5 224v1M510.5 224v1M513.5 226v1M516.5 233v1M517.5 225v1M517.5 232v1M518.5 226v1M519.5 226v1M519.5 232v1M522.5 228v1M526.5 228v1M527.5 235v1M530.5 213v1M531.5 217v1M531.5 228v1M532.5 216v1M532.5 234v1M533.5 218v1M540.5 235v1M550.5 218v1M550.5 220v1M550.5 222v1M552.5 221v3M553.5 226v1M554.5 220v1M554.5 228v1M555.5 222v1M558.5 228v1M560.5 230v2M562.5 228v2M563.5 230v1M564.5 231v3M565.5 235v1M566.5 233v1M567.5 231v1M568.5 230v1M569.5 235v1M585.5 224v1M587.5 223v1M587.5 228v1M588.5 195v1M588.5 213v1M588.5 218v1M588.5 223v1M589.5 207v1M589.5 211v3M589.5 224v1M589.5 226v1M590.5 211v2M590.5 224v1M591.5 188v1M591.5 230v1M592.5 197v1M592.5 210v2M592.5 213v1M593.5 213v1M593.5 215v1M594.5 213v1M594.5 230v1M596.5 217v1M596.5 237v2M597.5 237v2M598.5 243v1M599.5 223v1M600.5 228v1M600.5 240v1M600.5 242v1M601.5 240v2M602.5 195v1M602.5 220v1M602.5 230v1M602.5 243v1M604.5 196v3M604.5 200v1M604.5 212v1M604.5 238v1M605.5 214v1M605.5 223v1M605.5 225v1M605.5 230v1M606.5 193v3M607.5 212v1M607.5 225v1M608.5 195v1M608.5 216v1M608.5 219v1M609.5 200v2M609.5 214v1M609.5 216v2M613.5 222v1M613.5 232v1M615.5 234v1M616.5 220v2M616.5 224v1M617.5 225v1M617.5 237v1M618.5 226v1M618.5 238v1M620.5 194v1M620.5 201v2M620.5 205v1M620.5 207v1M620.5 241v1M621.5 194v1M621.5 196v1M621.5 201v2M621.5 204v1M621.5 224v2M621.5 246v1M621.5 248v1M621.5 250v1M622.5 192v1M622.5 208v1M622.5 219v1M622.5 222v1M622.5 226v1M622.5 228v1M622.5 246v1M623.5 195v1M623.5 203v1M623.5 206v1M623.5 215v1M623.5 241v1M623.5 243v1M624.5 194v1M624.5 204v1M624.5 208v1M624.5 233v1M624.5 243v1M624.5 248v1M625.5 205v2M626.5 190v2M626.5 194v1M627.5 191v1M627.5 195v1M629.5 220v1M630.5 223v1M630.5 231v1M632.5 220v2M633.5 223v1M634.5 235v2M635.5 235v1M635.5 237v1M636.5 225v1M636.5 235v1M637.5 184v2M637.5 234v1M638.5 179v1M638.5 188v1M638.5 227v1M640.5 193v2M642.5 173v1M642.5 198v2M643.5 177v1M643.5 179v1M644.5 193v2M645.5 195v1M645.5 201v1M647.5 177v3M648.5 206v1M649.5 182v1M649.5 213v1M651.5 187v1M686.5 207v1M687.5 199v2M687.5 216v1M688.5 216v1M688.5 219v1M689.5 204v2M689.5 219v1M690.5 220v1M691.5 222v1M692.5 201v1M692.5 204v1M692.5 218v1M693.5 215v1M693.5 217v1M694.5 220v2M695.5 198v1M696.5 219v1M697.5 196v1M697.5 218v1M698.5 217v2M699.5 191v1"/>
<path stroke="#ffcc00" d="M52.5 235v1M54.5 235v2M55.5 236v1M56.5 234v1M57.5 239v1M58.5 236v1M58.5 239v1M60.5 237v1M61.5 239v1M62.5 235v1M63.5 239v1M66.5 234v1M66.5 238v1M77.5 236v1M78.5 236v1M80.5 241v1M81.5 233v1M81.5 242v1M82.5 233v2M83.5 233v1M84.5 213v1M84.5 219v1M84.5 232v1M85.5 218v1M85.5 232v1M86.5 212v1M86.5 219v1M87.5 212v1M87.5 230v1M89.5 185v1M89.5 190v1M89.5 210v1M89.5 232v1M90.5 188v1M90.5 218v1M91.5 196v1M92.5 191v2M92.5 194v2M92.5 208v1M92.5 211v1M93.5 194v1M93.5 206v1M95.5 212v1M95.5 218v1M96.5 210v2M97.5 209v2M97.5 225v1M98.5 208v1M98.5 238v1M101.5 212v1M107.5 215v2M110.5 208v1M110.5 217v1M110.5 221v1M111.5 208v1M111.5 227v1M111.5 241v1M112.5 236v1M114.5 241v1M117.5 211v1M117.5 218v1M117.5 235v1M118.5 208v1M118.5 211v1M125.5 234v1M126.5 233v1M127.5 195v2M127.5 199v1M127.5 211v1M127.5 234v1M139.5 209v1M144.5 203v1M144.5 208v1M145.5 207v1M154.5 242v1M155.5 241v1M156.5 237v1M175.5 210v1M176.5 212v1M176.5 218v1M177.5 213v1M177.5 220v1M178.5 213v1M178.5 220v1M180.5 215v1M182.5 211v1M182.5 213v1M183.5 213v1M184.5 210v1M185.5 208v1M188.5 209v1M190.5 208v1M193.5 208v1M194.5 206v1M195.5 207v2M196.5 207v2M197.5 208v1M198.5 207v1M200.5 205v1M202.5 205v1M204.5 205v1M205.5 205v1M206.5 206v2M208.5 200v1M209.5 203v1M210.5 201v1M211.5 204v1M212.5 201v2M213.5 199v1M216.5 198v1M218.5 198v1M230.5 239v1M235.5 184v1M236.5 191v1M238.5 194v1M241.5 186v1M242.5 202v1M243.5 207v1M244.5 205v1M246.5 208v2M247.5 191v1M248.5 212v1M249.5 194v1M249.5 214v2M250.5 199v1M250.5 214v2M251.5 197v1M252.5 200v2M252.5 216v1M253.5 218v1M255.5 200v2M255.5 219v1M255.5 221v1M256.5 218v2M257.5 204v1M258.5 203v2M258.5 216v1M259.5 215v1M260.5 214v1M260.5 216v1M260.5 218v1M265.5 230v1M265.5 233v2M266.5 212v1M266.5 219v1M266.5 223v3M267.5 213v1M268.5 226v3M269.5 215v1M269.5 224v1M270.5 209v2M270.5 227v2M271.5 211v1M271.5 214v6M272.5 208v1M272.5 224v1M272.5 226v2M273.5 208v1M273.5 212v1M274.5 234v1M274.5 237v1M275.5 205v3M275.5 234v1M275.5 236v1M276.5 208v1M276.5 212v1M276.5 222v2M276.5 225v1M277.5 231v2M277.5 234v1M278.5 238v2M279.5 209v1M279.5 231v1M279.5 235v3M280.5 228v1M281.5 242v1M282.5 228v1M283.5 227v3M283.5 231v2M284.5 237v2M285.5 206v1M285.5 236v2M286.5 236v2M287.5 210v1M287.5 232v3M287.5 237v1M288.5 212v1M288.5 237v1M289.5 213v2M289.5 239v1M289.5 241v2M290.5 239v1M290.5 241v1M291.5 213v2M291.5 239v1M293.5 220v1M294.5 244v1M295.5 222v1M295.5 243v2M296.5 223v2M298.5 228v3M300.5 232v1M301.5 228v1M301.5 245v1M302.5 232v1M304.5 231v1M304.5 241v1M305.5 229v1M305.5 231v2M307.5 230v1M309.5 230v1M310.5 228v2M310.5 242v1M311.5 237v1M312.5 208v1M312.5 213v1M312.5 215v1M312.5 217v1M313.5 209v1M313.5 211v2M315.5 236v1M316.5 231v1M321.5 228v1M322.5 225v1M322.5 228v1M323.5 221v1M324.5 221v1M324.5 223v1M326.5 224v1M327.5 227v1M332.5 233v1M336.5 241v1M336.5 245v1M339.5 242v1M340.5 240v1M341.5 238v1M341.5 240v2M363.5 234v1M366.5 234v2M368.5 226v1M368.5 232v1M369.5 235v1M370.5 225v1M371.5 237v1M372.5 224v1M372.5 236v1M373.5 237v2M374.5 236v1M374.5 238v1M376.5 223v1M376.5 238v2M377.5 235v1M377.5 237v1M378.5 232v1M379.5 235v2M379.5 238v1M380.5 223v1M380.5 237v1M381.5 223v1M382.5 224v1M382.5 233v1M383.5 237v1M384.5 236v1M385.5 234v1M385.5 236v1M387.5 234v1M388.5 223v1M388.5 235v1M389.5 230v2M390.5 232v1M390.5 234v1M391.5 233v1M393.5 232v1M394.5 236v1M395.5 226v1M395.5 235v1M396.5 233v1M397.5 236v1M398.5 235v1M400.5 230v1M402.5 233v1M402.5 239v2M403.5 230v1M404.5 231v3M405.5 230v3M406.5 231v2M407.5 230v2M408.5 232v1M409.5 233v2M410.5 231v2M412.5 231v1M414.5 233v2M415.5 229v3M416.5 232v1M417.5 234v5M420.5 237v1M425.5 235v1M425.5 237v1M432.5 238v1M437.5 236v1M439.5 237v1M440.5 235v3M444.5 237v1M445.5 237v1M446.5 237v1M448.5 237v1M459.5 238v1M463.5 237v2M464.5 234v2M465.5 235v2M473.5 256v1M476.5 256v1M498.5 218v1M498.5 226v1M499.5 217v1M500.5 218v1M500.5 227v1M501.5 227v1M502.5 200v1M502.5 202v1M502.5 204v1M504.5 219v1M504.5 228v2M506.5 230v2M507.5 222v1M509.5 225v1M511.5 232v1M512.5 226v1M514.5 231v1M517.5 226v1M517.5 231v1M523.5 228v1M528.5 219v1M529.5 214v1M529.5 227v1M530.5 217v1M531.5 216v1M532.5 215v1M532.5 228v1M533.5 220v1M533.5 229v1M534.5 222v1M534.5 229v2M535.5 230v1M536.5 235v1M537.5 232v1M539.5 232v1M549.5 220v1M553.5 221v1M554.5 221v1M554.5 227v1M555.5 223v1M555.5 225v2M556.5 224v1M557.5 226v1M558.5 223v1M561.5 233v1M562.5 231v1M565.5 232v1M566.5 232v1M568.5 231v1M568.5 234v1M570.5 232v1M570.5 234v1M581.5 229v1M588.5 192v2M588.5 197v1M588.5 200v1M588.5 212v1M588.5 214v1M588.5 217v1M589.5 183v2M589.5 189v2M589.5 192v2M589.5 206v1M589.5 210v1M589.5 214v1M590.5 207v3M590.5 213v1M590.5 225v1M591.5 206v1M591.5 208v1M591.5 215v1M592.5 199v3M592.5 209v1M592.5 212v1M592.5 230v1M593.5 217v1M594.5 215v4M594.5 229v1M595.5 218v2M596.5 216v1M597.5 219v2M597.5 236v1M597.5 239v1M598.5 223v1M598.5 242v1M599.5 221v2M599.5 224v1M599.5 237v1M599.5 240v1M600.5 239v1M601.5 222v1M602.5 192v2M602.5 196v1M602.5 222v1M602.5 231v1M603.5 225v2M603.5 231v1M603.5 234v2M603.5 243v1M603.5 245v1M604.5 199v1M604.5 201v1M604.5 211v1M604.5 214v1M604.5 225v1M604.5 230v1M604.5 239v1M605.5 195v1M605.5 226v1M605.5 229v1M606.5 211v1M606.5 217v1M606.5 222v1M607.5 211v1M607.5 215v2M608.5 199v1M608.5 217v2M609.5 199v1M609.5 219v1M610.5 216v1M610.5 218v1M610.5 220v1M610.5 229v1M610.5 233v1M611.5 223v1M611.5 234v1M612.5 220v1M612.5 232v1M613.5 220v1M613.5 223v1M618.5 227v1M618.5 239v1M619.5 224v1M620.5 203v1M620.5 224v1M621.5 199v1M621.5 203v1M621.5 226v1M622.5 195v2M622.5 203v1M622.5 210v1M623.5 193v1M623.5 204v2M623.5 235v1M623.5 240v1M623.5 242v1M624.5 193v1M624.5 196v1M624.5 200v1M624.5 202v2M624.5 205v1M624.5 244v1M624.5 246v1M625.5 198v2M625.5 203v1M626.5 192v1M627.5 193v1M628.5 192v2M629.5 221v1M629.5 229v1M630.5 230v1M631.5 221v2M632.5 230v1M632.5 232v1M633.5 224v1M635.5 225v1M636.5 233v2M637.5 183v1M637.5 186v1M638.5 184v2M638.5 235v1M639.5 178v3M639.5 189v2M640.5 174v4M640.5 190v2M641.5 190v1M642.5 197v1M643.5 180v1M643.5 196v1M643.5 199v2M644.5 175v1M645.5 177v2M645.5 200v1M646.5 191v1M648.5 203v1M648.5 208v1M649.5 214v5M686.5 205v2M686.5 212v2M687.5 203v1M688.5 204v2M688.5 217v1M689.5 203v1M689.5 217v1M690.5 219v1M691.5 203v1M691.5 219v1M691.5 221v1M692.5 202v1M692.5 206v1M692.5 217v1M693.5 216v1M694.5 197v1M694.5 200v1M695.5 199v1M695.5 219v1M696.5 218v1M697.5 216v1M698.5 216v1M699.5 216v1"/>
<path stroke="#ffb400" d="M52.5 236v1M53.5 238v1M54.5 237v1M55.5 237v1M55.5 239v1M56.5 236v1M56.5 238v1M57.5 237v1M59.5 236v1M60.5 239v1M61.5 236v1M62.5 236v1M62.5 240v1M63.5 234v1M65.5 232v1M76.5 241v1M78.5 242v1M81.5 241v1M83.5 238v1M84.5 218v1M85.5 213v1M86.5 213v1M87.5 213v1M87.5 231v1M88.5 210v1M88.5 217v1M89.5 209v1M90.5 191v1M91.5 188v1M91.5 192v1M95.5 203v1M95.5 211v1M95.5 213v1M99.5 212v1M103.5 241v1M107.5 217v1M107.5 219v1M107.5 222v1M108.5 219v3M109.5 219v1M109.5 236v1M110.5 236v1M114.5 235v1M116.5 210v1M117.5 220v1M117.5 232v1M118.5 209v2M125.5 235v1M127.5 200v1M127.5 210v1M127.5 212v1M127.5 233v1M144.5 234v1M146.5 233v1M152.5 237v1M154.5 235v1M159.5 234v1M174.5 207v1M175.5 215v1M178.5 214v1M181.5 215v1M182.5 212v1M184.5 212v1M185.5 209v1M186.5 211v1M188.5 208v1M188.5 210v1M189.5 210v1M191.5 209v1M192.5 208v2M194.5 207v1M197.5 207v1M199.5 208v1M200.5 206v1M202.5 208v1M204.5 204v1M204.5 206v2M205.5 206v1M207.5 203v2M208.5 202v2M212.5 203v1M213.5 200v1M214.5 200v2M215.5 199v1M219.5 198v1M231.5 196v2M234.5 190v1M235.5 191v1M236.5 185v1M239.5 185v1M239.5 195v1M241.5 199v1M243.5 188v2M243.5 204v3M244.5 204v1M245.5 192v1M245.5 208v1M246.5 206v1M247.5 190v1M248.5 194v1M248.5 211v1M249.5 193v1M249.5 265v1M250.5 212v1M250.5 266v2M251.5 199v1M252.5 202v2M252.5 215v1M253.5 202v2M255.5 220v1M256.5 217v1M257.5 217v1M257.5 219v1M259.5 216v3M260.5 215v1M263.5 227v4M263.5 232v1M263.5 234v1M265.5 225v1M265.5 229v1M265.5 231v1M266.5 214v1M266.5 216v1M266.5 222v1M268.5 224v2M269.5 214v1M269.5 220v1M270.5 221v1M270.5 224v1M270.5 226v1M270.5 230v3M272.5 217v1M272.5 219v1M272.5 228v1M273.5 210v1M273.5 213v2M273.5 217v1M273.5 219v1M274.5 235v1M275.5 208v1M275.5 230v1M275.5 232v2M276.5 210v2M276.5 213v3M276.5 217v2M276.5 220v1M277.5 206v1M277.5 230v1M278.5 235v1M278.5 237v1M279.5 227v1M280.5 227v1M281.5 238v3M282.5 223v3M282.5 227v1M283.5 225v1M285.5 234v1M285.5 239v1M286.5 211v1M286.5 238v1M287.5 235v1M289.5 236v3M290.5 237v2M290.5 240v1M291.5 238v1M291.5 241v2M292.5 217v2M292.5 238v1M294.5 217v1M294.5 243v1M297.5 225v1M298.5 231v3M299.5 231v1M300.5 233v1M301.5 230v1M302.5 233v1M304.5 230v1M306.5 233v3M306.5 240v1M307.5 232v1M307.5 241v1M308.5 232v1M308.5 240v1M309.5 240v1M310.5 241v1M311.5 230v2M312.5 211v1M313.5 208v1M313.5 210v1M313.5 214v1M313.5 216v1M320.5 236v1M321.5 229v1M322.5 226v1M323.5 223v1M326.5 225v1M326.5 228v1M329.5 231v1M329.5 235v1M334.5 237v1M337.5 239v1M338.5 242v1M339.5 240v1M342.5 239v1M366.5 233v1M368.5 233v2M371.5 236v1M372.5 234v1M373.5 236v1M375.5 238v1M376.5 237v1M376.5 240v1M377.5 231v2M377.5 234v1M380.5 238v1M382.5 231v2M383.5 233v3M384.5 235v1M385.5 235v1M386.5 232v2M387.5 225v1M391.5 234v1M392.5 231v3M393.5 231v1M395.5 234v1M396.5 232v1M397.5 226v1M397.5 234v2M398.5 233v2M399.5 237v1M400.5 231v1M400.5 238v1M401.5 231v2M401.5 238v2M403.5 239v2M404.5 239v1M406.5 233v1M407.5 241v1M408.5 233v1M409.5 239v1M410.5 239v1M411.5 234v1M411.5 240v1M412.5 232v1M412.5 239v1M413.5 234v2M414.5 235v1M414.5 241v1M415.5 232v1M415.5 239v1M416.5 233v1M443.5 236v1M464.5 236v1M465.5 239v1M476.5 258v1M498.5 219v1M500.5 203v1M501.5 217v1M501.5 228v1M502.5 219v1M503.5 218v1M508.5 225v1M508.5 229v1M514.5 226v1M518.5 227v1M525.5 229v1M528.5 221v2M529.5 216v1M530.5 218v1M530.5 228v2M531.5 219v1M531.5 221v1M531.5 226v1M532.5 218v1M532.5 229v1M533.5 230v1M534.5 227v1M538.5 232v1M540.5 232v1M541.5 234v1M543.5 234v1M550.5 221v1M553.5 223v2M554.5 224v3M555.5 224v1M557.5 227v1M557.5 229v1M558.5 225v1M559.5 227v1M559.5 231v2M560.5 228v2M561.5 227v2M561.5 232v1M563.5 231v1M567.5 234v1M587.5 222v1M587.5 224v1M588.5 196v1M588.5 203v1M588.5 226v1M589.5 186v3M589.5 202v1M589.5 205v1M590.5 181v1M590.5 183v2M590.5 189v1M590.5 204v1M590.5 210v1M590.5 215v1M590.5 223v1M591.5 181v2M591.5 187v1M591.5 200v1M591.5 204v1M591.5 207v1M591.5 226v1M592.5 206v1M592.5 208v1M592.5 215v1M593.5 216v1M594.5 220v1M595.5 220v1M598.5 222v1M598.5 240v2M599.5 235v2M599.5 238v1M600.5 231v1M600.5 234v1M600.5 236v2M601.5 194v2M602.5 194v1M603.5 244v1M604.5 204v1M604.5 208v1M604.5 210v1M605.5 196v2M605.5 211v1M606.5 196v1M606.5 198v1M606.5 200v1M606.5 210v1M606.5 218v1M606.5 224v1M606.5 231v1M607.5 198v1M607.5 214v1M607.5 217v1M607.5 224v1M607.5 226v1M608.5 197v2M609.5 204v1M609.5 212v1M609.5 226v1M609.5 228v1M610.5 219v1M611.5 222v1M612.5 221v2M613.5 221v1M614.5 223v1M615.5 224v1M616.5 234v1M617.5 226v1M617.5 229v1M619.5 238v1M620.5 239v1M621.5 227v2M621.5 244v1M621.5 247v1M622.5 193v1M622.5 197v1M622.5 201v1M622.5 204v1M622.5 229v1M622.5 244v2M623.5 171v4M623.5 180v1M623.5 198v1M623.5 200v1M623.5 202v1M623.5 207v1M623.5 233v2M624.5 165v3M624.5 176v2M624.5 197v1M624.5 201v1M624.5 235v1M624.5 238v1M625.5 239v1M627.5 192v1M628.5 190v1M629.5 228v1M631.5 230v2M632.5 222v1M633.5 231v2M634.5 234v1M635.5 226v1M636.5 226v1M637.5 178v1M637.5 226v2M637.5 233v1M638.5 180v1M638.5 228v1M638.5 234v1M639.5 185v4M640.5 178v3M640.5 189v1M641.5 189v1M643.5 178v1M643.5 194v2M644.5 177v1M644.5 192v1M645.5 179v1M645.5 193v2M645.5 196v2M646.5 174v1M646.5 176v1M646.5 190v1M647.5 194v2M647.5 197v2M648.5 201v1M648.5 205v1M649.5 207v1M649.5 210v1M649.5 212v1M650.5 177v1M650.5 193v1M650.5 195v2M686.5 208v1M686.5 214v1M687.5 206v1M687.5 215v1M688.5 203v1M688.5 214v1M690.5 204v2M691.5 200v1M691.5 202v1M691.5 204v1M691.5 206v1M691.5 217v1M692.5 203v1M692.5 215v2M693.5 200v1M693.5 202v1M693.5 214v1M694.5 218v1M695.5 217v1M696.5 196v1M696.5 215v3M697.5 197v1M697.5 199v1M698.5 196v1M698.5 198v2M698.5 214v2M699.5 190v1M699.5 192v2M699.5 195v1"/>
<path stroke="#ff9d00" d="M52.5 237v2M54.5 238v2M56.5 237v1M58.5 238v1M61.5 237v1M63.5 235v1M63.5 238v1M64.5 234v1M64.5 237v1M68.5 233v1M72.5 241v1M78.5 237v1M81.5 234v1M82.5 240v1M85.5 209v1M88.5 211v1M89.5 198v1M89.5 212v1M89.5 233v1M90.5 185v1M90.5 193v1M90.5 212v1M91.5 189v1M91.5 211v1M93.5 193v1M93.5 207v1M94.5 212v1M97.5 208v1M98.5 224v1M99.5 209v1M99.5 211v1M100.5 211v1M108.5 218v1M109.5 216v2M110.5 210v1M127.5 198v1M127.5 201v2M127.5 220v1M130.5 219v1M146.5 235v1M155.5 236v1M155.5 240v1M175.5 211v1M175.5 216v1M182.5 215v1M184.5 211v1M185.5 210v1M186.5 210v1M190.5 209v2M194.5 209v1M197.5 209v1M198.5 208v1M200.5 207v1M201.5 208v1M202.5 207v1M207.5 205v2M208.5 205v1M215.5 200v1M219.5 199v1M231.5 198v1M232.5 196v3M235.5 162v1M235.5 185v1M236.5 190v1M237.5 192v1M238.5 193v1M239.5 194v1M240.5 199v1M245.5 207v1M246.5 207v1M247.5 192v2M248.5 195v1M248.5 210v1M249.5 212v2M249.5 266v2M250.5 200v1M250.5 210v1M250.5 265v1M251.5 198v1M251.5 215v1M252.5 214v1M253.5 215v1M253.5 217v1M254.5 204v1M254.5 214v1M255.5 202v2M255.5 216v3M257.5 205v1M257.5 218v1M263.5 216v1M263.5 218v1M263.5 221v2M263.5 224v1M265.5 224v1M265.5 228v1M266.5 213v1M266.5 217v2M268.5 219v2M268.5 222v2M270.5 218v2M270.5 225v1M270.5 229v1M272.5 213v1M272.5 215v1M272.5 223v1M272.5 225v1M274.5 208v2M274.5 229v1M274.5 232v2M275.5 224v1M275.5 226v4M275.5 231v1M276.5 216v1M277.5 207v1M277.5 226v1M277.5 228v2M278.5 207v1M278.5 231v1M278.5 234v1M278.5 236v1M279.5 210v1M279.5 223v1M279.5 225v1M279.5 228v3M279.5 232v2M280.5 226v1M281.5 235v1M281.5 237v1M282.5 207v1M283.5 220v1M284.5 234v2M285.5 207v1M285.5 209v1M285.5 232v1M287.5 211v1M287.5 213v1M287.5 231v1M288.5 235v2M289.5 234v1M290.5 236v1M292.5 236v1M293.5 221v1M296.5 225v1M297.5 226v1M298.5 234v1M298.5 236v1M299.5 233v1M300.5 234v3M301.5 229v1M302.5 234v1M303.5 233v1M303.5 238v1M304.5 232v1M304.5 240v1M305.5 234v1M305.5 240v1M307.5 233v1M308.5 233v1M308.5 239v1M309.5 231v2M310.5 230v1M313.5 236v1M322.5 227v1M323.5 224v2M323.5 227v2M324.5 226v1M325.5 225v1M325.5 227v1M326.5 226v2M326.5 229v1M336.5 242v1M337.5 240v1M338.5 241v1M339.5 239v1M367.5 233v1M369.5 234v1M370.5 231v2M371.5 235v1M372.5 235v1M373.5 234v2M374.5 234v2M375.5 237v1M377.5 233v1M378.5 231v1M378.5 233v1M380.5 235v2M381.5 234v2M384.5 223v1M387.5 233v1M388.5 233v2M390.5 231v1M394.5 234v1M395.5 232v1M396.5 231v1M398.5 228v1M399.5 229v1M399.5 236v1M401.5 233v1M402.5 238v1M406.5 238v1M407.5 232v1M409.5 235v1M411.5 235v2M412.5 233v2M413.5 240v1M416.5 234v1M499.5 218v1M499.5 225v1M501.5 200v1M501.5 202v1M501.5 226v1M502.5 201v1M502.5 203v1M502.5 226v1M503.5 228v1M505.5 220v1M505.5 227v1M506.5 221v1M528.5 224v1M528.5 227v1M529.5 217v2M530.5 226v1M531.5 220v1M531.5 227v1M532.5 221v1M532.5 224v2M533.5 221v1M534.5 223v1M541.5 233v1M542.5 233v1M553.5 222v1M556.5 225v1M556.5 227v1M557.5 228v1M558.5 224v1M559.5 230v1M560.5 227v1M561.5 229v1M565.5 233v1M569.5 232v1M572.5 240v1M573.5 238v1M573.5 240v1M587.5 225v1M588.5 198v1M588.5 201v2M588.5 207v2M588.5 210v1M589.5 196v1M589.5 198v2M589.5 201v1M589.5 203v2M589.5 215v1M589.5 220v1M590.5 180v1M590.5 182v1M590.5 185v2M590.5 188v1M590.5 214v1M591.5 180v1M591.5 184v1M591.5 199v1M591.5 201v1M591.5 203v1M591.5 229v1M592.5 203v1M592.5 214v1M592.5 216v1M592.5 228v2M593.5 219v2M594.5 227v2M595.5 229v2M596.5 218v2M596.5 221v1M597.5 224v1M597.5 233v1M597.5 235v1M598.5 224v1M598.5 239v1M599.5 225v1M599.5 227v1M599.5 234v1M600.5 232v1M600.5 235v1M600.5 238v1M601.5 193v1M601.5 227v1M601.5 239v1M602.5 232v2M602.5 238v1M602.5 240v1M603.5 240v1M606.5 177v3M606.5 197v1M606.5 199v1M606.5 206v3M606.5 221v1M606.5 223v1M607.5 199v1M607.5 223v1M607.5 227v1M608.5 196v1M608.5 210v1M608.5 214v2M608.5 220v1M609.5 202v1M609.5 208v1M609.5 210v2M609.5 213v1M609.5 220v1M610.5 228v1M611.5 224v1M611.5 227v1M612.5 230v2M613.5 225v1M613.5 231v1M614.5 225v1M615.5 233v1M616.5 225v1M617.5 227v1M617.5 235v1M618.5 228v1M619.5 225v2M620.5 238v1M620.5 240v1M621.5 241v1M621.5 245v1M622.5 194v1M622.5 202v1M622.5 231v1M623.5 169v1M623.5 175v2M623.5 178v2M623.5 181v2M623.5 197v1M623.5 201v1M624.5 169v2M624.5 178v2M624.5 182v1M624.5 195v1M624.5 199v1M624.5 240v3M625.5 195v2M628.5 191v1M632.5 223v1M632.5 231v1M634.5 224v1M635.5 234v1M637.5 166v1M637.5 168v1M637.5 172v3M637.5 182v1M638.5 172v2M638.5 183v1M638.5 229v1M639.5 181v1M640.5 184v1M640.5 188v1M641.5 179v1M642.5 177v1M642.5 195v1M643.5 190v3M644.5 176v1M644.5 190v1M645.5 192v1M646.5 189v1M647.5 180v1M647.5 196v1M648.5 198v3M649.5 183v3M649.5 202v1M649.5 205v2M650.5 178v2M650.5 191v1M650.5 194v1M686.5 209v3M687.5 204v2M688.5 206v3M688.5 215v1M689.5 216v1M691.5 216v1M692.5 205v1M692.5 207v4M692.5 212v1M693.5 201v1M693.5 203v2M693.5 206v1M693.5 213v1M694.5 198v2M694.5 201v2M694.5 219v1M695.5 200v1M695.5 214v1M695.5 216v1M696.5 200v1M697.5 198v1M697.5 200v2M697.5 215v1M698.5 197v1M698.5 200v1M699.5 197v1M699.5 214v2"/>
<path stroke="#ff8600" d="M53.5 236v2M57.5 238v1M59.5 238v1M60.5 238v1M61.5 238v1M63.5 237v1M84.5 214v1M84.5 217v1M85.5 200v2M85.5 217v1M86.5 200v1M86.5 214v1M88.5 212v1M89.5 196v1M89.5 211v1M90.5 187v1M91.5 190v1M91.5 210v1M93.5 199v1M94.5 204v1M97.5 203v1M97.5 211v1M97.5 216v1M98.5 209v1M99.5 203v1M100.5 213v1M108.5 222v1M109.5 215v1M110.5 222v1M112.5 237v1M115.5 235v1M116.5 208v1M116.5 211v1M126.5 234v1M144.5 204v1M144.5 207v1M144.5 233v1M145.5 204v1M154.5 241v1M156.5 238v1M179.5 215v1M182.5 214v1M185.5 211v1M194.5 208v1M195.5 209v1M208.5 204v1M209.5 204v1M215.5 201v1M216.5 199v1M218.5 199v1M221.5 180v1M224.5 177v1M226.5 178v1M233.5 155v1M233.5 158v1M233.5 161v1M233.5 167v1M234.5 157v1M234.5 161v1M234.5 164v1M234.5 168v1M235.5 155v2M235.5 158v1M235.5 161v1M235.5 163v2M240.5 198v1M241.5 198v1M242.5 201v1M243.5 203v1M244.5 203v1M245.5 205v2M247.5 194v1M247.5 207v2M248.5 193v1M248.5 209v1M249.5 195v2M250.5 209v1M250.5 211v1M252.5 204v2M253.5 216v1M254.5 213v1M254.5 215v1M256.5 205v1M257.5 214v1M258.5 205v1M259.5 214v1M263.5 214v1M263.5 219v1M263.5 223v1M263.5 225v2M265.5 214v1M265.5 226v2M266.5 215v1M268.5 216v1M268.5 218v1M268.5 221v1M270.5 211v1M272.5 210v3M272.5 220v3M274.5 231v1M275.5 209v2M275.5 221v1M275.5 223v1M277.5 209v1M277.5 221v1M277.5 223v1M277.5 227v1M278.5 233v1M279.5 219v1M279.5 222v1M279.5 224v1M279.5 226v1M280.5 225v1M281.5 232v1M281.5 236v1M282.5 218v1M282.5 220v1M282.5 222v1M283.5 222v3M283.5 226v1M284.5 209v1M284.5 232v1M285.5 208v1M285.5 231v1M285.5 233v1M285.5 235v1M286.5 233v1M286.5 235v1M287.5 212v1M287.5 228v2M289.5 215v1M289.5 232v1M290.5 216v2M291.5 217v1M291.5 237v1M292.5 219v1M292.5 237v1M294.5 218v2M294.5 242v1M298.5 237v1M299.5 232v1M300.5 237v3M300.5 241v1M302.5 237v1M303.5 232v1M303.5 234v1M303.5 239v1M304.5 233v1M304.5 239v1M307.5 235v1M307.5 240v1M309.5 233v1M309.5 239v1M310.5 231v1M310.5 240v1M316.5 236v1M322.5 229v2M323.5 226v1M324.5 225v1M324.5 227v1M325.5 226v1M327.5 228v1M333.5 237v1M336.5 238v1M336.5 240v1M338.5 239v2M339.5 238v1M367.5 234v1M368.5 231v1M371.5 226v1M373.5 233v1M375.5 234v3M379.5 234v1M380.5 224v1M382.5 229v2M383.5 232v1M384.5 233v2M385.5 232v1M387.5 232v1M391.5 232v1M393.5 229v2M395.5 233v1M397.5 233v1M399.5 230v1M399.5 235v1M400.5 237v1M403.5 231v1M404.5 238v1M405.5 233v1M405.5 238v1M407.5 240v1M408.5 234v1M409.5 236v1M410.5 233v1M413.5 236v1M414.5 237v1M414.5 240v1M416.5 236v2M465.5 238v1M498.5 224v1M499.5 219v1M500.5 202v1M500.5 204v1M500.5 225v1M501.5 204v1M503.5 219v1M503.5 227v1M506.5 222v1M528.5 223v1M528.5 225v2M529.5 219v3M530.5 219v3M530.5 225v1M530.5 227v1M531.5 222v1M531.5 225v1M532.5 219v1M532.5 223v1M533.5 226v1M534.5 226v1M540.5 233v2M554.5 222v1M556.5 226v1M558.5 226v2M567.5 233v1M568.5 232v1M572.5 239v1M587.5 227v1M588.5 204v3M588.5 209v1M589.5 194v1M589.5 197v1M589.5 216v2M589.5 219v1M590.5 202v1M590.5 222v1M591.5 183v1M591.5 185v2M591.5 198v1M591.5 216v1M591.5 218v1M593.5 218v1M593.5 221v1M593.5 224v1M594.5 219v1M594.5 221v3M596.5 234v3M597.5 232v1M597.5 234v1M598.5 237v2M599.5 230v2M600.5 226v1M600.5 229v2M601.5 230v1M601.5 237v2M602.5 237v1M602.5 239v1M603.5 227v1M603.5 236v1M603.5 239v1M603.5 241v2M604.5 203v1M604.5 207v1M604.5 209v1M604.5 229v1M605.5 228v1M606.5 201v1M606.5 209v1M606.5 219v1M607.5 177v3M607.5 202v1M607.5 209v2M607.5 228v2M608.5 201v1M608.5 208v1M608.5 212v1M608.5 223v1M609.5 203v1M609.5 206v2M609.5 209v1M609.5 229v1M610.5 223v1M610.5 232v1M611.5 225v2M611.5 232v1M613.5 224v1M613.5 227v1M614.5 224v1M615.5 232v1M616.5 226v1M616.5 230v1M618.5 232v1M618.5 234v1M619.5 227v1M620.5 228v2M621.5 229v1M621.5 243v1M622.5 198v2M622.5 230v1M622.5 243v1M623.5 165v1M623.5 167v2M623.5 170v1M623.5 177v1M623.5 236v4M624.5 168v1M624.5 171v5M624.5 180v2M624.5 236v1M624.5 239v1M625.5 194v1M631.5 223v1M632.5 224v2M633.5 225v2M634.5 233v1M637.5 165v1M637.5 170v2M637.5 175v1M637.5 177v1M638.5 166v2M638.5 170v1M638.5 174v1M638.5 181v2M639.5 183v1M640.5 181v2M641.5 187v1M642.5 178v1M642.5 192v1M643.5 181v2M643.5 193v1M644.5 178v1M644.5 191v1M645.5 180v2M645.5 190v1M646.5 177v1M647.5 181v1M647.5 189v1M647.5 191v1M648.5 182v1M648.5 197v1M649.5 196v1M649.5 199v1M649.5 201v1M650.5 181v1M687.5 207v1M687.5 209v1M687.5 212v3M688.5 210v1M689.5 206v4M689.5 215v1M690.5 206v1M690.5 218v1M691.5 205v1M691.5 207v2M691.5 215v1M691.5 218v1M692.5 213v2M693.5 205v1M693.5 208v1M693.5 212v1M694.5 203v1M694.5 215v2M695.5 202v1M695.5 215v1M696.5 197v2M696.5 214v1M697.5 212v1M697.5 214v1M698.5 202v1M698.5 212v1M699.5 213v1"/>
<path stroke="#ff6900" d="M59.5 237v1M62.5 237v1M62.5 239v1M64.5 235v1M70.5 235v1M76.5 237v1M80.5 235v1M81.5 240v1M85.5 216v1M86.5 218v1M90.5 186v1M91.5 187v1M91.5 191v1M92.5 190v1M95.5 224v1M96.5 212v1M97.5 212v1M98.5 203v2M99.5 204v1M104.5 245v1M107.5 218v1M107.5 220v1M110.5 216v1M110.5 218v2M113.5 241v1M116.5 220v1M117.5 209v1M117.5 233v1M122.5 225v1M145.5 206v1M153.5 241v1M154.5 236v2M155.5 237v1M178.5 215v1M188.5 211v1M203.5 213v1M213.5 201v1M213.5 206v1M221.5 177v2M221.5 182v2M223.5 181v1M225.5 182v1M228.5 181v2M233.5 160v1M233.5 162v2M233.5 166v1M233.5 168v1M234.5 154v1M234.5 156v1M234.5 159v1M234.5 162v2M234.5 165v1M235.5 157v1M235.5 160v1M235.5 165v1M235.5 186v1M235.5 190v1M237.5 191v1M240.5 197v1M241.5 197v1M242.5 200v1M243.5 200v2M245.5 203v2M246.5 198v1M246.5 204v1M249.5 197v1M251.5 200v1M251.5 213v2M252.5 212v2M256.5 215v2M257.5 206v1M257.5 215v2M258.5 215v1M262.5 207v1M263.5 213v1M263.5 217v1M265.5 212v1M265.5 217v1M265.5 219v5M268.5 213v3M270.5 212v1M270.5 216v1M270.5 220v1M270.5 222v2M272.5 216v1M272.5 218v1M274.5 226v1M274.5 228v1M274.5 230v1M275.5 216v1M275.5 219v2M275.5 222v1M275.5 225v1M277.5 208v1M277.5 224v2M278.5 208v1M278.5 229v2M278.5 232v1M279.5 211v1M279.5 217v2M279.5 220v2M281.5 230v1M281.5 233v1M282.5 219v1M282.5 221v1M283.5 221v1M284.5 231v1M284.5 233v1M285.5 211v1M285.5 225v1M286.5 229v1M286.5 234v1M287.5 214v2M287.5 230v1M288.5 232v3M289.5 216v2M289.5 233v1M289.5 235v1M290.5 218v1M290.5 234v2M291.5 215v1M295.5 223v1M295.5 225v1M296.5 226v1M297.5 227v1M298.5 235v1M300.5 240v1M301.5 231v1M302.5 235v2M304.5 238v1M305.5 233v1M305.5 238v2M306.5 236v1M306.5 239v1M307.5 234v1M308.5 234v2M309.5 234v2M309.5 238v1M340.5 239v1M342.5 238v1M343.5 233v1M349.5 232v1M370.5 230v1M371.5 232v1M371.5 234v1M373.5 231v2M374.5 231v3M376.5 224v1M376.5 235v2M378.5 230v1M379.5 232v2M380.5 234v1M381.5 233v1M383.5 231v1M384.5 232v1M385.5 233v1M386.5 230v2M388.5 232v1M390.5 230v1M392.5 230v1M395.5 231v1M397.5 232v1M398.5 229v1M398.5 232v1M401.5 237v1M402.5 234v2M402.5 237v1M403.5 232v1M404.5 234v1M405.5 234v1M405.5 237v1M406.5 234v1M407.5 233v1M408.5 239v1M409.5 238v1M411.5 237v1M411.5 239v1M412.5 238v1M414.5 236v1M415.5 233v1M416.5 235v1M416.5 239v1M464.5 238v1M465.5 237v1M470.5 254v1M473.5 253v2M499.5 220v1M499.5 223v2M500.5 219v2M501.5 225v1M503.5 226v1M504.5 227v1M505.5 221v1M505.5 226v1M506.5 228v2M515.5 228v1M517.5 227v1M529.5 226v1M530.5 222v1M532.5 220v1M532.5 222v1M533.5 222v2M533.5 227v1M542.5 234v1M554.5 223v1M561.5 231v1M568.5 233v1M569.5 234v1M572.5 238v1M573.5 239v1M580.5 236v3M581.5 238v1M587.5 226v1M589.5 200v1M589.5 218v1M590.5 187v1M590.5 200v1M590.5 205v1M590.5 216v1M590.5 220v1M591.5 217v1M592.5 217v1M592.5 227v1M595.5 228v1M597.5 225v1M598.5 235v2M599.5 229v1M600.5 233v1M602.5 229v1M602.5 234v1M603.5 230v1M603.5 237v2M604.5 205v1M605.5 209v2M606.5 202v2M607.5 200v2M607.5 218v1M608.5 202v2M608.5 221v1M609.5 205v1M610.5 221v2M612.5 223v1M612.5 227v1M613.5 228v1M614.5 230v1M616.5 232v2M618.5 233v1M618.5 235v1M619.5 228v2M621.5 239v2M621.5 242v1M622.5 242v1M623.5 166v1M624.5 237v1M632.5 229v1M633.5 230v1M634.5 225v1M634.5 232v1M635.5 233v1M637.5 167v1M637.5 169v1M637.5 176v1M637.5 181v1M638.5 165v1M638.5 168v2M638.5 171v1M638.5 175v2M641.5 188v1M642.5 194v1M643.5 189v1M644.5 179v1M644.5 189v1M645.5 189v1M646.5 178v1M646.5 181v1M646.5 187v1M647.5 184v1M647.5 188v1M647.5 190v1M648.5 184v1M648.5 195v1M649.5 187v1M649.5 197v1M649.5 200v1M650.5 190v1M650.5 192v1M651.5 158v1M651.5 162v1M651.5 167v1M651.5 172v1M651.5 174v1M651.5 179v1M651.5 181v2M651.5 184v1M652.5 160v3M652.5 165v1M652.5 168v1M652.5 171v1M652.5 181v2M687.5 208v1M687.5 210v2M688.5 209v1M688.5 213v1M689.5 210v2M689.5 214v1M690.5 207v1M690.5 217v1M691.5 209v2M691.5 214v1M692.5 211v1M693.5 210v1M694.5 204v1M694.5 217v1M695.5 201v1M695.5 204v1M695.5 206v1M695.5 211v2M696.5 199v1M697.5 202v1M697.5 213v1M698.5 211v1M698.5 213v1M699.5 194v1M699.5 196v1M699.5 212v1"/>
<path stroke="#ff4900" d="M55.5 238v1M62.5 238v1M63.5 236v1M65.5 233v1M70.5 240v1M79.5 241v1M81.5 235v1M84.5 215v1M85.5 214v2M86.5 217v1M90.5 189v1M90.5 194v1M91.5 217v1M93.5 212v1M94.5 219v1M96.5 241v1M97.5 243v1M104.5 207v1M104.5 213v1M106.5 237v1M107.5 221v1M107.5 241v1M108.5 217v1M109.5 212v1M110.5 215v1M110.5 240v1M112.5 241v1M115.5 236v1M116.5 209v1M117.5 219v1M120.5 234v1M121.5 225v1M122.5 219v1M125.5 225v1M138.5 216v1M145.5 205v1M149.5 233v1M149.5 239v1M151.5 235v1M155.5 239v1M179.5 216v1M181.5 216v1M187.5 211v1M188.5 216v1M191.5 210v1M191.5 216v1M210.5 205v1M210.5 209v1M217.5 205v1M221.5 202v1M222.5 179v1M223.5 177v1M223.5 180v1M224.5 179v1M225.5 177v1M226.5 181v1M233.5 157v1M233.5 159v1M234.5 155v1M234.5 158v1M234.5 160v1M234.5 166v1M235.5 159v1M236.5 186v1M238.5 192v1M239.5 193v1M241.5 196v1M243.5 202v1M246.5 199v1M246.5 205v1M247.5 206v1M248.5 196v1M248.5 206v3M249.5 209v3M250.5 208v1M251.5 211v2M253.5 204v1M254.5 212v1M255.5 204v1M255.5 213v1M257.5 207v1M258.5 206v1M258.5 214v1M260.5 207v1M261.5 212v1M263.5 210v1M263.5 212v1M263.5 215v1M263.5 220v1M265.5 216v1M265.5 218v1M268.5 212v1M268.5 217v1M270.5 213v3M270.5 217v1M271.5 209v1M272.5 214v1M274.5 224v2M274.5 227v1M275.5 211v2M275.5 217v1M277.5 210v1M277.5 212v1M277.5 216v1M277.5 222v1M278.5 209v1M278.5 226v1M278.5 228v1M279.5 212v1M279.5 215v2M280.5 221v1M280.5 224v1M281.5 231v1M281.5 234v1M284.5 210v1M284.5 230v1M285.5 210v1M285.5 226v1M285.5 230v1M286.5 228v1M286.5 230v3M287.5 216v1M287.5 227v1M288.5 213v1M288.5 230v1M289.5 230v1M291.5 216v1M291.5 218v1M291.5 236v1M293.5 222v1M294.5 221v1M294.5 241v1M295.5 224v1M296.5 227v2M298.5 246v1M299.5 234v1M301.5 232v1M301.5 244v1M303.5 235v1M304.5 234v1M305.5 237v1M306.5 237v1M307.5 236v1M307.5 239v1M314.5 231v1M321.5 230v1M336.5 239v1M341.5 233v1M343.5 237v1M345.5 237v1M348.5 231v1M363.5 233v1M364.5 228v1M366.5 232v1M369.5 233v1M371.5 233v1M372.5 232v2M376.5 232v1M378.5 224v1M380.5 225v1M380.5 233v1M381.5 224v1M381.5 231v2M383.5 229v1M384.5 230v1M385.5 230v1M387.5 231v1M391.5 224v1M391.5 230v2M392.5 229v1M394.5 232v2M395.5 230v1M396.5 230v1M398.5 230v2M399.5 234v1M400.5 232v1M403.5 234v1M404.5 235v2M405.5 235v2M406.5 235v1M406.5 237v1M407.5 234v2M408.5 235v2M408.5 238v1M409.5 237v1M410.5 234v3M410.5 238v1M411.5 238v1M412.5 236v1M413.5 237v1M414.5 239v1M416.5 238v1M464.5 237v1M469.5 256v1M498.5 220v1M502.5 220v1M502.5 224v2M503.5 220v1M504.5 221v1M506.5 227v1M511.5 227v1M526.5 229v1M527.5 229v1M529.5 222v1M529.5 224v2M529.5 228v1M532.5 233v1M533.5 225v1M534.5 231v1M559.5 228v2M570.5 233v1M590.5 198v1M590.5 203v1M590.5 217v3M590.5 221v1M591.5 219v1M591.5 222v1M591.5 224v2M591.5 228v1M592.5 219v1M593.5 222v1M593.5 225v1M593.5 227v1M595.5 224v2M596.5 222v1M596.5 233v1M598.5 225v2M598.5 234v1M599.5 232v2M600.5 227v1M601.5 231v2M601.5 236v1M602.5 235v2M604.5 227v2M605.5 201v3M605.5 205v1M605.5 207v2M606.5 204v2M606.5 220v1M607.5 205v4M607.5 220v1M607.5 222v1M608.5 204v1M608.5 207v1M608.5 222v1M608.5 224v1M610.5 224v1M610.5 230v2M611.5 228v1M611.5 231v1M612.5 224v2M612.5 229v1M613.5 229v1M614.5 229v1M615.5 231v1M616.5 228v1M617.5 228v1M619.5 235v1M620.5 230v2M620.5 235v1M621.5 230v1M622.5 233v1M622.5 239v1M622.5 241v1M631.5 229v1M634.5 226v1M634.5 231v1M636.5 232v1M637.5 179v2M638.5 177v1M641.5 181v1M642.5 179v2M643.5 183v6M644.5 187v2M645.5 184v1M645.5 187v2M647.5 183v1M647.5 186v2M648.5 187v1M648.5 193v1M649.5 186v1M649.5 188v1M649.5 190v3M650.5 183v1M651.5 160v1M651.5 164v3M651.5 168v3M651.5 173v1M651.5 175v2M651.5 180v1M651.5 185v1M652.5 158v2M652.5 163v1M652.5 166v1M652.5 170v1M652.5 173v1M652.5 175v1M652.5 178v3M652.5 183v1M685.5 151v1M685.5 155v1M686.5 145v1M686.5 148v1M686.5 151v1M686.5 155v1M688.5 211v2M690.5 208v1M690.5 215v1M691.5 211v1M693.5 207v1M693.5 211v1M694.5 205v1M695.5 203v1M695.5 207v1M695.5 213v1M696.5 201v1M696.5 212v2M697.5 203v2M698.5 201v1M698.5 210v1M699.5 198v2M699.5 201v1"/>
<path stroke="#ff2a00" d="M64.5 236v1M66.5 235v1M72.5 237v1M74.5 237v2M74.5 243v1M79.5 237v1M84.5 216v1M85.5 238v1M88.5 216v1M88.5 232v1M88.5 236v1M89.5 216v1M92.5 218v1M94.5 240v1M98.5 212v2M99.5 217v1M99.5 239v1M101.5 244v1M104.5 241v1M106.5 208v1M106.5 243v1M107.5 208v1M107.5 212v1M109.5 237v1M110.5 209v1M111.5 209v1M116.5 219v1M117.5 208v1M120.5 224v1M120.5 239v1M121.5 234v1M122.5 220v1M122.5 224v1M125.5 224v1M127.5 223v1M141.5 205v1M144.5 205v1M145.5 234v2M146.5 234v1M149.5 234v1M154.5 240v1M177.5 214v1M177.5 219v1M180.5 221v1M183.5 219v1M196.5 209v1M197.5 210v1M199.5 209v1M199.5 214v1M201.5 209v1M205.5 110v1M205.5 115v1M212.5 207v1M218.5 205v1M221.5 179v1M221.5 181v1M221.5 198v1M222.5 137v1M222.5 202v1M223.5 140v1M223.5 183v1M223.5 203v1M226.5 132v1M226.5 139v2M227.5 129v1M229.5 113v1M229.5 126v3M229.5 130v1M229.5 135v1M229.5 138v1M229.5 142v1M229.5 145v1M230.5 133v1M230.5 136v1M231.5 141v4M231.5 150v1M231.5 152v3M232.5 144v3M232.5 148v3M233.5 154v1M233.5 156v1M233.5 164v2M234.5 167v1M234.5 185v1M234.5 189v1M235.5 211v1M236.5 209v1M238.5 208v1M240.5 196v1M241.5 192v1M242.5 199v1M243.5 190v1M244.5 202v1M245.5 202v1M246.5 193v1M246.5 200v1M246.5 203v1M248.5 197v1M249.5 198v1M253.5 205v1M253.5 211v1M253.5 213v2M254.5 205v1M255.5 205v2M255.5 214v2M256.5 206v1M256.5 214v1M257.5 213v1M258.5 207v1M258.5 213v1M263.5 207v1M263.5 211v1M264.5 207v1M265.5 213v1M265.5 215v1M266.5 211v1M267.5 212v1M268.5 206v1M269.5 206v1M271.5 205v1M274.5 210v2M274.5 220v2M275.5 214v2M275.5 218v1M277.5 215v1M277.5 218v3M278.5 210v1M278.5 222v1M278.5 227v1M279.5 213v2M280.5 206v1M280.5 220v1M280.5 222v1M281.5 209v1M281.5 228v2M282.5 208v1M282.5 216v2M283.5 208v1M283.5 210v1M283.5 218v1M285.5 227v3M286.5 212v2M287.5 217v2M287.5 226v1M288.5 214v1M288.5 229v1M289.5 231v1M290.5 219v1M291.5 219v2M291.5 233v1M292.5 220v2M293.5 223v1M294.5 220v1M294.5 239v2M295.5 232v1M295.5 242v1M296.5 242v1M297.5 228v1M299.5 246v1M300.5 242v1M303.5 236v1M305.5 235v2M306.5 238v1M307.5 237v1M308.5 238v1M310.5 238v2M313.5 232v1M314.5 237v1M315.5 232v1M315.5 235v1M318.5 232v1M318.5 236v1M319.5 232v1M319.5 236v1M327.5 229v1M328.5 230v1M330.5 232v1M335.5 232v1M337.5 238v1M338.5 233v1M342.5 237v1M349.5 237v1M358.5 234v1M362.5 234v1M367.5 232v1M369.5 232v1M372.5 231v1M373.5 230v1M375.5 232v2M376.5 231v1M376.5 233v2M377.5 230v1M379.5 231v1M380.5 231v2M384.5 224v1M384.5 231v1M385.5 229v1M385.5 231v1M386.5 225v1M387.5 230v1M388.5 230v2M389.5 224v1M389.5 229v1M390.5 224v1M390.5 229v1M392.5 225v1M399.5 233v1M400.5 236v1M401.5 234v1M403.5 233v1M403.5 235v1M403.5 237v2M404.5 237v1M407.5 238v2M408.5 237v1M410.5 237v1M412.5 235v1M412.5 237v1M414.5 238v1M415.5 234v1M471.5 250v1M472.5 257v2M500.5 223v2M501.5 219v1M504.5 226v1M505.5 225v1M506.5 224v1M510.5 230v1M512.5 227v1M513.5 231v1M524.5 230v1M524.5 233v2M525.5 233v1M526.5 232v1M530.5 234v1M539.5 236v1M581.5 236v2M591.5 220v2M591.5 223v1M592.5 218v1M592.5 220v1M592.5 225v1M593.5 223v1M595.5 226v1M596.5 223v2M596.5 231v1M597.5 226v1M597.5 230v2M599.5 226v1M605.5 204v1M606.5 225v2M606.5 229v1M607.5 203v1M607.5 219v1M608.5 225v1M609.5 225v1M610.5 225v1M611.5 229v1M612.5 228v1M613.5 230v1M616.5 231v1M617.5 230v1M619.5 230v2M620.5 232v1M620.5 236v1M621.5 234v1M621.5 238v1M622.5 240v1M627.5 223v1M629.5 227v1M630.5 224v1M632.5 228v1M637.5 228v1M641.5 182v1M642.5 181v2M642.5 190v2M642.5 237v1M645.5 182v1M645.5 185v1M646.5 180v1M646.5 182v2M648.5 185v2M648.5 191v1M648.5 196v1M649.5 195v1M650.5 188v2M651.5 159v1M651.5 161v1M651.5 163v1M651.5 171v1M651.5 183v1M652.5 137v1M652.5 139v3M652.5 150v2M652.5 164v1M652.5 167v1M652.5 172v1M652.5 174v1M652.5 176v2M652.5 185v1M653.5 136v1M653.5 141v2M653.5 149v2M653.5 153v2M653.5 156v1M670.5 132v2M670.5 135v1M670.5 140v1M670.5 143v2M670.5 148v1M685.5 132v1M685.5 135v1M685.5 137v1M685.5 139v1M685.5 143v1M685.5 147v1M685.5 149v1M685.5 152v1M686.5 144v1M686.5 150v1M686.5 152v3M689.5 213v1M690.5 209v1M690.5 211v1M690.5 216v1M691.5 212v2M693.5 209v1M694.5 207v2M695.5 205v1M696.5 203v1M697.5 206v1M697.5 210v1M698.5 204v1M699.5 203v1M699.5 210v1"/>
<path stroke="#ff0b00" d="M65.5 236v3M70.5 236v1M70.5 239v1M73.5 241v1M74.5 239v1M74.5 242v1M80.5 240v1M85.5 233v1M86.5 215v1M87.5 214v1M88.5 233v1M89.5 237v1M90.5 213v1M91.5 212v1M92.5 212v1M92.5 240v1M93.5 190v1M93.5 235v1M93.5 239v1M94.5 197v1M94.5 213v1M94.5 235v1M95.5 194v1M95.5 214v1M95.5 240v1M96.5 194v1M96.5 197v1M98.5 216v2M98.5 241v1M105.5 209v1M105.5 242v1M106.5 238v1M107.5 211v1M107.5 237v1M111.5 236v1M116.5 233v1M117.5 234v1M118.5 220v1M118.5 223v1M121.5 238v1M125.5 220v1M125.5 223v1M129.5 223v1M131.5 222v1M140.5 212v1M141.5 210v1M143.5 208v1M149.5 237v2M150.5 239v1M154.5 238v2M155.5 238v1M174.5 208v1M176.5 213v1M176.5 216v2M178.5 216v1M179.5 220v1M180.5 216v1M181.5 219v2M193.5 215v1M198.5 213v1M205.5 109v1M205.5 112v1M205.5 114v1M219.5 203v1M222.5 127v2M222.5 132v2M222.5 135v1M222.5 139v2M222.5 178v1M222.5 181v3M222.5 197v1M223.5 142v3M223.5 147v1M224.5 180v3M226.5 133v2M226.5 138v1M226.5 177v1M227.5 120v1M227.5 123v1M227.5 126v1M227.5 128v1M227.5 130v1M228.5 120v1M228.5 126v1M228.5 128v1M228.5 130v1M228.5 180v1M229.5 116v1M229.5 124v2M229.5 129v1M229.5 134v1M229.5 143v1M230.5 123v1M230.5 126v1M230.5 130v3M230.5 137v1M230.5 139v2M230.5 142v3M231.5 139v1M231.5 145v1M231.5 147v2M231.5 151v1M231.5 155v3M232.5 139v5M232.5 151v1M232.5 157v1M235.5 206v1M236.5 189v1M236.5 208v1M237.5 205v1M238.5 191v1M238.5 210v1M239.5 192v1M240.5 186v1M240.5 191v1M240.5 194v2M241.5 191v1M242.5 198v1M243.5 193v1M244.5 200v2M245.5 197v2M246.5 197v1M246.5 202v1M247.5 195v1M247.5 205v1M253.5 212v1M255.5 211v1M260.5 212v1M262.5 213v1M263.5 208v2M264.5 212v1M274.5 215v1M274.5 222v2M275.5 213v1M277.5 211v1M277.5 213v2M277.5 217v1M278.5 211v1M278.5 224v2M280.5 223v1M281.5 208v1M281.5 210v1M281.5 224v1M283.5 209v1M283.5 212v1M283.5 215v3M283.5 219v1M284.5 229v1M285.5 212v1M285.5 220v1M285.5 222v3M286.5 227v1M287.5 219v2M288.5 228v1M288.5 231v1M289.5 218v1M289.5 228v1M290.5 221v2M290.5 225v1M290.5 228v1M290.5 230v4M291.5 221v1M291.5 235v1M292.5 222v2M293.5 237v2M294.5 222v1M294.5 238v1M295.5 226v2M296.5 235v1M296.5 241v1M297.5 229v1M297.5 245v1M298.5 238v1M298.5 245v1M299.5 235v1M301.5 233v1M301.5 235v1M303.5 237v1M304.5 237v1M307.5 238v1M308.5 236v1M309.5 236v2M310.5 237v1M311.5 236v1M312.5 232v1M312.5 236v1M317.5 230v1M323.5 234v1M325.5 228v1M325.5 233v1M327.5 234v1M335.5 238v1M338.5 238v1M341.5 237v1M343.5 234v1M343.5 236v1M344.5 237v1M349.5 235v1M350.5 235v1M360.5 230v1M360.5 234v1M361.5 230v1M361.5 235v1M362.5 229v1M371.5 231v1M375.5 225v1M375.5 231v1M378.5 229v1M379.5 228v3M380.5 229v2M381.5 228v3M382.5 228v1M383.5 225v1M383.5 230v1M384.5 229v1M388.5 224v1M388.5 228v1M391.5 229v1M394.5 225v1M394.5 231v1M399.5 231v1M400.5 233v1M400.5 235v1M402.5 236v1M406.5 236v1M407.5 236v1M413.5 238v2M415.5 235v1M458.5 241v3M459.5 242v2M469.5 255v1M470.5 252v1M471.5 249v1M471.5 251v1M471.5 257v1M472.5 250v1M473.5 252v1M475.5 255v1M476.5 253v1M498.5 221v1M498.5 223v1M499.5 221v1M500.5 221v1M503.5 225v1M505.5 222v1M506.5 223v1M511.5 231v1M512.5 232v1M515.5 232v1M516.5 232v1M518.5 228v1M518.5 233v1M519.5 227v1M524.5 228v2M526.5 230v1M526.5 233v1M527.5 234v1M530.5 224v1M531.5 234v1M532.5 230v1M532.5 232v1M535.5 235v1M590.5 199v1M591.5 227v1M592.5 224v1M593.5 226v1M595.5 227v1M596.5 230v1M596.5 232v1M597.5 227v3M598.5 233v1M599.5 228v1M601.5 235v1M602.5 228v1M606.5 227v1M607.5 204v1M607.5 221v1M608.5 226v1M611.5 230v1M612.5 226v1M616.5 229v1M619.5 232v2M620.5 233v1M621.5 235v2M622.5 234v1M622.5 238v1M626.5 218v1M627.5 214v1M630.5 229v1M631.5 224v1M633.5 227v1M634.5 227v1M635.5 227v1M637.5 232v1M638.5 230v1M641.5 186v1M642.5 238v2M644.5 180v1M644.5 185v1M644.5 234v1M647.5 185v1M648.5 188v1M648.5 194v1M649.5 193v1M651.5 157v1M651.5 177v2M652.5 125v1M652.5 130v1M652.5 132v2M652.5 135v2M652.5 145v1M652.5 147v1M652.5 149v1M652.5 169v1M652.5 184v1M653.5 120v1M653.5 122v1M653.5 132v2M653.5 138v1M653.5 143v1M653.5 146v2M653.5 152v1M653.5 155v1M653.5 157v1M654.5 114v1M654.5 116v2M654.5 124v2M654.5 128v1M671.5 121v3M671.5 139v1M671.5 141v1M679.5 137v3M685.5 133v2M685.5 138v1M685.5 142v1M685.5 145v2M685.5 148v1M685.5 150v1M685.5 153v1M686.5 146v2M686.5 149v1M687.5 153v3M689.5 212v1M690.5 214v1M694.5 206v1M694.5 213v2M695.5 208v3M696.5 202v1M697.5 205v1M697.5 207v1M697.5 209v1M697.5 211v1M698.5 203v1M698.5 205v1M698.5 209v1M699.5 200v1M699.5 202v1M699.5 205v1M699.5 211v1"/>
<path stroke="#f0000f" d="M65.5 234v2M68.5 234v1M69.5 240v1M74.5 240v1M75.5 242v1M77.5 237v1M81.5 239v1M82.5 235v1M82.5 239v1M84.5 237v1M86.5 216v1M87.5 232v1M90.5 234v1M90.5 238v1M91.5 235v1M92.5 213v1M94.5 190v2M95.5 193v1M95.5 237v1M97.5 213v1M97.5 242v1M98.5 191v2M98.5 214v1M99.5 213v1M99.5 244v1M101.5 216v1M105.5 239v2M108.5 241v1M114.5 236v1M114.5 240v1M119.5 221v1M122.5 222v1M122.5 233v1M123.5 221v1M123.5 225v1M124.5 220v1M126.5 220v1M128.5 223v1M131.5 217v1M136.5 214v1M137.5 217v1M138.5 211v1M139.5 210v1M140.5 208v1M142.5 205v1M142.5 209v1M144.5 206v1M147.5 233v1M147.5 237v1M149.5 236v1M150.5 235v1M153.5 238v1M176.5 214v2M181.5 217v2M183.5 214v1M187.5 216v1M189.5 214v1M190.5 213v1M193.5 210v1M194.5 210v1M194.5 213v1M196.5 213v1M198.5 209v1M200.5 208v1M200.5 212v1M203.5 208v1M205.5 111v1M206.5 208v1M213.5 202v1M214.5 202v1M216.5 200v1M220.5 199v1M222.5 129v1M222.5 131v1M222.5 134v1M222.5 136v1M222.5 138v1M222.5 177v1M222.5 180v1M223.5 141v1M223.5 145v2M223.5 148v1M223.5 178v1M224.5 178v1M224.5 183v1M225.5 123v3M225.5 127v1M225.5 178v2M225.5 183v1M226.5 135v1M226.5 179v2M226.5 183v1M227.5 121v2M227.5 124v1M227.5 127v1M227.5 177v1M227.5 182v2M228.5 121v5M228.5 127v1M228.5 129v1M228.5 183v1M229.5 114v2M229.5 117v1M229.5 132v1M229.5 140v1M230.5 124v1M230.5 127v1M230.5 135v1M230.5 138v1M230.5 145v1M231.5 140v1M231.5 146v1M231.5 149v1M232.5 147v1M232.5 152v4M235.5 189v1M235.5 208v1M237.5 184v1M237.5 190v1M237.5 208v1M238.5 185v1M238.5 188v1M238.5 206v2M238.5 209v1M238.5 211v1M239.5 189v1M240.5 188v3M241.5 195v1M242.5 189v1M242.5 192v1M243.5 194v1M244.5 191v1M244.5 194v1M245.5 193v1M249.5 199v1M251.5 201v1M251.5 204v3M252.5 211v1M254.5 211v1M255.5 212v1M256.5 207v1M256.5 211v1M256.5 213v1M258.5 208v1M258.5 212v1M259.5 213v1M261.5 208v1M261.5 211v1M262.5 208v1M265.5 206v1M271.5 208v1M274.5 212v2M274.5 216v1M274.5 218v2M278.5 216v2M278.5 219v3M278.5 223v1M280.5 207v1M280.5 211v1M280.5 213v1M280.5 216v2M281.5 212v1M281.5 222v2M281.5 225v3M282.5 210v1M283.5 211v1M283.5 214v1M284.5 211v2M284.5 224v1M284.5 227v2M285.5 213v2M285.5 219v1M285.5 221v1M286.5 214v2M286.5 226v1M288.5 215v1M289.5 219v2M289.5 222v4M289.5 229v1M290.5 220v1M290.5 223v2M290.5 227v1M291.5 222v2M291.5 232v1M291.5 234v1M292.5 224v1M292.5 228v1M292.5 230v1M292.5 234v2M293.5 235v2M295.5 228v1M295.5 231v1M295.5 234v1M295.5 238v1M295.5 241v1M296.5 231v1M296.5 243v1M297.5 243v1M299.5 236v1M299.5 238v2M299.5 245v1M300.5 243v1M300.5 247v1M301.5 234v1M301.5 243v1M304.5 235v1M308.5 237v1M310.5 236v1M314.5 236v1M316.5 232v1M316.5 235v1M320.5 232v1M323.5 229v1M324.5 228v1M324.5 233v1M326.5 230v1M328.5 234v1M332.5 234v1M335.5 233v1M336.5 235v1M337.5 233v1M340.5 233v1M345.5 232v1M347.5 233v1M348.5 236v1M349.5 233v1M349.5 236v1M350.5 232v1M351.5 233v1M353.5 236v1M357.5 235v1M363.5 230v1M365.5 227v1M366.5 228v1M367.5 231v1M369.5 227v1M370.5 226v1M371.5 230v1M372.5 225v1M372.5 229v1M374.5 225v1M374.5 230v1M375.5 230v1M376.5 228v1M376.5 230v1M383.5 228v1M385.5 224v1M385.5 228v1M388.5 225v1M388.5 229v1M397.5 227v1M401.5 235v2M407.5 237v1M415.5 236v1M415.5 238v1M459.5 241v1M470.5 253v1M470.5 256v1M471.5 252v1M472.5 254v1M472.5 256v1M498.5 222v1M501.5 220v1M501.5 224v1M504.5 222v1M504.5 225v1M507.5 223v1M509.5 229v1M510.5 225v1M513.5 227v1M514.5 227v1M520.5 228v1M521.5 233v1M523.5 233v1M524.5 231v1M525.5 230v1M526.5 231v1M531.5 229v1M535.5 231v1M536.5 231v1M539.5 233v1M539.5 235v1M592.5 221v2M592.5 226v1M596.5 227v1M596.5 229v1M598.5 228v2M598.5 232v1M608.5 227v1M615.5 230v1M617.5 231v1M622.5 236v1M626.5 225v1M627.5 221v1M628.5 214v1M628.5 218v1M629.5 219v1M630.5 225v1M630.5 228v1M635.5 228v1M636.5 227v1M638.5 233v1M641.5 185v1M642.5 184v1M642.5 186v1M642.5 189v1M642.5 234v1M642.5 236v1M644.5 182v1M644.5 186v1M646.5 184v1M648.5 189v1M648.5 192v1M649.5 189v1M652.5 120v1M652.5 122v1M652.5 124v1M652.5 126v2M652.5 129v1M652.5 131v1M652.5 134v1M652.5 138v1M652.5 142v3M652.5 146v1M652.5 148v1M652.5 152v6M653.5 123v2M653.5 126v5M653.5 134v2M653.5 137v1M653.5 139v2M653.5 144v2M653.5 148v1M653.5 151v1M654.5 115v1M654.5 119v1M654.5 123v1M654.5 126v1M654.5 129v2M670.5 134v1M670.5 136v4M670.5 141v1M670.5 145v3M671.5 134v2M671.5 137v2M685.5 131v1M685.5 136v1M685.5 140v2M685.5 144v1M685.5 154v1M690.5 210v1M694.5 209v1M694.5 211v2M696.5 204v1M696.5 211v1M698.5 206v3M699.5 206v1M699.5 209v1"/>
<path stroke="#da0025" d="M67.5 234v1M69.5 236v1M71.5 236v1M71.5 239v1M72.5 240v1M73.5 237v1M74.5 241v1M77.5 241v1M78.5 241v1M83.5 234v1M83.5 237v1M84.5 233v1M87.5 217v1M88.5 213v1M88.5 234v2M91.5 239v1M92.5 217v1M92.5 236v1M93.5 196v1M94.5 236v1M94.5 239v1M95.5 191v2M96.5 213v1M96.5 237v1M97.5 238v1M100.5 243v1M101.5 213v1M102.5 245v1M105.5 241v1M106.5 211v1M106.5 242v1M107.5 210v1M108.5 237v1M109.5 208v2M109.5 211v1M109.5 240v1M111.5 240v1M115.5 239v1M116.5 237v1M119.5 224v1M120.5 221v3M120.5 235v1M120.5 238v1M121.5 221v1M121.5 235v1M122.5 221v1M122.5 223v1M122.5 234v1M124.5 225v1M125.5 221v2M129.5 219v1M132.5 222v1M133.5 221v1M134.5 217v1M134.5 220v1M135.5 215v1M135.5 219v1M143.5 204v1M148.5 235v1M149.5 235v1M153.5 240v1M178.5 219v1M179.5 217v1M182.5 216v1M183.5 218v1M185.5 212v1M193.5 214v1M201.5 212v1M202.5 211v1M204.5 208v1M204.5 211v1M205.5 113v1M206.5 211v1M208.5 206v1M209.5 209v1M211.5 205v1M216.5 204v1M217.5 201v1M218.5 200v1M220.5 203v1M221.5 199v1M221.5 201v1M222.5 130v1M223.5 179v1M223.5 182v1M223.5 198v1M225.5 122v1M225.5 126v1M225.5 128v1M225.5 180v1M226.5 130v2M226.5 136v2M226.5 182v1M227.5 125v1M229.5 123v1M229.5 131v1M229.5 133v1M229.5 136v2M229.5 139v1M229.5 141v1M229.5 144v1M230.5 125v1M230.5 128v2M230.5 134v1M230.5 141v1M232.5 156v1M234.5 188v1M235.5 207v1M235.5 210v1M237.5 209v3M238.5 205v1M239.5 186v1M240.5 187v1M241.5 187v1M242.5 193v1M242.5 197v1M243.5 195v1M243.5 199v1M244.5 193v1M244.5 195v1M244.5 199v1M245.5 196v1M245.5 201v1M246.5 201v1M247.5 199v1M248.5 201v1M249.5 202v2M249.5 207v2M250.5 204v1M250.5 207v1M251.5 209v2M253.5 206v1M253.5 210v1M256.5 210v1M256.5 212v1M259.5 208v1M266.5 206v1M267.5 207v1M269.5 211v1M274.5 214v1M274.5 217v1M278.5 218v1M280.5 209v2M280.5 212v1M280.5 215v1M280.5 218v2M281.5 214v1M281.5 216v1M281.5 218v1M281.5 220v2M282.5 209v1M282.5 214v2M283.5 213v1M284.5 213v1M284.5 223v1M284.5 226v1M285.5 215v1M286.5 222v1M286.5 224v2M287.5 223v3M288.5 227v1M289.5 221v1M289.5 226v2M290.5 226v1M290.5 229v1M291.5 225v1M292.5 225v2M292.5 229v1M292.5 233v1M293.5 224v1M293.5 231v1M294.5 224v1M294.5 237v1M295.5 229v2M295.5 233v1M295.5 240v1M296.5 229v1M296.5 234v1M296.5 236v1M296.5 240v1M297.5 238v2M298.5 239v2M298.5 244v1M299.5 237v1M299.5 240v2M300.5 244v1M300.5 246v1M304.5 236v1M311.5 232v1M313.5 235v1M315.5 234v1M317.5 235v1M318.5 233v1M321.5 235v1M325.5 232v1M326.5 233v1M329.5 234v1M331.5 233v1M331.5 236v1M332.5 237v1M334.5 233v1M346.5 233v1M349.5 234v1M351.5 236v1M353.5 233v1M355.5 234v1M358.5 231v1M365.5 232v1M367.5 227v1M368.5 227v1M371.5 227v1M372.5 230v1M373.5 229v1M376.5 229v1M377.5 229v1M386.5 229v1M387.5 229v1M396.5 226v1M396.5 229v1M397.5 231v1M399.5 232v1M400.5 234v1M403.5 236v1M415.5 237v1M471.5 253v2M475.5 254v1M499.5 222v1M501.5 223v1M502.5 221v1M503.5 221v2M503.5 224v1M504.5 223v2M507.5 227v1M509.5 226v1M514.5 230v1M523.5 229v1M524.5 232v1M528.5 228v1M528.5 233v1M529.5 233v1M531.5 230v1M531.5 233v1M534.5 234v1M536.5 234v1M538.5 233v1M539.5 234v1M593.5 230v1M594.5 231v1M595.5 223v1M596.5 228v1M601.5 226v1M602.5 225v1M607.5 235v1M608.5 228v1M609.5 224v1M613.5 234v1M614.5 228v1M616.5 222v1M616.5 236v1M617.5 222v1M618.5 224v1M619.5 237v1M620.5 234v1M621.5 231v1M621.5 233v1M622.5 237v1M626.5 215v1M627.5 220v1M628.5 221v1M629.5 217v2M635.5 232v1M636.5 231v1M641.5 183v1M641.5 234v1M641.5 236v1M642.5 183v1M642.5 187v1M643.5 236v1M652.5 121v1M652.5 123v1M652.5 128v1M653.5 121v1M653.5 125v1M653.5 131v1M654.5 112v2M654.5 118v1M654.5 120v3M654.5 127v1M670.5 142v1M671.5 136v1M671.5 140v1M671.5 142v1M690.5 212v2M696.5 205v1M696.5 207v1M696.5 210v1M697.5 208v1M699.5 204v1M699.5 207v1"/>
<path stroke="#c3003c" d="M67.5 238v1M68.5 238v1M70.5 237v2M75.5 238v1M76.5 238v1M76.5 240v1M78.5 238v1M81.5 236v1M86.5 232v1M86.5 236v1M87.5 215v1M89.5 213v1M89.5 234v1M90.5 217v1M93.5 217v1M94.5 198v1M95.5 189v1M95.5 195v1M96.5 193v1M96.5 198v1M97.5 239v1M98.5 193v1M98.5 215v1M98.5 239v1M101.5 241v1M103.5 244v1M104.5 212v1M104.5 244v1M106.5 241v1M107.5 209v1M108.5 209v1M108.5 212v1M110.5 237v1M111.5 237v1M120.5 236v1M122.5 238v1M128.5 220v1M130.5 222v1M136.5 218v1M139.5 213v1M152.5 240v1M186.5 214v1M188.5 212v1M191.5 211v1M191.5 215v1M192.5 210v1M192.5 214v1M195.5 210v1M197.5 213v1M199.5 210v1M202.5 209v1M203.5 212v1M205.5 207v1M208.5 208v1M212.5 204v1M215.5 202v1M215.5 205v1M217.5 204v1M218.5 204v1M219.5 202v1M221.5 200v1M233.5 236v1M235.5 187v1M235.5 205v1M236.5 205v1M237.5 187v1M238.5 129v1M238.5 132v2M239.5 133v2M241.5 190v1M244.5 192v1M244.5 196v1M247.5 198v1M247.5 204v1M248.5 198v1M248.5 202v1M248.5 205v1M250.5 201v1M252.5 206v1M255.5 210v1M257.5 208v1M257.5 212v1M260.5 208v1M262.5 212v1M265.5 211v1M268.5 211v1M270.5 206v1M271.5 206v1M278.5 212v4M280.5 214v1M281.5 213v1M281.5 215v1M282.5 213v1M284.5 219v1M284.5 222v1M284.5 225v1M285.5 216v1M286.5 216v3M286.5 220v2M286.5 223v1M288.5 216v1M288.5 226v1M291.5 224v1M291.5 226v1M291.5 231v1M293.5 228v3M294.5 223v1M294.5 225v1M294.5 231v1M294.5 233v2M295.5 235v1M295.5 237v1M295.5 239v1M296.5 230v1M296.5 232v2M297.5 230v1M297.5 235v1M297.5 237v1M297.5 240v1M297.5 244v1M298.5 243v1M299.5 244v1M301.5 236v2M310.5 235v1M311.5 235v1M314.5 232v1M315.5 233v1M317.5 231v1M318.5 235v1M322.5 231v1M324.5 232v1M327.5 233v1M328.5 233v1M333.5 234v1M333.5 236v1M339.5 234v1M339.5 237v1M340.5 234v1M341.5 234v1M341.5 236v1M342.5 234v1M343.5 235v1M344.5 234v1M345.5 236v1M346.5 236v1M347.5 236v1M354.5 235v1M356.5 235v1M357.5 231v1M359.5 232v1M364.5 232v1M368.5 230v1M369.5 231v1M370.5 229v1M374.5 229v1M377.5 225v1M381.5 227v1M382.5 225v1M384.5 228v1M387.5 226v1M393.5 226v1M394.5 226v1M394.5 230v1M397.5 230v1M470.5 255v1M500.5 222v1M501.5 221v2M505.5 223v1M510.5 229v1M512.5 228v1M517.5 228v1M527.5 230v1M532.5 231v1M537.5 235v1M538.5 235v1M590.5 190v1M590.5 192v1M590.5 194v1M591.5 190v1M591.5 193v1M591.5 195v1M591.5 197v1M592.5 223v1M592.5 231v1M593.5 231v1M594.5 226v1M597.5 221v1M598.5 227v1M598.5 231v1M601.5 225v1M610.5 227v1M613.5 235v1M614.5 227v1M615.5 221v1M615.5 226v2M616.5 235v1M618.5 230v1M619.5 221v1M619.5 236v1M620.5 225v1M621.5 222v1M622.5 235v1M626.5 222v2M627.5 217v1M627.5 219v1M628.5 216v1M628.5 225v1M629.5 215v2M629.5 226v1M630.5 226v2M631.5 225v1M631.5 228v1M632.5 226v1M635.5 231v1M636.5 228v1M641.5 233v1M644.5 183v1M694.5 210v1M696.5 206v1M696.5 208v1M699.5 208v1"/>
<path stroke="#ad0053" d="M79.5 238v1M80.5 236v1M85.5 237v1M87.5 216v1M88.5 215v1M90.5 214v1M93.5 195v1M93.5 213v1M93.5 236v1M94.5 192v1M94.5 218v1M95.5 190v1M95.5 196v1M95.5 238v1M96.5 240v1M99.5 216v1M99.5 240v1M99.5 243v1M100.5 216v1M100.5 241v1M101.5 215v1M102.5 242v1M106.5 239v1M107.5 240v1M112.5 238v1M113.5 236v1M113.5 240v1M115.5 237v1M116.5 234v1M120.5 237v1M121.5 224v1M124.5 221v1M126.5 224v1M131.5 221v1M132.5 218v1M133.5 217v1M141.5 206v1M143.5 207v1M147.5 234v1M151.5 236v1M152.5 238v1M155.5 200v1M155.5 203v2M156.5 201v1M156.5 230v1M174.5 211v1M180.5 217v1M184.5 213v1M184.5 216v1M186.5 212v1M188.5 215v1M195.5 213v1M199.5 213v1M207.5 207v1M209.5 205v1M211.5 207v1M214.5 205v1M218.5 201v1M219.5 200v1M223.5 202v1M233.5 233v1M233.5 235v1M234.5 186v1M236.5 207v1M236.5 210v1M237.5 206v2M238.5 130v1M239.5 129v1M239.5 131v2M240.5 193v1M246.5 194v1M247.5 196v1M247.5 200v2M248.5 200v1M249.5 206v1M254.5 206v1M255.5 207v1M258.5 209v1M264.5 208v1M264.5 211v1M266.5 210v1M267.5 208v1M267.5 211v1M268.5 207v1M269.5 207v1M280.5 208v1M281.5 211v1M281.5 217v1M281.5 219v1M282.5 211v1M284.5 214v1M284.5 218v1M284.5 220v2M286.5 219v1M288.5 217v1M288.5 222v1M288.5 225v1M291.5 230v1M292.5 227v1M292.5 232v1M293.5 225v1M293.5 232v1M294.5 226v1M294.5 230v1M297.5 231v1M297.5 233v1M297.5 236v1M297.5 242v1M299.5 242v1M300.5 245v1M301.5 238v1M301.5 240v1M310.5 232v1M319.5 235v1M320.5 235v1M321.5 231v1M322.5 233v1M325.5 229v1M327.5 230v1M328.5 231v1M329.5 232v1M330.5 233v1M330.5 235v1M335.5 237v1M337.5 234v1M337.5 237v1M338.5 237v1M340.5 238v1M345.5 233v1M352.5 232v1M354.5 232v1M356.5 232v1M359.5 234v1M361.5 231v1M361.5 234v1M362.5 233v1M373.5 225v1M376.5 227v1M379.5 224v1M380.5 226v1M380.5 228v1M384.5 227v1M385.5 225v1M388.5 226v2M390.5 225v1M391.5 225v1M392.5 226v1M392.5 228v1M393.5 228v1M395.5 227v1M395.5 229v1M502.5 222v1M503.5 223v1M505.5 224v1M511.5 230v1M512.5 231v1M516.5 227v1M520.5 232v1M521.5 229v1M522.5 229v1M522.5 232v1M529.5 229v1M530.5 231v1M533.5 233v1M536.5 232v1M537.5 233v1M590.5 191v1M590.5 193v1M590.5 195v3M591.5 191v1M591.5 194v1M594.5 232v1M595.5 221v1M597.5 222v1M598.5 230v1M601.5 221v1M601.5 229v1M601.5 233v1M602.5 226v1M615.5 225v1M618.5 229v1M620.5 227v1M621.5 221v1M623.5 224v1M623.5 226v1M626.5 214v1M626.5 224v1M627.5 213v1M627.5 224v1M628.5 217v1M628.5 220v1M629.5 222v1M633.5 229v1M637.5 229v1M638.5 232v1M641.5 232v1M642.5 185v1M643.5 237v1M644.5 235v1M696.5 209v1"/>
<path stroke="#960069" d="M68.5 235v1M79.5 240v1M85.5 234v1M86.5 235v1M87.5 235v1M90.5 237v1M91.5 213v1M91.5 216v1M93.5 189v1M93.5 191v1M93.5 238v1M95.5 217v1M96.5 190v3M96.5 195v2M96.5 216v1M97.5 215v1M97.5 240v2M101.5 214v1M103.5 242v1M104.5 208v1M104.5 211v1M104.5 242v1M108.5 240v1M114.5 237v1M121.5 237v1M123.5 222v1M129.5 222v1M138.5 212v1M138.5 215v1M140.5 209v1M142.5 206v1M142.5 208v1M148.5 237v1M151.5 238v1M155.5 227v1M155.5 230v1M156.5 200v1M156.5 202v2M156.5 229v1M175.5 214v1M177.5 218v1M180.5 220v1M182.5 218v1M187.5 212v1M187.5 215v1M189.5 211v1M190.5 211v1M193.5 211v1M196.5 210v1M200.5 209v1M200.5 211v1M201.5 210v1M205.5 210v1M207.5 209v1M209.5 208v1M220.5 200v1M222.5 198v1M222.5 201v1M223.5 199v1M233.5 234v1M235.5 209v1M236.5 187v1M238.5 131v1M238.5 134v1M239.5 130v1M242.5 190v1M242.5 194v1M242.5 196v1M243.5 191v1M248.5 204v1M249.5 201v1M249.5 204v1M250.5 203v1M251.5 202v1M252.5 210v1M254.5 210v1M258.5 211v1M259.5 212v1M265.5 207v1M269.5 210v1M270.5 208v1M284.5 215v1M284.5 217v1M285.5 218v1M287.5 221v1M288.5 219v1M288.5 221v1M291.5 227v1M291.5 229v1M293.5 227v1M294.5 229v1M294.5 232v1M297.5 232v1M301.5 241v2M312.5 233v1M312.5 235v1M313.5 234v1M316.5 233v1M319.5 233v1M320.5 233v1M323.5 233v1M334.5 236v1M335.5 234v1M338.5 234v1M342.5 236v1M344.5 236v1M351.5 234v1M357.5 234v1M362.5 230v1M364.5 229v1M370.5 227v1M374.5 226v1M375.5 226v1M375.5 229v1M376.5 225v1M378.5 225v1M378.5 228v1M380.5 227v1M381.5 225v1M385.5 227v1M386.5 226v1M387.5 228v1M389.5 225v1M389.5 228v1M390.5 228v1M394.5 227v1M397.5 228v1M510.5 226v1M511.5 228v1M513.5 228v1M513.5 230v1M516.5 231v1M518.5 232v1M519.5 228v1M519.5 231v1M529.5 232v1M530.5 233v1M535.5 232v1M536.5 233v1M591.5 192v1M591.5 196v1M601.5 228v1M602.5 227v1M609.5 227v1M614.5 226v1M615.5 228v2M616.5 223v1M617.5 223v1M617.5 233v1M618.5 231v1M619.5 234v1M621.5 223v1M621.5 232v1M626.5 213v1M626.5 217v1M627.5 218v1M627.5 222v1M628.5 213v1M628.5 219v1M629.5 213v1M629.5 223v1M629.5 225v1M631.5 227v1M634.5 228v1M634.5 230v1M635.5 229v1M638.5 231v1M641.5 235v1M642.5 235v1M644.5 233v1"/>
<path stroke="#800080" d="M66.5 236v2M67.5 235v3M68.5 236v2M69.5 237v3M71.5 237v2M72.5 238v2M73.5 238v3M75.5 239v3M76.5 239v1M77.5 238v3M78.5 239v2M79.5 239v1M80.5 237v3M81.5 237v2M82.5 236v3M83.5 235v2M84.5 234v3M85.5 235v2M86.5 233v2M87.5 233v2M88.5 214v1M89.5 214v2M89.5 235v2M90.5 215v2M90.5 235v2M91.5 214v2M91.5 236v3M92.5 214v3M92.5 237v3M93.5 214v3M93.5 237v1M94.5 214v4M94.5 237v2M95.5 215v2M95.5 239v1M96.5 214v2M96.5 238v2M97.5 214v1M98.5 240v1M99.5 214v2M99.5 241v2M100.5 214v2M100.5 242v1M101.5 242v2M102.5 243v2M103.5 243v1M104.5 209v2M104.5 243v1M105.5 210v2M106.5 209v2M106.5 240v1M107.5 238v2M108.5 210v2M108.5 238v2M109.5 210v1M109.5 238v2M110.5 238v2M111.5 238v2M112.5 239v2M113.5 237v3M114.5 238v2M115.5 238v1M116.5 235v2M118.5 221v2M119.5 222v2M121.5 222v2M121.5 236v1M122.5 235v3M123.5 223v2M124.5 222v3M126.5 221v3M127.5 221v2M128.5 221v2M129.5 220v2M130.5 220v2M131.5 218v3M132.5 219v3M133.5 218v3M134.5 218v2M135.5 216v3M136.5 215v3M137.5 214v3M138.5 213v2M139.5 211v2M140.5 210v2M141.5 207v3M142.5 207v1M143.5 205v2M147.5 235v2M148.5 236v1M150.5 236v3M151.5 237v1M152.5 239v1M153.5 239v1M155.5 201v2M155.5 228v2M156.5 204v1M156.5 227v2M174.5 209v2M175.5 212v2M177.5 215v3M178.5 217v2M179.5 218v2M180.5 218v2M182.5 217v1M183.5 215v3M184.5 214v2M185.5 213v2M186.5 213v1M187.5 213v2M188.5 213v2M189.5 212v2M190.5 212v1M191.5 212v3M192.5 211v3M193.5 212v2M194.5 211v2M195.5 211v2M196.5 211v2M197.5 211v2M198.5 210v3M199.5 211v2M200.5 210v1M201.5 211v1M202.5 210v1M203.5 209v3M204.5 209v2M205.5 208v2M206.5 209v2M207.5 208v1M208.5 207v1M209.5 206v2M210.5 206v3M211.5 206v1M212.5 205v2M213.5 203v3M214.5 203v2M215.5 203v2M216.5 201v3M217.5 202v2M218.5 202v2M219.5 201v1M220.5 201v2M222.5 199v2M223.5 200v2M234.5 187v1M235.5 188v1M236.5 188v1M237.5 185v2M237.5 188v2M238.5 186v2M238.5 189v2M239.5 187v2M239.5 190v2M240.5 192v1M241.5 188v2M241.5 193v2M242.5 191v1M242.5 195v1M243.5 192v1M243.5 196v3M244.5 197v2M245.5 194v2M245.5 199v2M246.5 195v2M247.5 197v1M247.5 202v2M248.5 199v1M248.5 203v1M249.5 200v1M249.5 205v1M250.5 202v1M250.5 205v2M251.5 203v1M251.5 207v2M252.5 207v3M253.5 207v3M254.5 207v3M255.5 208v2M256.5 208v2M257.5 209v3M258.5 210v1M259.5 209v3M260.5 209v3M261.5 209v2M262.5 209v3M264.5 209v2M265.5 208v3M266.5 207v3M267.5 209v2M268.5 208v3M269.5 208v2M270.5 207v1M271.5 207v1M282.5 212v1M284.5 216v1M285.5 217v1M287.5 222v1M288.5 218v1M288.5 220v1M288.5 223v2M291.5 228v1M292.5 231v1M293.5 226v1M293.5 233v2M294.5 227v2M294.5 235v2M295.5 236v1M296.5 237v3M297.5 234v1M297.5 241v1M298.5 241v2M299.5 243v1M301.5 239v1M310.5 233v2M311.5 233v2M312.5 234v1M313.5 233v1M314.5 233v3M316.5 234v1M317.5 232v3M318.5 234v1M319.5 234v1M320.5 234v1M321.5 232v3M322.5 232v1M323.5 230v3M324.5 229v3M325.5 230v2M326.5 231v2M327.5 231v2M328.5 232v1M329.5 233v1M330.5 234v1M331.5 234v2M332.5 235v2M333.5 235v1M334.5 234v2M335.5 235v2M336.5 236v2M337.5 235v2M338.5 235v2M339.5 235v2M340.5 235v3M341.5 235v1M342.5 235v1M344.5 235v1M345.5 234v2M346.5 234v2M347.5 234v2M348.5 232v4M350.5 233v2M351.5 235v1M352.5 233v2M353.5 234v2M354.5 233v2M355.5 232v2M356.5 233v2M357.5 232v2M358.5 232v2M359.5 233v1M360.5 231v3M361.5 232v2M362.5 231v2M363.5 231v2M364.5 230v2M365.5 228v4M366.5 229v3M367.5 228v3M368.5 228v2M369.5 228v3M370.5 228v1M371.5 228v2M372.5 226v3M373.5 226v3M374.5 227v2M375.5 227v2M376.5 226v1M377.5 226v3M378.5 226v2M379.5 225v3M381.5 226v1M382.5 226v2M383.5 226v2M384.5 225v2M385.5 226v1M386.5 227v2M387.5 227v1M389.5 226v2M390.5 226v2M391.5 226v3M392.5 227v1M393.5 227v1M394.5 228v2M395.5 228v1M396.5 227v2M397.5 229v1M507.5 224v3M508.5 226v3M509.5 227v2M510.5 227v2M511.5 229v1M512.5 229v2M513.5 229v1M514.5 228v2M515.5 229v3M516.5 228v3M517.5 229v2M518.5 229v3M519.5 229v2M520.5 229v3M521.5 230v3M522.5 230v2M523.5 230v3M525.5 231v2M527.5 231v3M528.5 229v4M529.5 230v2M530.5 232v1M531.5 231v2M533.5 231v2M534.5 232v2M535.5 233v2M537.5 234v1M538.5 234v1M594.5 224v2M594.5 233v1M595.5 222v1M596.5 225v2M597.5 223v1M602.5 223v2M607.5 234v1M607.5 236v2M608.5 236v1M609.5 221v3M609.5 232v1M610.5 226v1M613.5 226v1M613.5 233v1M614.5 231v1M616.5 227v1M616.5 237v1M617.5 221v1M617.5 232v1M617.5 236v1M618.5 223v1M618.5 225v1M618.5 236v2M619.5 222v2M620.5 226v1M621.5 237v1M622.5 221v1M623.5 223v1M623.5 225v1M629.5 224v1M631.5 226v1M632.5 227v1M633.5 228v1M634.5 229v1M635.5 230v1M636.5 229v2M637.5 230v2"/>
<path stroke="#dcdce8" d="M52.5 505v4M52.5 510v2M53.5 506v7M53.5 537v1M54.5 506v2M54.5 509v5M55.5 509v4M55.5 537v1M56.5 507v6M57.5 505v5M57.5 511v1M58.5 509v4M59.5 505v7M60.5 508v5M61.5 509v2M61.5 512v1M62.5 507v7M63.5 507v2M63.5 510v2M64.5 506v4M259.5 500v1M260.5 483v25M262.5 484v33M263.5 482v1M263.5 484v1M263.5 486v38M265.5 482v40M267.5 483v28M269.5 482v41M271.5 481v26M272.5 481v34M273.5 482v1M273.5 484v2M273.5 487v4M273.5 492v4M273.5 497v21M275.5 477v42M276.5 483v27M277.5 512v1M278.5 484v1M278.5 486v33M300.5 523v1M300.5 525v1M300.5 527v2M302.5 535v1M366.5 537v1M367.5 537v1M368.5 537v1M369.5 536v2M370.5 536v2M371.5 537v1M372.5 537v1M373.5 537v1M378.5 537v2M379.5 536v2M380.5 536v2M381.5 537v1M383.5 537v1M391.5 537v1M392.5 537v1M393.5 537v1M395.5 537v1M397.5 513v1M398.5 502v2M398.5 505v6M398.5 516v3M398.5 522v3M398.5 529v3M398.5 535v1M398.5 537v1M399.5 495v17M399.5 514v1M399.5 516v2M399.5 521v4M399.5 526v3M399.5 533v2M399.5 537v1M400.5 497v2M400.5 500v13M400.5 517v1M400.5 519v4M400.5 525v1M400.5 530v2M400.5 535v2M400.5 538v1M401.5 497v1M401.5 499v1M401.5 501v12M401.5 516v1M401.5 518v1M401.5 523v1M401.5 526v1M401.5 528v1M401.5 531v1M401.5 533v5M402.5 518v1M402.5 521v2M402.5 527v5M402.5 533v2M403.5 506v9M403.5 517v1M403.5 519v2M403.5 522v1M403.5 527v3M403.5 534v2M403.5 537v1M404.5 497v19M404.5 517v3M404.5 521v2M404.5 524v4M404.5 529v1M408.5 507v1M408.5 511v2M409.5 499v13M411.5 503v1M411.5 507v6M411.5 537v1M412.5 499v2M412.5 502v11M413.5 537v1M414.5 502v2M414.5 505v1M414.5 508v6M416.5 537v1M417.5 505v1M417.5 507v4M417.5 537v1M420.5 512v2M427.5 537v1M429.5 537v1M430.5 510v2M430.5 537v1M431.5 537v1M433.5 511v1M434.5 509v2M435.5 510v1M436.5 510v1M437.5 508v1M438.5 511v2M441.5 511v1M442.5 510v2M443.5 510v1M444.5 510v1M445.5 511v1M445.5 537v1M446.5 508v2M446.5 535v3M447.5 509v3M447.5 536v1M448.5 510v2M448.5 538v1M449.5 511v1M449.5 535v3M450.5 534v2M451.5 511v1M451.5 535v1M451.5 537v1M452.5 536v2M453.5 536v2M454.5 534v3M455.5 511v1M455.5 536v2M456.5 512v2M457.5 511v2M457.5 535v4M458.5 533v5M459.5 510v1M459.5 534v5M460.5 510v2M460.5 536v2M461.5 511v1M461.5 537v1M462.5 511v3M462.5 535v3M463.5 513v1M463.5 537v1M465.5 510v4M466.5 512v1M467.5 510v1M468.5 510v1M469.5 511v1M470.5 510v1M474.5 537v1M475.5 536v1M476.5 534v2M477.5 510v1M477.5 536v2M478.5 536v1M479.5 508v2M479.5 535v2M480.5 535v3M481.5 510v1M481.5 535v3M482.5 510v2M482.5 533v1M482.5 535v1M482.5 537v1M483.5 525v12M484.5 529v8M485.5 530v1M485.5 532v2M485.5 535v4M486.5 534v4M487.5 535v3M488.5 536v2M534.5 537v1M535.5 536v2M536.5 536v2M537.5 536v2M538.5 536v2M539.5 537v1M540.5 537v1M545.5 533v4M546.5 490v1M548.5 492v2M548.5 495v1M549.5 496v1M552.5 499v2M553.5 499v2M559.5 507v1M560.5 503v2M561.5 507v1M562.5 504v3M563.5 504v1M565.5 530v1M565.5 532v1M565.5 536v1M567.5 505v1M568.5 506v2"/>
<path stroke="#cfcfea" d="M52.5 504v1M53.5 504v1M54.5 536v2M55.5 507v2M60.5 507v1M61.5 507v1M63.5 505v1M64.5 505v1M234.5 428v1M234.5 433v1M235.5 429v1M259.5 497v2M263.5 483v1M263.5 485v1M273.5 486v1M273.5 491v1M273.5 496v1M277.5 506v2M278.5 482v2M278.5 485v1M298.5 525v1M300.5 526v1M300.5 531v1M382.5 537v1M397.5 506v1M397.5 508v2M397.5 511v1M398.5 504v1M398.5 514v2M398.5 519v1M400.5 516v1M400.5 524v1M400.5 532v1M400.5 534v1M401.5 498v1M401.5 500v1M401.5 514v1M401.5 517v1M401.5 519v1M401.5 521v1M401.5 527v1M401.5 529v1M402.5 510v1M402.5 512v3M402.5 516v1M402.5 519v2M402.5 523v1M402.5 535v1M402.5 537v1M403.5 501v1M403.5 515v1M404.5 520v1M404.5 532v1M404.5 538v1M408.5 506v1M408.5 510v1M411.5 502v1M411.5 504v3M412.5 498v1M412.5 538v1M414.5 507v1M415.5 537v1M429.5 536v1M431.5 510v1M433.5 510v1M443.5 509v1M445.5 535v2M447.5 537v1M450.5 536v2M451.5 534v1M451.5 536v1M453.5 510v1M455.5 510v1M460.5 509v1M463.5 512v1M464.5 510v1M465.5 509v1M474.5 511v1M475.5 537v1M476.5 536v2M477.5 511v1M478.5 535v1M478.5 537v1M479.5 507v1M479.5 510v1M482.5 509v1M482.5 531v2M482.5 534v1M482.5 536v1M483.5 511v1M484.5 537v1M485.5 531v1M485.5 534v1M486.5 533v1M537.5 538v1M545.5 530v3M545.5 537v1M549.5 493v1M549.5 495v1M554.5 502v2M556.5 501v1M560.5 505v1M564.5 506v1M565.5 507v1M565.5 529v1M565.5 531v1M565.5 533v3M565.5 537v1M566.5 505v1"/>
<path stroke="#c2c2eb" d="M52.5 503v1M53.5 536v1M53.5 538v1M54.5 508v1M54.5 538v1M55.5 538v1M61.5 511v1M233.5 424v4M234.5 429v1M234.5 438v1M235.5 426v2M259.5 493v4M271.5 480v1M272.5 480v1M273.5 481v1M273.5 483v1M275.5 476v1M276.5 481v2M277.5 498v1M277.5 502v1M277.5 504v1M278.5 481v1M300.5 524v1M300.5 529v1M301.5 531v1M302.5 536v2M397.5 507v1M397.5 510v1M398.5 500v2M398.5 525v1M398.5 532v1M398.5 534v1M400.5 496v1M400.5 499v1M402.5 508v2M402.5 517v1M403.5 499v2M403.5 503v3M404.5 530v1M404.5 534v1M404.5 536v1M407.5 513v1M408.5 508v2M411.5 500v2M412.5 493v2M412.5 501v1M414.5 501v1M414.5 504v1M414.5 506v1M417.5 503v1M418.5 509v1M421.5 511v1M423.5 511v1M431.5 511v1M437.5 509v1M438.5 509v2M441.5 510v1M442.5 509v1M444.5 508v2M445.5 510v1M447.5 508v1M449.5 510v1M450.5 511v1M452.5 511v1M454.5 510v1M455.5 509v1M457.5 510v1M458.5 510v1M459.5 509v1M467.5 509v1M473.5 508v1M475.5 508v1M475.5 510v1M480.5 510v1M482.5 508v1M483.5 510v1M547.5 492v1M548.5 491v1M548.5 494v1M549.5 497v1M550.5 497v1M552.5 495v2M552.5 498v1M553.5 497v1M557.5 503v1M559.5 502v2M561.5 505v1M562.5 507v1M566.5 504v1M567.5 503v2M568.5 503v1M569.5 506v1M691.5 495v1M695.5 493v2"/>
<path stroke="#b6b6ed" d="M52.5 509v1M55.5 536v1M56.5 504v1M58.5 507v1M61.5 506v1M233.5 431v1M234.5 424v2M234.5 434v2M235.5 434v1M259.5 499v1M268.5 495v4M268.5 501v2M268.5 505v1M268.5 507v3M275.5 475v1M277.5 496v2M277.5 499v1M277.5 501v1M277.5 503v1M277.5 508v4M277.5 513v1M298.5 519v2M299.5 521v2M301.5 533v1M378.5 521v1M378.5 523v1M397.5 499v2M397.5 503v2M397.5 512v1M398.5 498v2M398.5 521v1M400.5 514v2M400.5 518v1M400.5 523v1M400.5 533v1M400.5 537v1M401.5 525v1M401.5 530v1M402.5 506v1M402.5 511v1M402.5 536v1M403.5 495v1M403.5 502v1M403.5 525v2M403.5 530v1M403.5 533v1M408.5 502v1M408.5 504v1M411.5 498v2M417.5 502v1M417.5 504v1M417.5 506v1M419.5 510v1M420.5 509v2M427.5 510v1M429.5 510v1M433.5 509v1M440.5 510v1M449.5 509v1M452.5 510v1M457.5 509v1M463.5 510v1M466.5 510v2M468.5 509v1M469.5 509v2M470.5 509v1M474.5 509v1M475.5 509v1M479.5 506v1M481.5 509v1M484.5 512v1M499.5 497v1M551.5 498v1M552.5 493v1M552.5 497v1M553.5 492v2M553.5 498v1M558.5 500v2M559.5 505v1M560.5 501v1M561.5 502v1M564.5 505v1M623.5 472v1M688.5 495v1M691.5 485v1M691.5 489v1M691.5 491v2M691.5 496v2M695.5 495v1"/>
<path stroke="#a7a7ee" d="M54.5 505v1M58.5 506v1M59.5 504v1M60.5 505v1M61.5 508v1M63.5 503v2M233.5 429v2M233.5 437v2M234.5 426v2M235.5 432v2M235.5 435v1M259.5 484v2M259.5 487v1M259.5 492v1M264.5 504v2M264.5 509v2M268.5 503v2M268.5 506v1M270.5 520v1M276.5 480v1M277.5 488v1M277.5 494v1M277.5 500v1M277.5 505v1M278.5 480v1M292.5 513v1M298.5 521v1M300.5 530v1M301.5 529v1M328.5 507v1M350.5 506v1M364.5 506v1M372.5 514v1M372.5 516v1M373.5 517v1M375.5 519v1M378.5 520v1M388.5 513v1M397.5 505v1M398.5 494v1M398.5 497v1M398.5 533v1M399.5 515v1M399.5 525v1M399.5 535v2M401.5 515v1M401.5 520v1M401.5 532v1M402.5 504v1M402.5 507v1M402.5 525v1M403.5 497v2M403.5 516v1M403.5 521v1M403.5 524v1M403.5 531v1M404.5 523v1M404.5 531v1M404.5 537v1M405.5 508v1M405.5 511v1M407.5 512v1M408.5 503v1M408.5 505v1M412.5 495v3M414.5 498v3M416.5 511v1M417.5 497v2M417.5 500v1M420.5 511v1M426.5 511v2M429.5 511v1M431.5 509v1M435.5 509v1M436.5 509v1M440.5 511v1M447.5 504v1M451.5 510v1M462.5 510v1M463.5 511v1M470.5 508v1M473.5 509v2M477.5 509v1M478.5 509v2M479.5 505v1M484.5 513v1M496.5 508v1M498.5 501v1M498.5 506v1M499.5 495v1M500.5 497v1M549.5 492v1M549.5 494v1M550.5 494v1M551.5 499v1M553.5 494v1M553.5 496v1M554.5 500v1M555.5 499v1M556.5 500v1M557.5 502v1M558.5 502v1M559.5 500v1M559.5 504v1M560.5 500v1M560.5 502v1M562.5 503v1M569.5 504v1M570.5 505v1M604.5 483v1M625.5 466v1M625.5 476v1M688.5 493v1M691.5 490v1M691.5 493v2M695.5 479v1M695.5 485v1M695.5 488v1M695.5 490v1M695.5 496v2M698.5 493v1"/>
<path stroke="#8888f1" d="M52.5 502v1M53.5 503v1M53.5 505v1M56.5 502v2M56.5 506v1M57.5 504v1M57.5 512v1M58.5 505v1M59.5 503v1M64.5 504v1M233.5 433v2M233.5 436v1M234.5 437v1M235.5 428v1M259.5 488v4M261.5 516v1M264.5 497v3M264.5 506v2M264.5 511v1M268.5 483v1M268.5 486v3M268.5 491v2M268.5 494v1M268.5 500v1M272.5 479v1M273.5 479v1M275.5 474v1M276.5 479v1M277.5 482v1M277.5 489v1M277.5 491v3M277.5 495v1M279.5 513v1M279.5 516v1M279.5 520v1M283.5 509v1M292.5 510v1M293.5 508v1M297.5 518v1M298.5 522v1M299.5 526v1M301.5 530v1M302.5 533v1M321.5 508v1M322.5 506v1M346.5 508v1M368.5 509v2M369.5 511v1M369.5 513v1M372.5 511v1M372.5 515v1M373.5 511v1M374.5 516v1M374.5 519v1M375.5 513v1M378.5 514v1M378.5 519v1M378.5 522v1M380.5 519v1M384.5 513v1M384.5 515v1M385.5 512v1M388.5 511v1M391.5 510v1M393.5 508v1M393.5 510v1M395.5 509v1M395.5 511v1M396.5 507v1M396.5 510v1M397.5 501v2M398.5 520v1M398.5 526v1M398.5 536v1M399.5 530v2M401.5 522v1M401.5 524v1M402.5 505v1M402.5 515v1M402.5 532v1M403.5 494v1M403.5 496v1M403.5 536v1M405.5 512v1M414.5 497v1M416.5 510v1M417.5 496v1M417.5 499v1M417.5 501v1M418.5 508v1M422.5 508v1M423.5 509v1M425.5 510v1M426.5 510v1M427.5 509v1M430.5 502v1M430.5 504v1M432.5 510v1M432.5 512v1M434.5 503v1M434.5 505v1M437.5 499v2M437.5 505v1M442.5 508v1M443.5 507v2M445.5 509v1M446.5 502v1M446.5 504v1M446.5 506v1M447.5 502v2M447.5 505v1M448.5 509v1M449.5 508v1M456.5 511v1M457.5 508v1M460.5 505v1M462.5 509v1M465.5 502v3M468.5 508v1M474.5 508v1M476.5 509v3M477.5 508v1M478.5 507v2M480.5 509v1M480.5 511v1M481.5 508v1M483.5 508v2M484.5 505v1M484.5 510v1M496.5 500v2M496.5 509v1M497.5 510v1M498.5 493v1M499.5 491v2M501.5 498v2M534.5 493v1M534.5 497v1M547.5 490v1M548.5 487v3M550.5 496v1M551.5 496v2M551.5 500v1M553.5 490v1M554.5 496v1M554.5 499v1M555.5 497v2M555.5 500v2M559.5 501v1M559.5 506v1M561.5 506v1M563.5 503v1M564.5 504v1M565.5 506v1M567.5 500v1M568.5 505v1M604.5 484v1M607.5 475v1M608.5 474v1M608.5 480v1M623.5 465v1M623.5 473v1M623.5 482v1M624.5 435v3M624.5 445v1M625.5 468v1M626.5 459v1M686.5 488v1M688.5 479v1M688.5 483v1M688.5 486v1M688.5 489v2M688.5 496v1M689.5 486v1M689.5 491v2M689.5 494v1M691.5 473v1M691.5 486v1M692.5 493v1M693.5 491v1M695.5 474v1M695.5 476v1M695.5 478v1M695.5 481v1M695.5 486v1M695.5 489v1M695.5 491v1M698.5 487v1M698.5 490v2M698.5 494v1M699.5 486v2"/>
<path stroke="#6969f5" d="M52.5 527v2M55.5 506v1M61.5 505v1M63.5 509v1M233.5 428v1M233.5 432v1M233.5 435v1M234.5 432v1M234.5 436v1M235.5 430v2M255.5 488v1M255.5 493v1M259.5 486v1M261.5 502v1M261.5 505v1M261.5 507v2M261.5 514v2M264.5 494v1M264.5 496v1M264.5 501v3M264.5 508v1M268.5 482v1M268.5 489v2M268.5 493v1M268.5 499v1M270.5 510v3M273.5 480v1M274.5 512v1M274.5 516v1M275.5 473v1M277.5 483v5M277.5 490v1M278.5 479v1M279.5 504v2M279.5 507v1M279.5 514v1M279.5 518v2M279.5 521v1M280.5 504v1M280.5 506v1M283.5 504v1M283.5 507v2M283.5 511v1M284.5 515v1M286.5 510v1M286.5 514v2M287.5 488v1M292.5 497v1M292.5 508v1M294.5 514v1M294.5 517v1M294.5 519v1M295.5 517v2M295.5 520v1M297.5 519v1M298.5 523v2M299.5 523v2M299.5 527v1M301.5 514v1M301.5 517v1M301.5 534v1M302.5 534v1M338.5 523v1M340.5 520v1M358.5 505v1M362.5 504v2M364.5 508v1M368.5 508v1M370.5 509v1M373.5 507v1M373.5 514v2M374.5 510v1M374.5 515v1M375.5 508v1M375.5 510v1M375.5 512v1M376.5 524v1M377.5 508v1M377.5 510v1M377.5 513v1M377.5 515v1M377.5 517v1M378.5 507v1M380.5 514v1M381.5 515v1M384.5 502v1M384.5 514v1M385.5 510v1M386.5 511v1M388.5 509v1M388.5 512v1M389.5 508v1M393.5 509v1M395.5 508v1M396.5 511v1M398.5 495v2M399.5 518v3M399.5 529v1M402.5 503v1M402.5 524v1M403.5 518v1M403.5 523v1M403.5 532v1M404.5 516v1M404.5 528v1M404.5 533v1M404.5 535v1M405.5 509v2M407.5 507v1M407.5 510v2M410.5 511v1M413.5 511v1M415.5 510v1M416.5 509v1M416.5 512v1M419.5 508v1M420.5 502v1M421.5 507v1M421.5 510v1M422.5 510v1M424.5 509v1M428.5 512v1M430.5 498v3M430.5 508v1M431.5 508v1M434.5 502v1M434.5 508v1M435.5 508v1M436.5 504v1M436.5 508v1M437.5 496v1M437.5 504v1M438.5 497v1M444.5 491v1M444.5 505v1M446.5 499v1M446.5 507v1M447.5 498v1M447.5 507v1M450.5 510v1M456.5 510v1M459.5 499v1M460.5 502v1M461.5 509v2M464.5 509v1M465.5 505v1M465.5 507v1M469.5 508v1M474.5 510v1M482.5 507v1M491.5 514v1M495.5 508v1M496.5 502v1M496.5 504v1M496.5 510v1M497.5 507v1M498.5 491v1M498.5 497v1M528.5 489v1M528.5 492v1M528.5 494v1M529.5 487v3M532.5 486v1M532.5 488v1M533.5 487v2M533.5 491v1M546.5 488v2M548.5 490v1M549.5 491v1M552.5 492v1M554.5 495v1M554.5 498v1M555.5 496v1M556.5 499v1M557.5 504v1M558.5 498v2M562.5 502v1M568.5 504v1M569.5 505v1M588.5 500v1M591.5 501v2M592.5 493v1M596.5 511v1M596.5 516v1M597.5 518v1M604.5 469v1M607.5 471v1M607.5 476v1M607.5 485v1M608.5 482v1M608.5 484v1M608.5 487v1M609.5 475v1M609.5 483v1M610.5 504v1M620.5 478v1M621.5 469v1M621.5 472v1M621.5 477v1M623.5 435v2M623.5 444v1M623.5 447v1M623.5 470v1M623.5 481v1M624.5 443v1M625.5 469v1M625.5 473v1M626.5 466v1M626.5 468v1M636.5 506v1M647.5 454v1M650.5 445v1M650.5 451v1M686.5 485v1M686.5 487v1M686.5 489v1M687.5 487v1M688.5 473v1M688.5 487v2M688.5 494v1M689.5 489v1M689.5 493v1M689.5 495v1M690.5 493v1M691.5 476v1M691.5 487v1M693.5 486v2M693.5 490v1M693.5 494v1M698.5 476v1M698.5 481v1M698.5 484v1M698.5 488v1M699.5 474v1M699.5 481v2"/>
<path stroke="#4949f8" d="M52.5 526v1M58.5 508v1M61.5 504v1M127.5 465v1M199.5 483v1M222.5 405v2M222.5 408v1M229.5 414v1M234.5 430v2M235.5 425v1M241.5 463v1M241.5 467v1M241.5 469v1M249.5 482v1M249.5 484v1M255.5 476v1M255.5 492v1M255.5 494v1M261.5 499v3M261.5 504v1M261.5 509v1M261.5 513v1M264.5 485v1M264.5 487v2M264.5 491v3M264.5 500v1M266.5 502v2M266.5 507v1M268.5 484v2M270.5 495v1M270.5 498v1M270.5 503v2M270.5 506v3M270.5 514v2M270.5 517v3M272.5 478v1M273.5 478v1M274.5 501v1M274.5 506v2M274.5 509v1M274.5 513v1M274.5 517v1M279.5 492v1M279.5 497v1M279.5 499v1M279.5 509v3M279.5 515v1M279.5 517v1M280.5 497v1M280.5 503v1M280.5 505v1M282.5 507v1M283.5 490v1M283.5 493v1M283.5 498v2M283.5 502v1M283.5 510v1M283.5 512v1M283.5 516v1M283.5 518v1M284.5 493v1M284.5 495v1M284.5 498v1M284.5 505v1M284.5 508v1M284.5 510v3M286.5 507v1M286.5 509v1M286.5 512v1M286.5 517v1M287.5 489v1M287.5 491v2M287.5 497v1M289.5 508v1M289.5 517v1M289.5 521v1M290.5 510v2M290.5 514v6M292.5 496v1M292.5 506v2M292.5 509v1M292.5 511v2M294.5 502v1M294.5 505v1M294.5 508v2M294.5 513v1M294.5 518v1M295.5 509v1M297.5 509v1M297.5 511v1M298.5 508v1M298.5 512v1M298.5 516v1M299.5 528v1M301.5 532v1M301.5 535v1M302.5 514v1M316.5 509v1M321.5 506v2M348.5 506v1M362.5 503v1M362.5 506v1M363.5 507v1M364.5 505v1M364.5 507v1M368.5 502v1M368.5 506v1M369.5 509v1M369.5 512v1M370.5 506v1M372.5 513v1M373.5 516v1M373.5 518v1M374.5 520v1M375.5 503v1M375.5 506v1M375.5 514v1M375.5 516v2M375.5 520v1M376.5 516v2M376.5 521v1M376.5 523v1M377.5 506v1M377.5 512v1M377.5 514v1M377.5 518v1M377.5 520v1M378.5 504v1M380.5 508v3M380.5 515v1M380.5 518v1M381.5 510v2M383.5 516v1M384.5 504v1M384.5 506v1M384.5 511v1M384.5 516v1M385.5 509v1M385.5 515v2M386.5 512v1M388.5 510v1M389.5 507v1M389.5 510v1M390.5 510v1M391.5 505v1M393.5 507v1M395.5 507v1M395.5 510v1M396.5 504v1M397.5 497v2M398.5 493v1M402.5 502v1M405.5 503v1M405.5 507v1M407.5 508v2M408.5 498v2M408.5 501v1M410.5 509v2M419.5 509v1M420.5 504v1M421.5 500v1M421.5 503v2M421.5 508v1M423.5 510v1M424.5 510v1M425.5 491v1M425.5 509v1M426.5 495v1M426.5 509v1M428.5 511v1M429.5 508v1M430.5 490v1M430.5 494v1M430.5 505v1M430.5 509v1M431.5 506v1M432.5 488v1M432.5 495v1M433.5 490v1M433.5 492v1M433.5 495v1M434.5 493v2M434.5 496v2M435.5 488v1M435.5 494v1M435.5 496v1M437.5 497v1M437.5 507v1M438.5 501v1M441.5 509v1M442.5 506v1M443.5 496v1M444.5 494v1M444.5 498v1M444.5 504v1M444.5 507v1M446.5 503v1M447.5 499v1M447.5 501v1M448.5 503v1M448.5 506v1M448.5 508v1M449.5 506v1M451.5 509v1M453.5 509v1M455.5 508v1M457.5 502v1M457.5 506v1M459.5 502v1M459.5 507v1M460.5 501v1M460.5 506v1M460.5 508v1M462.5 497v1M463.5 508v1M465.5 501v1M465.5 506v1M465.5 508v1M466.5 509v1M467.5 508v1M470.5 505v1M470.5 507v1M475.5 507v1M481.5 538v1M482.5 506v1M484.5 507v1M484.5 509v1M491.5 498v1M493.5 501v1M494.5 512v1M494.5 514v1M494.5 517v1M495.5 509v1M498.5 494v1M498.5 505v1M499.5 490v1M499.5 494v1M500.5 491v1M500.5 494v2M528.5 491v1M529.5 483v1M529.5 485v1M529.5 491v1M530.5 483v1M531.5 487v1M532.5 484v2M532.5 491v1M532.5 493v1M533.5 490v1M533.5 492v1M533.5 499v1M534.5 491v2M534.5 496v1M535.5 508v1M535.5 512v2M549.5 489v2M550.5 492v2M550.5 495v1M551.5 495v1M552.5 491v1M552.5 494v1M553.5 491v1M554.5 494v1M554.5 501v1M556.5 498v1M557.5 498v1M558.5 495v1M559.5 498v1M560.5 494v1M560.5 498v1M561.5 501v1M561.5 503v1M562.5 499v1M562.5 501v1M563.5 499v2M564.5 502v1M567.5 501v1M568.5 499v1M568.5 502v1M569.5 502v1M570.5 504v1M574.5 538v1M577.5 538v1M584.5 538v1M586.5 498v1M586.5 501v1M588.5 502v1M589.5 481v1M590.5 500v1M592.5 476v1M593.5 498v1M596.5 509v2M596.5 512v1M596.5 514v2M597.5 504v1M597.5 513v5M603.5 517v1M603.5 524v1M604.5 467v1M604.5 474v1M604.5 512v2M604.5 515v1M607.5 465v1M607.5 482v1M607.5 502v1M608.5 465v1M608.5 468v1M608.5 478v1M609.5 470v1M609.5 476v1M609.5 479v1M609.5 503v1M610.5 507v1M611.5 503v1M612.5 504v1M612.5 506v2M613.5 506v1M613.5 508v2M616.5 511v2M617.5 504v1M620.5 465v1M621.5 467v1M621.5 474v1M621.5 535v2M622.5 507v1M622.5 517v1M622.5 519v2M622.5 522v1M622.5 526v2M623.5 437v1M623.5 449v1M623.5 451v1M623.5 467v1M624.5 446v2M624.5 449v1M626.5 460v1M627.5 461v1M627.5 465v1M628.5 463v1M632.5 500v1M632.5 504v1M636.5 495v1M636.5 507v1M641.5 448v1M643.5 449v1M643.5 455v1M647.5 457v1M670.5 410v1M670.5 414v2M671.5 406v1M686.5 477v1M687.5 490v1M688.5 470v1M688.5 476v1M688.5 481v1M688.5 491v2M689.5 475v2M689.5 481v1M689.5 490v1M690.5 486v1M690.5 490v1M691.5 470v1M691.5 472v1M691.5 475v1M691.5 478v1M691.5 480v1M691.5 483v2M691.5 488v1M692.5 486v1M692.5 489v1M692.5 492v1M693.5 477v1M694.5 490v1M694.5 497v1M695.5 471v3M695.5 480v1M695.5 484v1M695.5 487v1M695.5 492v1M696.5 492v1M697.5 485v1M697.5 489v2M697.5 492v2M698.5 477v1M698.5 483v1M698.5 485v1M698.5 489v1M698.5 492v1M699.5 471v1M699.5 480v1M699.5 483v1M699.5 488v2M699.5 491v1"/>
<path stroke="#2a2afb" d="M51.5 526v1M53.5 502v1M57.5 503v1M57.5 510v1M59.5 502v1M60.5 504v1M62.5 505v1M63.5 502v1M63.5 506v1M86.5 470v1M107.5 485v1M118.5 478v1M127.5 466v1M127.5 481v1M194.5 483v1M222.5 397v1M222.5 400v1M222.5 410v1M229.5 399v1M229.5 409v1M230.5 404v1M230.5 407v1M230.5 410v1M230.5 413v1M231.5 412v1M231.5 417v1M231.5 425v1M232.5 416v2M232.5 422v1M232.5 427v1M241.5 460v2M241.5 465v1M242.5 471v1M244.5 463v1M245.5 467v1M248.5 471v1M249.5 475v2M249.5 479v1M249.5 481v1M249.5 483v1M249.5 486v1M251.5 473v1M255.5 477v1M255.5 482v1M255.5 489v1M255.5 491v1M255.5 495v1M258.5 488v1M258.5 492v1M261.5 493v1M261.5 497v1M261.5 506v1M261.5 510v3M264.5 484v1M264.5 490v1M264.5 495v1M266.5 501v1M266.5 506v1M270.5 483v1M270.5 489v1M270.5 493v1M270.5 496v1M270.5 500v1M270.5 502v1M270.5 509v1M270.5 513v1M270.5 516v1M273.5 477v1M274.5 493v2M274.5 502v1M274.5 510v2M274.5 514v2M276.5 478v1M277.5 481v1M279.5 486v1M279.5 489v1M279.5 494v3M279.5 500v1M279.5 506v1M279.5 508v1M279.5 512v1M280.5 494v1M280.5 498v3M282.5 482v1M282.5 503v1M282.5 505v1M282.5 509v1M283.5 495v2M283.5 503v1M283.5 513v2M283.5 517v1M284.5 490v2M284.5 500v2M284.5 503v2M284.5 507v1M285.5 510v1M285.5 515v2M285.5 520v1M286.5 498v1M286.5 501v1M286.5 503v1M286.5 505v1M286.5 508v1M286.5 513v1M287.5 487v1M287.5 496v1M287.5 515v1M287.5 518v1M289.5 498v1M289.5 500v1M289.5 506v1M289.5 509v1M289.5 512v1M289.5 514v3M289.5 518v1M290.5 493v1M290.5 495v1M290.5 499v1M290.5 502v2M290.5 507v3M290.5 512v1M291.5 518v1M292.5 489v2M292.5 494v2M294.5 498v2M294.5 506v2M294.5 515v1M295.5 515v2M295.5 519v1M297.5 505v2M297.5 508v1M297.5 517v1M297.5 520v2M298.5 515v1M298.5 517v1M299.5 525v1M301.5 507v1M301.5 516v1M302.5 512v1M310.5 515v1M313.5 509v1M323.5 506v1M335.5 512v1M336.5 519v1M337.5 519v1M340.5 515v1M340.5 518v1M350.5 505v1M356.5 505v1M357.5 505v1M364.5 504v1M366.5 508v1M367.5 510v1M368.5 504v1M368.5 511v1M369.5 505v1M370.5 510v2M372.5 503v1M372.5 505v2M372.5 508v1M372.5 512v1M373.5 504v1M373.5 509v1M373.5 512v1M373.5 519v1M374.5 511v3M374.5 517v2M375.5 504v1M375.5 518v1M376.5 515v1M376.5 519v1M377.5 504v1M377.5 507v1M377.5 516v1M377.5 519v1M377.5 522v1M378.5 508v2M379.5 512v1M380.5 513v1M381.5 507v2M384.5 501v1M384.5 505v1M384.5 509v2M384.5 512v1M385.5 505v4M385.5 514v1M386.5 507v1M386.5 513v2M387.5 511v2M388.5 507v1M388.5 514v1M390.5 508v1M391.5 507v3M392.5 512v1M393.5 503v1M393.5 505v1M395.5 506v1M396.5 505v2M396.5 508v1M397.5 496v1M406.5 510v1M407.5 504v1M407.5 506v1M408.5 500v1M413.5 512v1M415.5 508v1M417.5 495v1M418.5 503v2M420.5 503v1M420.5 505v1M421.5 496v1M421.5 498v1M421.5 501v1M421.5 509v1M422.5 509v1M423.5 498v1M423.5 508v1M424.5 508v1M425.5 485v1M425.5 489v1M425.5 495v1M426.5 493v1M428.5 510v1M429.5 507v1M429.5 509v1M430.5 507v1M431.5 497v2M432.5 511v1M432.5 538v1M433.5 508v1M434.5 498v1M434.5 501v1M434.5 506v2M435.5 489v1M435.5 505v1M436.5 500v2M437.5 498v1M437.5 503v1M438.5 503v1M438.5 506v3M439.5 508v1M440.5 500v1M442.5 496v3M442.5 501v2M443.5 495v1M443.5 500v2M443.5 505v1M444.5 497v1M444.5 500v2M444.5 503v1M446.5 501v1M446.5 505v1M447.5 500v1M447.5 506v1M449.5 507v1M450.5 509v1M452.5 509v1M452.5 538v1M454.5 509v1M455.5 502v1M456.5 509v1M457.5 504v2M458.5 508v2M459.5 500v1M459.5 506v1M460.5 503v1M462.5 496v1M462.5 499v1M462.5 505v2M462.5 508v1M463.5 509v1M469.5 504v1M469.5 506v2M469.5 522v1M469.5 538v1M470.5 506v1M477.5 507v1M478.5 506v1M480.5 508v1M483.5 507v1M491.5 481v1M491.5 489v1M491.5 492v1M491.5 494v1M491.5 496v1M491.5 501v1M491.5 504v1M491.5 512v1M493.5 500v1M495.5 503v2M495.5 507v1M497.5 501v1M498.5 503v1M498.5 507v1M501.5 497v1M504.5 500v1M515.5 503v1M526.5 504v1M528.5 495v1M529.5 486v1M530.5 487v1M530.5 491v1M532.5 492v1M532.5 494v1M533.5 495v1M535.5 510v1M535.5 514v1M546.5 485v1M550.5 490v1M551.5 492v1M551.5 494v1M552.5 490v1M553.5 487v1M553.5 489v1M556.5 495v1M560.5 492v1M560.5 495v1M560.5 499v1M561.5 499v1M562.5 496v1M562.5 498v1M565.5 505v1M566.5 499v1M566.5 503v1M569.5 500v2M573.5 507v1M577.5 503v2M586.5 500v1M588.5 479v1M588.5 496v1M589.5 476v1M589.5 497v1M589.5 501v1M590.5 497v1M590.5 499v1M591.5 454v2M591.5 499v1M592.5 479v1M592.5 483v1M592.5 488v1M592.5 490v2M592.5 494v1M592.5 497v1M592.5 500v1M592.5 502v1M593.5 486v2M593.5 490v1M594.5 496v1M595.5 493v1M596.5 492v1M596.5 498v4M596.5 508v1M596.5 517v1M597.5 495v1M597.5 497v1M597.5 501v2M597.5 507v1M597.5 509v3M597.5 519v2M600.5 500v1M601.5 496v1M603.5 497v1M603.5 520v1M603.5 522v1M604.5 466v1M604.5 470v2M604.5 480v1M604.5 514v1M604.5 516v1M607.5 473v1M607.5 480v2M607.5 484v1M607.5 489v1M607.5 501v1M608.5 466v1M608.5 469v1M608.5 472v2M608.5 477v1M608.5 486v1M609.5 484v1M609.5 498v2M609.5 505v1M610.5 505v1M612.5 493v1M612.5 498v1M612.5 503v1M612.5 508v1M613.5 498v2M614.5 495v1M614.5 498v1M614.5 500v1M614.5 504v1M616.5 500v1M616.5 504v1M616.5 509v2M617.5 492v1M617.5 503v1M617.5 510v1M618.5 513v1M618.5 519v2M618.5 522v2M619.5 504v1M620.5 473v1M621.5 473v1M621.5 501v1M621.5 515v2M621.5 524v1M621.5 528v1M621.5 533v1M622.5 491v1M622.5 500v2M622.5 512v1M622.5 518v1M622.5 525v1M623.5 442v1M623.5 446v1M623.5 450v1M623.5 461v3M623.5 477v1M623.5 484v1M623.5 486v1M623.5 510v2M623.5 513v1M623.5 525v2M623.5 529v1M623.5 533v1M624.5 438v1M624.5 440v1M624.5 448v1M624.5 464v1M624.5 469v1M624.5 472v2M625.5 462v1M625.5 464v2M625.5 477v1M625.5 503v1M626.5 465v1M627.5 463v1M628.5 461v1M632.5 502v1M636.5 497v1M637.5 447v1M637.5 502v1M638.5 446v2M642.5 504v2M642.5 509v1M643.5 456v1M644.5 504v1M645.5 451v2M645.5 458v1M646.5 509v1M647.5 506v2M650.5 447v1M650.5 459v1M651.5 458v1M670.5 412v2M686.5 483v1M686.5 486v1M687.5 482v1M687.5 486v1M687.5 488v2M688.5 472v1M688.5 478v1M688.5 480v1M688.5 482v1M688.5 484v2M689.5 474v1M689.5 478v1M689.5 484v1M689.5 487v2M690.5 481v1M690.5 487v2M691.5 471v1M691.5 477v1M691.5 481v2M692.5 480v1M692.5 485v1M692.5 491v1M692.5 495v1M693.5 470v1M693.5 475v1M693.5 482v1M693.5 488v2M693.5 492v2M694.5 498v1M695.5 469v1M695.5 477v1M695.5 482v2M696.5 487v1M696.5 491v1M697.5 483v1M697.5 487v2M698.5 471v2M698.5 475v1M698.5 479v2M698.5 482v1M698.5 486v1M699.5 469v2M699.5 472v1M699.5 478v2M699.5 485v1M699.5 490v1"/>
<path stroke="#0b0bfe" d="M51.5 527v3M52.5 529v1M54.5 503v1M55.5 504v2M58.5 504v1M107.5 488v1M107.5 490v1M108.5 487v1M118.5 480v1M127.5 467v1M175.5 506v1M176.5 489v1M180.5 492v1M191.5 486v1M216.5 473v2M220.5 472v2M223.5 410v1M226.5 401v1M226.5 404v1M226.5 406v1M229.5 397v1M229.5 405v2M229.5 411v1M229.5 413v1M230.5 393v1M230.5 395v1M230.5 398v1M230.5 401v1M230.5 408v1M230.5 414v1M230.5 510v1M231.5 409v3M231.5 414v1M231.5 418v1M231.5 424v1M232.5 411v2M232.5 414v1M232.5 466v1M234.5 461v1M240.5 471v1M241.5 459v1M241.5 466v1M241.5 468v1M242.5 462v1M242.5 468v1M242.5 473v1M244.5 472v1M244.5 476v1M245.5 465v2M245.5 472v1M245.5 477v1M246.5 477v1M246.5 479v1M247.5 476v1M247.5 478v1M248.5 478v1M248.5 483v1M249.5 471v2M249.5 485v1M251.5 475v1M251.5 479v1M251.5 481v1M251.5 483v1M252.5 479v1M252.5 483v2M255.5 471v1M255.5 474v1M255.5 478v1M255.5 483v3M255.5 487v1M256.5 492v1M258.5 483v2M258.5 491v1M260.5 476v1M261.5 483v4M261.5 488v3M261.5 494v3M261.5 498v1M261.5 503v1M264.5 482v2M264.5 486v1M264.5 489v1M266.5 481v1M266.5 491v2M266.5 494v1M266.5 498v1M266.5 500v1M266.5 504v2M267.5 476v1M270.5 484v1M270.5 486v1M270.5 490v3M270.5 494v1M270.5 497v1M270.5 499v1M270.5 501v1M270.5 505v1M274.5 488v2M274.5 492v1M274.5 498v1M274.5 504v2M274.5 508v1M276.5 477v1M278.5 477v2M279.5 485v1M279.5 490v2M279.5 493v1M279.5 498v1M279.5 501v3M280.5 488v1M280.5 491v2M280.5 501v2M281.5 506v2M281.5 510v2M281.5 513v2M281.5 516v2M281.5 521v1M282.5 478v1M282.5 487v1M282.5 491v1M282.5 493v1M283.5 492v1M283.5 497v1M283.5 501v1M283.5 505v2M284.5 488v2M284.5 496v1M284.5 502v1M284.5 506v1M284.5 509v1M284.5 513v2M285.5 498v3M285.5 502v1M285.5 505v1M285.5 507v1M285.5 512v2M286.5 488v1M286.5 495v2M286.5 499v2M286.5 502v1M286.5 504v1M286.5 506v1M286.5 511v1M287.5 490v1M287.5 494v2M287.5 506v2M287.5 510v2M287.5 514v1M288.5 493v1M288.5 505v1M288.5 507v1M288.5 509v1M288.5 511v2M289.5 502v2M289.5 505v1M289.5 511v1M289.5 513v1M289.5 519v2M290.5 490v1M290.5 504v1M290.5 513v1M291.5 513v2M291.5 516v2M292.5 485v2M292.5 492v2M292.5 498v1M292.5 505v1M293.5 501v4M293.5 510v1M294.5 489v1M294.5 495v1M294.5 500v1M294.5 503v1M294.5 510v3M294.5 516v1M295.5 496v2M295.5 502v1M295.5 504v1M295.5 506v2M295.5 510v1M295.5 513v1M297.5 496v3M297.5 500v1M297.5 507v1M297.5 512v2M298.5 509v1M298.5 511v1M298.5 514v1M301.5 508v2M301.5 511v2M302.5 497v3M302.5 510v1M305.5 493v1M305.5 499v1M305.5 503v1M305.5 514v1M306.5 514v1M308.5 495v1M310.5 514v1M311.5 511v1M312.5 509v1M313.5 510v1M314.5 510v1M315.5 509v1M316.5 510v1M318.5 509v1M325.5 504v1M328.5 506v1M329.5 507v1M334.5 509v2M336.5 522v1M336.5 524v1M337.5 517v1M338.5 517v1M338.5 520v1M339.5 522v1M340.5 516v1M343.5 508v1M345.5 507v1M348.5 505v1M361.5 505v2M363.5 504v1M364.5 503v1M366.5 509v1M367.5 509v1M368.5 503v1M369.5 507v2M370.5 502v1M371.5 511v1M372.5 500v1M372.5 504v1M372.5 509v1M373.5 499v1M373.5 513v1M374.5 503v3M375.5 505v1M375.5 507v1M375.5 509v1M375.5 511v1M375.5 515v1M376.5 506v1M376.5 520v1M376.5 522v1M377.5 501v1M377.5 509v1M377.5 511v1M377.5 521v1M378.5 510v1M378.5 513v1M378.5 515v4M379.5 508v1M379.5 514v1M379.5 517v2M380.5 507v1M380.5 517v1M381.5 509v1M381.5 512v1M382.5 512v1M382.5 514v1M383.5 518v1M384.5 507v2M385.5 499v1M385.5 511v1M385.5 513v1M386.5 500v1M386.5 502v1M386.5 506v1M386.5 509v1M387.5 506v1M388.5 500v2M388.5 503v4M389.5 503v1M389.5 509v1M390.5 505v1M390.5 507v1M391.5 504v1M392.5 509v3M393.5 501v1M393.5 506v1M394.5 508v1M394.5 511v1M395.5 503v1M396.5 499v2M396.5 503v1M396.5 509v1M402.5 500v1M402.5 538v1M405.5 502v1M405.5 505v2M406.5 509v1M406.5 511v2M407.5 501v1M407.5 503v1M407.5 505v1M410.5 505v1M413.5 509v2M415.5 505v2M415.5 509v1M416.5 504v2M418.5 500v1M418.5 507v1M419.5 499v2M419.5 503v1M420.5 501v1M420.5 507v2M421.5 497v1M421.5 506v1M423.5 493v1M423.5 495v1M423.5 502v1M423.5 506v1M424.5 500v1M425.5 490v1M426.5 487v1M426.5 497v1M427.5 508v1M428.5 509v1M429.5 490v1M429.5 493v1M429.5 496v1M429.5 505v2M430.5 495v1M430.5 501v1M430.5 506v1M431.5 490v1M431.5 495v1M431.5 499v1M431.5 503v1M432.5 489v1M432.5 492v1M432.5 494v1M432.5 508v1M433.5 493v1M433.5 500v1M433.5 504v2M433.5 507v1M434.5 499v1M435.5 493v1M435.5 499v1M435.5 502v1M435.5 507v1M436.5 506v2M437.5 494v1M437.5 502v1M437.5 506v1M438.5 495v2M438.5 505v1M439.5 509v1M440.5 507v1M443.5 497v1M443.5 506v1M444.5 495v2M444.5 499v1M444.5 506v1M445.5 503v1M445.5 507v1M446.5 500v1M448.5 507v1M451.5 508v1M455.5 506v1M457.5 503v1M459.5 498v1M459.5 503v3M459.5 508v1M460.5 500v1M460.5 507v1M460.5 513v1M461.5 515v1M461.5 519v1M462.5 495v1M462.5 501v1M462.5 504v1M462.5 507v1M463.5 504v1M464.5 500v1M464.5 504v1M464.5 508v1M469.5 501v1M469.5 503v1M469.5 505v1M469.5 523v1M474.5 507v1M476.5 508v1M480.5 507v1M481.5 507v1M483.5 538v1M489.5 512v1M490.5 505v1M490.5 508v1M491.5 497v1M491.5 499v1M491.5 505v1M492.5 510v2M492.5 515v1M494.5 516v1M494.5 518v1M494.5 521v1M495.5 506v1M496.5 495v1M498.5 485v1M498.5 496v1M498.5 498v1M500.5 487v1M501.5 491v1M501.5 493v1M501.5 496v1M504.5 492v2M504.5 495v1M505.5 495v2M506.5 498v1M512.5 503v1M516.5 503v1M527.5 513v1M527.5 519v1M527.5 521v1M528.5 493v1M528.5 509v1M529.5 484v1M529.5 492v1M529.5 496v1M531.5 491v1M532.5 495v1M533.5 489v1M534.5 499v1M535.5 509v1M547.5 491v1M548.5 486v1M549.5 487v2M551.5 487v1M552.5 487v1M554.5 497v1M558.5 497v1M559.5 499v1M560.5 490v2M561.5 497v1M562.5 494v1M563.5 497v2M563.5 501v1M564.5 500v2M564.5 503v1M565.5 503v1M566.5 501v2M567.5 499v1M568.5 500v2M570.5 502v1M575.5 501v1M577.5 502v1M579.5 504v1M581.5 500v1M581.5 503v1M586.5 499v1M588.5 470v1M588.5 473v1M588.5 480v1M588.5 482v1M588.5 486v1M588.5 488v1M588.5 494v1M589.5 456v1M589.5 466v1M589.5 468v1M589.5 470v1M589.5 474v1M589.5 499v1M590.5 484v1M590.5 487v2M590.5 490v3M590.5 498v1M591.5 451v2M591.5 476v1M591.5 495v1M591.5 498v1M591.5 500v1M592.5 485v1M592.5 489v1M592.5 495v1M592.5 498v1M592.5 503v1M593.5 482v1M593.5 488v2M593.5 493v1M593.5 501v1M594.5 500v1M594.5 502v1M594.5 504v1M595.5 505v1M596.5 489v1M596.5 491v1M596.5 493v1M596.5 496v2M596.5 505v1M596.5 507v1M596.5 513v1M597.5 489v1M597.5 492v1M597.5 498v1M597.5 500v1M597.5 503v1M597.5 505v2M597.5 512v1M599.5 512v1M599.5 514v2M599.5 521v1M600.5 499v1M600.5 531v1M601.5 511v1M601.5 516v1M601.5 518v1M602.5 466v1M602.5 498v1M602.5 514v1M602.5 521v2M603.5 495v2M603.5 500v4M603.5 507v2M603.5 523v1M604.5 473v1M604.5 475v1M604.5 507v1M604.5 510v2M605.5 502v1M605.5 504v1M607.5 477v3M607.5 486v1M607.5 488v1M607.5 494v1M607.5 499v1M608.5 499v1M608.5 506v1M609.5 469v1M609.5 477v1M609.5 495v1M609.5 502v1M610.5 495v1M610.5 497v2M610.5 501v1M610.5 503v1M610.5 506v1M611.5 494v1M611.5 496v1M612.5 497v1M612.5 505v1M613.5 494v1M613.5 497v1M613.5 500v1M613.5 502v1M613.5 507v1M614.5 490v1M614.5 493v1M614.5 502v1M615.5 491v1M615.5 496v2M615.5 499v1M615.5 505v1M615.5 507v2M616.5 495v2M616.5 503v1M616.5 508v1M616.5 513v1M617.5 498v1M617.5 502v1M617.5 505v1M617.5 508v2M617.5 511v1M617.5 513v1M618.5 501v2M618.5 510v2M618.5 521v1M618.5 524v1M619.5 509v1M619.5 512v2M620.5 468v1M620.5 471v1M620.5 477v1M620.5 496v1M620.5 511v2M620.5 514v1M620.5 517v1M621.5 470v1M621.5 493v1M621.5 499v2M621.5 504v1M621.5 511v1M621.5 517v6M622.5 466v1M622.5 479v1M622.5 482v2M622.5 488v1M622.5 503v3M622.5 508v4M622.5 514v1M622.5 516v1M622.5 523v2M623.5 438v3M623.5 445v1M623.5 448v1M623.5 459v1M623.5 480v1M623.5 496v1M623.5 500v1M623.5 507v1M623.5 514v2M623.5 517v1M623.5 519v1M623.5 524v1M623.5 530v1M624.5 439v1M624.5 444v1M624.5 475v1M624.5 534v1M624.5 536v2M625.5 505v1M628.5 460v1M630.5 506v1M633.5 502v1M637.5 436v2M637.5 441v1M637.5 496v1M637.5 504v2M637.5 507v1M638.5 445v1M640.5 445v1M641.5 449v1M641.5 504v1M642.5 448v1M643.5 462v1M644.5 452v1M645.5 457v1M646.5 507v1M647.5 451v1M647.5 461v1M647.5 508v2M651.5 429v1M651.5 432v1M651.5 434v1M651.5 436v1M651.5 438v2M651.5 457v1M652.5 420v1M652.5 423v1M652.5 429v1M652.5 435v2M652.5 438v1M652.5 443v1M652.5 450v1M652.5 455v1M653.5 406v1M653.5 408v1M653.5 410v1M653.5 412v1M653.5 416v1M653.5 418v1M653.5 422v1M653.5 425v1M670.5 404v1M670.5 406v1M670.5 411v1M671.5 405v1M671.5 407v1M686.5 474v1M686.5 476v1M686.5 478v1M686.5 484v1M687.5 480v1M687.5 484v1M688.5 475v1M688.5 477v1M689.5 477v1M689.5 482v2M689.5 485v1M690.5 477v1M690.5 482v1M690.5 484v1M690.5 489v1M690.5 492v1M691.5 474v1M691.5 479v1M692.5 472v1M692.5 474v1M692.5 476v1M692.5 479v1M692.5 487v2M692.5 494v1M693.5 474v1M693.5 476v1M693.5 478v1M693.5 483v1M694.5 482v1M694.5 495v1M695.5 468v1M695.5 470v1M695.5 475v1M696.5 479v1M696.5 481v1M696.5 486v1M696.5 490v1M697.5 472v1M697.5 476v1M697.5 478v2M697.5 481v2M697.5 491v1M697.5 494v2M698.5 467v3M698.5 474v1M698.5 478v1M699.5 460v1M699.5 462v1M699.5 464v1M699.5 467v1M699.5 473v1M699.5 476v1M699.5 484v1"/>
<path stroke="#0014f0" d="M54.5 502v1M56.5 501v1M57.5 502v1M58.5 503v1M60.5 503v1M61.5 503v1M94.5 474v1M104.5 515v1M107.5 482v1M107.5 486v2M107.5 492v1M108.5 490v2M109.5 487v1M116.5 479v1M117.5 479v1M117.5 481v1M118.5 481v1M127.5 471v1M127.5 479v1M127.5 482v1M199.5 481v1M202.5 481v1M213.5 475v1M222.5 399v1M222.5 401v1M222.5 403v1M222.5 409v1M223.5 413v1M225.5 393v1M225.5 398v1M226.5 403v1M229.5 395v1M229.5 401v1M229.5 410v1M230.5 397v1M230.5 409v1M230.5 507v1M230.5 509v1M231.5 420v2M231.5 423v1M231.5 468v1M232.5 415v1M232.5 420v2M232.5 423v1M234.5 459v1M235.5 461v1M236.5 461v1M237.5 463v1M238.5 399v1M238.5 457v2M238.5 464v2M239.5 399v1M239.5 459v1M239.5 464v1M240.5 461v1M240.5 467v2M240.5 470v1M241.5 458v1M242.5 466v1M242.5 470v1M242.5 472v1M243.5 463v1M243.5 468v1M243.5 475v1M244.5 462v1M244.5 471v1M245.5 464v1M245.5 468v1M245.5 473v1M245.5 478v1M246.5 465v1M246.5 467v1M246.5 480v1M248.5 470v1M248.5 473v1M248.5 484v1M249.5 466v1M249.5 473v1M249.5 477v1M249.5 480v1M250.5 485v1M251.5 474v1M251.5 476v1M251.5 482v1M251.5 484v2M252.5 475v1M254.5 478v1M254.5 481v2M254.5 485v1M254.5 487v1M255.5 473v1M255.5 475v1M256.5 479v1M256.5 487v3M256.5 491v1M257.5 493v1M258.5 481v1M261.5 487v1M261.5 491v2M262.5 482v1M266.5 486v3M266.5 493v1M266.5 495v3M266.5 499v1M270.5 485v1M270.5 487v1M272.5 477v1M274.5 486v2M274.5 490v1M274.5 495v3M274.5 499v2M274.5 503v1M277.5 479v2M279.5 484v1M279.5 487v2M280.5 479v1M280.5 484v1M280.5 486v1M280.5 489v2M280.5 493v1M280.5 495v2M281.5 481v1M281.5 488v1M281.5 491v1M281.5 494v1M281.5 496v1M281.5 499v1M281.5 501v1M281.5 503v2M281.5 508v2M281.5 515v1M281.5 520v1M281.5 522v1M282.5 484v1M282.5 489v1M282.5 494v5M282.5 500v3M282.5 504v1M282.5 506v1M282.5 508v1M283.5 476v2M283.5 485v1M284.5 479v1M284.5 485v2M284.5 492v1M284.5 494v1M284.5 497v1M284.5 499v1M285.5 495v2M285.5 501v1M285.5 503v1M285.5 508v2M285.5 511v1M285.5 517v3M286.5 485v1M286.5 492v3M286.5 497v1M287.5 493v1M287.5 498v1M287.5 501v2M287.5 504v1M287.5 513v1M287.5 517v1M288.5 491v1M288.5 494v1M288.5 498v1M288.5 500v1M289.5 504v1M289.5 510v1M290.5 486v1M290.5 488v1M290.5 497v2M290.5 500v1M291.5 509v1M292.5 487v1M292.5 491v1M292.5 500v1M292.5 503v2M293.5 497v1M293.5 505v3M293.5 511v2M294.5 487v1M294.5 491v1M294.5 494v1M294.5 496v1M294.5 501v1M294.5 504v1M295.5 492v1M295.5 494v2M296.5 496v1M296.5 499v1M296.5 504v1M296.5 513v1M297.5 493v1M297.5 504v1M298.5 507v1M298.5 510v1M298.5 518v1M299.5 508v3M299.5 512v1M299.5 516v1M300.5 510v1M300.5 515v1M301.5 494v2M301.5 500v1M301.5 502v3M301.5 510v1M301.5 513v1M302.5 500v2M302.5 505v1M302.5 507v1M303.5 510v1M303.5 512v2M305.5 496v1M305.5 504v1M305.5 508v1M305.5 511v1M305.5 513v1M306.5 499v1M308.5 497v2M310.5 512v1M315.5 508v1M325.5 505v1M326.5 506v1M330.5 507v2M336.5 520v1M338.5 519v1M338.5 524v1M339.5 520v1M340.5 513v1M340.5 519v1M341.5 520v1M342.5 512v2M344.5 508v1M351.5 507v1M362.5 502v1M363.5 506v1M365.5 507v1M366.5 504v1M367.5 506v1M367.5 508v1M367.5 511v1M368.5 505v1M368.5 507v1M369.5 510v1M370.5 501v1M370.5 503v1M370.5 505v1M371.5 512v1M372.5 499v1M372.5 507v1M372.5 510v1M373.5 502v2M373.5 505v1M373.5 508v1M373.5 510v1M374.5 508v1M374.5 514v1M375.5 499v1M376.5 518v1M377.5 505v1M378.5 499v1M378.5 502v2M378.5 505v1M378.5 511v2M379.5 509v1M379.5 513v1M379.5 516v1M380.5 506v1M380.5 511v2M380.5 516v1M381.5 502v1M381.5 504v1M381.5 513v1M382.5 510v1M384.5 498v1M384.5 503v1M385.5 501v2M386.5 501v1M386.5 504v1M386.5 508v1M386.5 510v1M387.5 503v2M387.5 507v2M388.5 498v1M388.5 502v1M388.5 508v1M389.5 500v1M390.5 501v1M390.5 503v1M390.5 511v1M391.5 500v1M391.5 506v1M394.5 504v1M394.5 507v1M395.5 504v2M397.5 495v1M402.5 499v1M402.5 501v1M405.5 499v1M405.5 501v1M405.5 504v1M406.5 507v1M410.5 504v1M410.5 506v3M411.5 538v1M415.5 504v1M416.5 502v1M416.5 506v3M419.5 502v1M419.5 504v1M420.5 506v1M421.5 502v1M422.5 499v1M423.5 492v1M423.5 499v1M424.5 507v1M425.5 493v1M425.5 505v1M425.5 508v1M426.5 488v1M427.5 505v1M428.5 506v1M429.5 491v1M429.5 494v2M429.5 499v1M429.5 501v1M430.5 491v1M430.5 493v1M430.5 503v1M432.5 490v1M432.5 504v1M432.5 509v1M433.5 494v1M433.5 498v2M433.5 501v3M433.5 506v1M434.5 495v1M434.5 504v1M435.5 497v1M435.5 500v1M435.5 503v2M435.5 506v1M436.5 499v1M437.5 501v1M438.5 494v1M438.5 500v1M438.5 502v1M438.5 504v1M439.5 499v1M439.5 503v2M439.5 507v1M440.5 491v1M440.5 494v1M440.5 501v1M440.5 503v1M441.5 493v1M441.5 499v1M441.5 503v1M441.5 505v2M441.5 508v1M442.5 504v1M442.5 507v1M444.5 492v2M444.5 502v1M445.5 496v1M445.5 504v1M445.5 506v1M445.5 508v1M448.5 504v2M449.5 504v2M450.5 506v1M451.5 503v1M451.5 506v1M455.5 507v1M457.5 507v1M459.5 501v1M460.5 504v1M460.5 518v1M461.5 508v1M461.5 514v1M461.5 518v1M462.5 498v1M462.5 503v1M463.5 501v1M463.5 505v1M464.5 497v2M464.5 503v1M464.5 505v1M465.5 500v1M466.5 502v1M466.5 507v2M467.5 506v1M468.5 501v1M468.5 507v1M469.5 502v1M469.5 520v1M470.5 520v1M473.5 507v1M474.5 506v1M478.5 505v1M481.5 506v1M484.5 511v1M485.5 503v1M485.5 506v1M487.5 503v1M488.5 506v1M491.5 477v1M492.5 499v1M492.5 514v1M493.5 488v1M493.5 497v1M493.5 504v1M495.5 498v1M495.5 502v1M496.5 492v1M496.5 505v1M496.5 507v1M497.5 495v1M497.5 506v1M497.5 509v1M498.5 490v1M498.5 504v1M499.5 489v1M502.5 495v1M502.5 497v1M503.5 496v1M504.5 496v1M505.5 497v2M507.5 491v1M514.5 502v1M527.5 497v1M527.5 506v1M527.5 508v1M527.5 511v2M527.5 514v1M527.5 520v1M528.5 496v1M528.5 507v2M528.5 515v1M529.5 494v1M529.5 497v1M530.5 488v1M530.5 495v2M531.5 490v1M531.5 495v1M531.5 497v1M531.5 499v1M533.5 493v1M548.5 485v1M550.5 487v1M550.5 491v1M551.5 488v1M556.5 497v1M557.5 497v1M559.5 494v1M559.5 496v1M560.5 497v1M562.5 492v1M563.5 493v1M569.5 499v1M570.5 507v1M571.5 538v1M575.5 499v1M578.5 538v1M581.5 499v1M581.5 501v2M582.5 498v1M582.5 500v1M583.5 502v1M585.5 496v1M585.5 499v1M586.5 491v2M586.5 494v1M586.5 503v1M587.5 495v1M587.5 502v1M588.5 471v2M588.5 478v1M588.5 481v1M588.5 484v1M588.5 492v2M589.5 459v1M589.5 492v1M589.5 494v1M589.5 496v1M589.5 500v1M590.5 452v3M590.5 457v1M590.5 481v2M590.5 495v2M591.5 469v1M591.5 471v1M591.5 496v2M592.5 480v1M592.5 482v1M592.5 486v2M592.5 496v1M593.5 491v2M593.5 494v1M593.5 500v1M594.5 495v1M594.5 499v1M594.5 503v1M596.5 487v2M596.5 502v1M597.5 486v1M597.5 488v1M597.5 490v1M597.5 494v1M597.5 496v1M597.5 499v1M598.5 497v1M598.5 504v1M598.5 515v2M598.5 519v1M598.5 523v2M599.5 503v1M599.5 513v1M599.5 519v1M600.5 495v3M600.5 514v1M600.5 525v3M601.5 495v1M601.5 503v1M601.5 505v1M601.5 509v1M601.5 513v3M602.5 463v2M602.5 506v1M602.5 512v2M602.5 516v1M602.5 520v1M602.5 523v1M602.5 525v1M603.5 494v1M603.5 504v2M603.5 509v2M603.5 512v4M603.5 518v1M603.5 521v1M604.5 477v1M604.5 479v1M604.5 481v2M604.5 505v1M605.5 472v1M605.5 474v1M605.5 500v1M605.5 505v1M605.5 511v1M605.5 514v3M605.5 518v1M606.5 490v1M606.5 494v1M606.5 496v2M606.5 506v1M607.5 469v1M607.5 472v1M607.5 474v1M607.5 491v3M607.5 504v2M608.5 467v1M608.5 485v1M608.5 492v1M609.5 474v1M609.5 478v1M609.5 481v2M609.5 491v1M610.5 486v2M610.5 492v2M610.5 499v1M610.5 502v1M611.5 492v1M611.5 500v2M611.5 506v1M612.5 490v1M612.5 499v2M612.5 502v1M614.5 491v1M614.5 494v1M614.5 501v1M615.5 502v3M615.5 506v1M616.5 490v1M616.5 493v1M616.5 502v1M617.5 500v1M617.5 506v2M618.5 504v3M618.5 508v2M618.5 512v1M618.5 516v2M619.5 492v1M619.5 505v1M619.5 507v1M619.5 510v1M619.5 514v2M620.5 472v1M620.5 505v1M620.5 508v2M620.5 513v1M620.5 516v1M620.5 518v1M621.5 497v1M621.5 509v1M621.5 512v3M621.5 529v1M621.5 531v2M621.5 534v1M621.5 537v1M622.5 481v1M622.5 506v1M623.5 441v1M623.5 443v1M623.5 501v2M623.5 506v1M623.5 509v1M623.5 516v1M623.5 518v1M623.5 521v1M623.5 527v2M623.5 531v1M624.5 442v1M624.5 450v3M624.5 466v1M624.5 470v1M624.5 522v1M624.5 525v1M624.5 528v2M624.5 531v1M624.5 535v1M625.5 474v1M625.5 499v1M625.5 501v2M625.5 512v1M625.5 514v2M630.5 505v1M632.5 501v1M632.5 505v1M633.5 493v1M636.5 499v1M637.5 443v2M637.5 446v1M638.5 438v1M638.5 450v1M639.5 448v1M640.5 448v1M640.5 450v1M640.5 452v1M640.5 454v1M641.5 452v1M642.5 447v1M642.5 449v1M642.5 457v1M643.5 448v1M643.5 450v4M643.5 461v1M644.5 453v1M645.5 449v2M645.5 466v1M646.5 443v1M647.5 447v1M647.5 449v1M647.5 464v1M647.5 466v1M648.5 449v1M648.5 508v2M649.5 454v1M650.5 444v1M651.5 428v1M651.5 433v1M651.5 447v1M651.5 452v2M652.5 407v2M652.5 410v1M652.5 415v1M652.5 432v1M652.5 439v1M652.5 446v1M653.5 405v1M653.5 413v1M653.5 420v1M653.5 427v1M670.5 403v1M670.5 408v1M670.5 418v1M671.5 409v1M671.5 411v2M686.5 479v4M687.5 475v1M687.5 481v1M687.5 485v1M688.5 471v1M688.5 474v1M689.5 479v2M690.5 478v1M690.5 483v1M690.5 485v1M690.5 491v1M692.5 471v1M692.5 477v1M692.5 483v1M692.5 490v1M693.5 473v1M693.5 479v3M693.5 484v2M694.5 478v3M694.5 487v1M694.5 489v1M694.5 491v1M694.5 493v1M694.5 499v2M696.5 476v1M696.5 478v1M697.5 471v1M697.5 477v1M697.5 486v1M698.5 473v1M699.5 461v1M699.5 475v1M699.5 477v1"/>
<path stroke="#0033d9" d="M56.5 505v1M60.5 506v1M77.5 513v1M84.5 491v1M84.5 497v1M85.5 497v1M89.5 488v1M90.5 491v1M90.5 494v1M91.5 500v1M93.5 490v1M93.5 493v1M93.5 495v1M94.5 475v1M109.5 485v1M110.5 486v1M110.5 491v1M112.5 512v1M113.5 511v1M116.5 480v1M124.5 508v1M127.5 470v1M127.5 472v1M127.5 485v2M152.5 511v1M166.5 509v1M175.5 487v2M177.5 490v2M179.5 491v1M180.5 491v1M184.5 486v1M185.5 484v1M187.5 486v1M190.5 479v1M191.5 482v1M192.5 484v1M200.5 476v1M200.5 480v1M200.5 482v1M202.5 478v1M213.5 476v1M223.5 415v2M223.5 470v1M226.5 408v1M228.5 390v1M228.5 397v1M228.5 399v2M229.5 393v1M229.5 400v1M229.5 402v2M229.5 407v2M229.5 412v1M229.5 415v1M230.5 394v1M230.5 396v1M230.5 399v1M230.5 402v1M230.5 405v1M230.5 412v1M230.5 415v1M230.5 508v1M231.5 413v1M231.5 426v2M231.5 466v1M232.5 410v1M232.5 413v1M232.5 418v1M234.5 457v1M235.5 459v2M237.5 456v1M237.5 458v2M238.5 459v2M238.5 462v1M239.5 404v1M239.5 465v2M240.5 462v1M241.5 456v2M242.5 465v1M242.5 467v1M243.5 464v2M243.5 472v1M243.5 477v1M244.5 467v1M244.5 469v2M244.5 473v2M245.5 471v1M245.5 474v2M246.5 469v1M246.5 471v1M246.5 473v1M246.5 476v1M247.5 464v1M247.5 466v5M247.5 473v2M247.5 480v1M248.5 469v1M248.5 474v1M248.5 479v2M248.5 485v1M249.5 462v1M249.5 464v1M250.5 477v1M250.5 481v2M251.5 467v1M251.5 469v1M251.5 478v1M251.5 480v1M252.5 472v2M252.5 481v2M252.5 485v3M253.5 479v1M253.5 483v1M253.5 486v1M253.5 488v1M254.5 484v1M255.5 472v1M256.5 481v1M256.5 485v1M257.5 484v1M257.5 496v1M258.5 473v1M258.5 489v2M261.5 481v1M266.5 480v1M266.5 484v1M266.5 489v2M267.5 482v1M270.5 482v1M270.5 488v1M271.5 479v1M274.5 485v1M274.5 491v1M278.5 476v1M280.5 483v1M280.5 487v1M281.5 484v1M281.5 493v1M281.5 500v1M281.5 502v1M281.5 505v1M281.5 512v1M281.5 519v1M282.5 480v2M282.5 483v1M282.5 486v1M282.5 488v1M282.5 490v1M282.5 492v1M282.5 499v1M283.5 478v3M283.5 482v1M283.5 486v1M283.5 489v1M284.5 478v1M284.5 480v1M284.5 482v3M284.5 487v1M285.5 479v1M285.5 485v2M285.5 489v2M285.5 492v1M285.5 497v1M285.5 504v1M285.5 506v1M285.5 514v1M286.5 480v1M286.5 482v3M286.5 486v1M287.5 485v1M287.5 508v1M287.5 512v1M287.5 516v1M288.5 487v2M288.5 492v1M288.5 495v1M288.5 497v1M288.5 499v1M288.5 501v2M288.5 504v1M288.5 506v1M288.5 510v1M289.5 484v2M289.5 489v1M289.5 491v1M289.5 495v1M289.5 499v1M290.5 483v3M290.5 487v1M290.5 491v2M290.5 494v1M290.5 501v1M291.5 490v1M291.5 493v1M291.5 498v2M291.5 503v1M291.5 506v1M291.5 508v1M291.5 511v1M292.5 484v1M292.5 488v1M292.5 502v1M293.5 495v1M293.5 498v1M293.5 509v1M294.5 485v1M294.5 493v1M294.5 497v1M295.5 489v3M295.5 498v4M295.5 503v1M295.5 505v1M296.5 495v1M296.5 497v2M296.5 500v4M296.5 505v1M296.5 512v1M297.5 492v1M297.5 494v2M297.5 499v1M297.5 502v1M297.5 510v1M297.5 514v2M298.5 503v3M298.5 513v1M299.5 503v1M299.5 506v1M299.5 513v1M300.5 509v1M300.5 511v1M301.5 498v2M301.5 501v1M301.5 505v2M302.5 513v1M303.5 501v2M304.5 515v1M305.5 494v1M305.5 505v1M305.5 512v1M308.5 501v1M308.5 509v2M308.5 513v1M310.5 490v1M310.5 492v1M310.5 495v2M310.5 511v1M316.5 508v1M322.5 505v1M323.5 507v1M324.5 506v1M325.5 503v1M327.5 506v1M328.5 505v1M331.5 509v1M336.5 516v1M336.5 521v1M336.5 523v1M337.5 516v1M338.5 512v1M338.5 518v1M338.5 521v2M340.5 517v1M341.5 519v1M353.5 506v1M363.5 505v1M364.5 502v1M366.5 503v1M366.5 507v1M369.5 502v1M369.5 506v1M370.5 500v1M370.5 507v2M371.5 509v2M373.5 506v1M374.5 499v1M374.5 501v1M374.5 509v1M375.5 500v1M375.5 502v1M376.5 504v2M376.5 510v3M377.5 499v1M378.5 500v1M378.5 506v1M379.5 503v1M379.5 511v1M379.5 515v1M380.5 498v1M380.5 500v2M380.5 503v3M381.5 503v1M381.5 505v1M381.5 514v1M382.5 516v1M383.5 504v2M383.5 507v1M383.5 511v1M383.5 513v3M384.5 499v2M385.5 498v1M385.5 503v2M387.5 502v1M387.5 509v2M389.5 506v1M390.5 506v1M390.5 509v1M391.5 499v1M391.5 501v3M392.5 502v1M392.5 506v1M393.5 498v1M393.5 500v1M394.5 501v1M394.5 505v1M394.5 509v2M395.5 499v1M395.5 501v2M396.5 501v1M397.5 494v1M405.5 498v1M405.5 500v1M406.5 505v1M407.5 497v1M407.5 500v1M407.5 502v1M410.5 502v2M416.5 503v1M418.5 502v1M419.5 496v1M419.5 498v1M419.5 506v1M420.5 500v1M421.5 499v1M422.5 501v1M422.5 506v1M423.5 504v2M424.5 502v2M424.5 505v1M425.5 486v1M425.5 492v1M425.5 498v1M425.5 506v2M426.5 489v1M426.5 492v1M426.5 498v1M426.5 504v1M426.5 508v1M427.5 501v1M428.5 502v1M429.5 500v1M429.5 503v2M430.5 492v1M431.5 493v1M431.5 496v1M431.5 502v1M431.5 505v1M431.5 507v1M432.5 491v1M432.5 505v1M434.5 500v1M435.5 495v1M436.5 505v1M438.5 498v2M440.5 492v2M440.5 497v1M440.5 499v1M440.5 504v1M440.5 508v2M441.5 501v1M441.5 504v1M441.5 507v1M442.5 495v1M442.5 499v2M442.5 503v1M442.5 505v1M443.5 498v2M443.5 503v2M445.5 502v1M448.5 502v1M449.5 503v1M450.5 505v1M450.5 507v1M453.5 503v1M453.5 508v1M455.5 500v1M455.5 503v3M456.5 503v2M456.5 506v1M456.5 508v1M457.5 501v1M458.5 500v1M460.5 516v2M461.5 505v1M461.5 513v1M461.5 517v1M462.5 500v1M462.5 502v1M464.5 499v1M466.5 504v2M467.5 500v1M467.5 503v1M468.5 504v2M469.5 500v1M474.5 528v1M475.5 505v2M476.5 506v2M476.5 528v1M481.5 505v1M483.5 506v1M485.5 501v1M486.5 499v1M486.5 502v1M487.5 508v1M488.5 495v1M489.5 505v1M489.5 514v1M490.5 495v1M491.5 491v1M491.5 502v1M491.5 509v1M492.5 495v1M492.5 502v1M492.5 505v1M493.5 486v1M493.5 493v2M494.5 520v1M495.5 493v1M495.5 499v1M495.5 501v1M496.5 499v1M496.5 503v1M497.5 490v1M497.5 504v1M498.5 489v1M498.5 500v1M498.5 502v1M499.5 493v1M500.5 472v1M500.5 488v1M500.5 492v1M501.5 485v2M502.5 471v1M502.5 475v1M504.5 499v1M513.5 495v1M515.5 502v1M525.5 503v1M527.5 507v1M527.5 510v1M528.5 497v1M528.5 512v1M529.5 490v1M529.5 495v1M530.5 489v2M530.5 492v1M530.5 497v1M531.5 496v1M532.5 483v1M532.5 489v2M532.5 499v1M533.5 496v2M534.5 500v1M535.5 506v1M535.5 511v1M538.5 501v1M546.5 486v1M547.5 485v1M547.5 488v1M549.5 484v3M551.5 490v2M551.5 493v1M552.5 488v2M554.5 489v2M554.5 492v1M555.5 488v2M556.5 494v1M556.5 496v1M557.5 499v1M558.5 492v3M558.5 496v1M559.5 497v1M560.5 493v1M561.5 495v1M565.5 501v1M567.5 498v1M570.5 503v1M571.5 505v1M572.5 538v1M573.5 501v1M573.5 506v1M575.5 506v1M576.5 503v1M576.5 507v1M577.5 501v1M578.5 502v1M580.5 503v1M580.5 505v1M580.5 538v1M581.5 495v1M581.5 497v1M582.5 495v1M582.5 501v1M583.5 496v1M584.5 496v1M585.5 497v1M585.5 500v2M586.5 486v1M586.5 496v1M587.5 498v1M587.5 500v1M588.5 464v1M588.5 483v1M588.5 487v1M589.5 454v1M589.5 457v1M589.5 460v1M589.5 462v1M589.5 467v1M589.5 471v1M589.5 473v1M589.5 477v1M589.5 480v1M589.5 486v1M589.5 488v1M589.5 490v1M590.5 450v1M590.5 468v1M590.5 473v1M590.5 485v1M590.5 489v1M591.5 453v1M591.5 470v1M591.5 492v1M591.5 494v1M592.5 467v1M592.5 469v1M592.5 481v1M593.5 481v1M593.5 497v1M594.5 481v1M594.5 491v1M595.5 501v3M596.5 494v2M596.5 506v1M598.5 505v1M598.5 513v2M598.5 518v1M598.5 520v3M599.5 501v1M599.5 505v2M599.5 508v3M599.5 518v1M599.5 520v1M600.5 508v1M600.5 512v1M600.5 516v1M600.5 520v5M600.5 528v1M600.5 530v1M601.5 463v2M601.5 488v1M601.5 507v1M601.5 510v1M601.5 512v1M601.5 517v1M601.5 519v1M602.5 465v1M602.5 504v1M602.5 518v2M602.5 526v1M603.5 511v1M604.5 468v1M604.5 478v1M605.5 496v1M605.5 498v1M605.5 510v1M605.5 513v1M606.5 467v1M606.5 477v1M606.5 479v2M606.5 489v1M606.5 491v1M606.5 495v1M606.5 499v1M606.5 501v1M607.5 468v1M607.5 487v1M607.5 497v1M608.5 471v1M608.5 490v2M608.5 498v1M608.5 501v1M609.5 471v3M609.5 480v1M609.5 486v2M609.5 490v1M609.5 493v2M610.5 488v1M610.5 490v1M610.5 496v1M611.5 491v1M611.5 495v1M611.5 497v1M611.5 504v1M611.5 507v2M612.5 489v1M612.5 491v2M612.5 495v1M613.5 490v1M613.5 492v2M613.5 495v1M614.5 489v1M615.5 498v1M616.5 492v1M616.5 498v1M616.5 506v1M617.5 493v1M617.5 495v3M617.5 499v1M618.5 493v1M618.5 496v1M618.5 498v1M618.5 503v1M618.5 518v1M619.5 497v1M620.5 469v2M620.5 475v1M620.5 479v1M620.5 497v1M620.5 501v1M620.5 515v1M620.5 519v1M621.5 465v1M621.5 494v1M621.5 496v1M621.5 505v2M621.5 508v1M621.5 510v1M622.5 465v1M622.5 471v1M622.5 474v1M622.5 484v1M622.5 490v1M622.5 499v1M622.5 521v1M623.5 452v1M623.5 471v1M623.5 475v2M623.5 487v1M623.5 498v2M623.5 505v1M623.5 508v1M623.5 512v1M624.5 441v1M624.5 465v1M624.5 467v1M624.5 512v1M624.5 514v1M624.5 517v3M624.5 523v2M624.5 526v1M624.5 532v1M625.5 472v1M626.5 461v1M626.5 464v1M627.5 466v1M630.5 502v1M632.5 491v1M633.5 499v1M633.5 504v1M633.5 506v1M635.5 506v1M635.5 510v1M637.5 499v1M637.5 506v1M638.5 442v2M638.5 451v1M638.5 453v1M639.5 449v1M639.5 451v1M640.5 446v1M642.5 450v1M642.5 456v1M642.5 460v1M643.5 470v1M644.5 457v1M645.5 447v2M645.5 454v1M645.5 464v1M645.5 471v1M646.5 447v1M646.5 508v1M647.5 455v2M647.5 458v1M647.5 465v1M648.5 506v1M649.5 458v1M649.5 461v1M650.5 448v1M650.5 460v1M651.5 431v1M651.5 437v1M651.5 442v1M651.5 446v1M651.5 448v2M651.5 451v1M651.5 455v1M651.5 459v1M652.5 406v1M652.5 409v1M652.5 411v1M652.5 418v1M652.5 427v1M652.5 441v1M652.5 445v1M653.5 415v1M653.5 423v1M670.5 405v1M670.5 407v1M671.5 404v1M686.5 420v1M686.5 425v1M687.5 473v1M689.5 473v1M690.5 474v1M692.5 473v1M692.5 475v1M692.5 481v2M692.5 484v1M694.5 468v1M694.5 481v1M694.5 484v1M694.5 488v1M694.5 492v1M694.5 494v1M694.5 496v1M696.5 471v2M696.5 474v1M696.5 480v1M696.5 482v1M696.5 488v2M696.5 493v1M697.5 466v2M697.5 475v1M697.5 480v1M697.5 484v1M698.5 466v1M698.5 470v1M699.5 463v1M699.5 465v2M699.5 468v1"/>
<path stroke="#0053c2" d="M57.5 501v1M61.5 502v1M64.5 502v1M66.5 509v1M72.5 513v1M73.5 511v1M73.5 513v1M85.5 471v1M85.5 489v1M86.5 499v1M87.5 489v1M87.5 492v1M87.5 495v1M88.5 489v1M90.5 489v1M90.5 505v1M93.5 499v1M94.5 473v1M95.5 459v2M95.5 480v1M95.5 488v1M96.5 462v1M96.5 468v1M97.5 513v2M107.5 479v2M107.5 491v1M108.5 488v1M109.5 486v1M110.5 499v1M117.5 478v1M127.5 468v1M127.5 478v1M127.5 480v1M127.5 487v2M156.5 470v1M156.5 474v1M175.5 486v1M176.5 488v1M184.5 485v1M190.5 480v1M191.5 484v1M192.5 478v2M192.5 481v2M194.5 482v1M200.5 473v1M210.5 473v1M210.5 475v1M214.5 472v1M216.5 470v1M218.5 474v2M222.5 398v1M222.5 402v1M222.5 407v1M223.5 411v2M223.5 449v1M223.5 469v1M223.5 473v1M224.5 450v1M226.5 410v1M226.5 447v1M227.5 400v1M229.5 383v4M229.5 404v1M230.5 406v1M231.5 419v1M231.5 467v1M232.5 419v1M232.5 424v3M232.5 467v2M234.5 456v1M235.5 457v2M237.5 460v3M237.5 464v1M238.5 404v1M238.5 455v1M239.5 401v2M239.5 458v1M239.5 461v1M240.5 457v2M240.5 460v1M240.5 465v1M240.5 469v1M242.5 459v1M242.5 463v2M243.5 462v1M243.5 466v2M243.5 470v2M244.5 468v1M245.5 462v1M245.5 470v1M246.5 464v1M246.5 468v1M246.5 470v1M246.5 478v1M247.5 460v1M247.5 471v2M247.5 477v1M248.5 460v6M248.5 468v1M248.5 472v1M248.5 477v1M249.5 463v1M249.5 469v1M249.5 474v1M250.5 472v2M250.5 479v1M250.5 484v1M252.5 470v2M252.5 474v1M252.5 480v1M253.5 482v1M253.5 484v2M253.5 487v1M253.5 489v2M254.5 474v1M255.5 480v1M255.5 486v1M256.5 476v2M256.5 480v1M256.5 483v1M256.5 486v1M257.5 482v1M257.5 488v2M257.5 492v1M257.5 495v1M258.5 472v1M258.5 475v1M258.5 477v1M258.5 482v1M259.5 482v1M262.5 483v1M264.5 480v1M266.5 478v2M266.5 483v1M266.5 485v1M269.5 481v1M272.5 476v1M273.5 475v2M274.5 482v3M279.5 483v1M280.5 477v1M280.5 480v2M280.5 485v1M281.5 487v1M281.5 489v1M281.5 492v1M281.5 495v1M281.5 497v2M282.5 477v1M282.5 479v1M282.5 485v1M283.5 481v1M283.5 484v1M283.5 488v1M284.5 481v1M285.5 476v1M285.5 481v1M285.5 484v1M285.5 493v2M286.5 516v1M287.5 480v1M287.5 484v1M287.5 486v1M287.5 500v1M287.5 503v1M288.5 485v2M288.5 503v1M289.5 481v3M289.5 486v1M289.5 490v1M289.5 497v1M290.5 482v1M290.5 496v1M291.5 487v1M291.5 489v1M292.5 501v1M293.5 490v1M293.5 499v1M294.5 486v1M295.5 487v1M295.5 493v1M295.5 508v1M295.5 511v2M296.5 489v1M296.5 491v1M296.5 494v1M298.5 496v1M298.5 499v1M298.5 506v1M299.5 500v3M299.5 504v1M299.5 507v1M299.5 515v1M300.5 494v1M300.5 498v1M300.5 501v1M300.5 506v1M300.5 512v1M300.5 514v1M301.5 496v2M302.5 506v1M303.5 504v1M303.5 511v1M304.5 496v1M304.5 514v1M305.5 495v1M305.5 500v3M306.5 498v1M306.5 500v1M306.5 513v1M306.5 515v1M308.5 502v1M308.5 506v1M308.5 508v1M309.5 510v1M309.5 512v3M310.5 494v1M310.5 501v1M310.5 516v1M315.5 506v1M316.5 507v1M320.5 507v1M321.5 504v2M326.5 503v1M327.5 507v1M329.5 506v1M331.5 508v1M333.5 511v2M334.5 506v1M334.5 508v1M335.5 509v1M335.5 511v1M337.5 515v1M337.5 518v1M337.5 520v1M338.5 511v1M338.5 515v1M341.5 515v2M345.5 506v1M346.5 506v2M349.5 507v1M351.5 506v1M352.5 506v1M354.5 506v1M359.5 506v1M361.5 503v2M363.5 503v1M365.5 501v1M365.5 505v1M366.5 505v2M367.5 504v1M368.5 501v1M369.5 503v2M371.5 506v2M371.5 514v2M372.5 498v1M372.5 501v2M374.5 500v1M374.5 502v1M374.5 506v2M375.5 501v1M376.5 499v1M376.5 503v1M376.5 509v1M376.5 513v2M377.5 498v1M377.5 500v1M377.5 503v1M378.5 498v1M378.5 501v1M379.5 506v1M381.5 500v2M381.5 506v1M382.5 505v1M382.5 511v1M382.5 513v1M383.5 509v2M383.5 517v1M385.5 500v1M386.5 498v1M386.5 503v1M386.5 505v1M387.5 499v1M388.5 499v1M389.5 502v1M389.5 504v2M390.5 499v2M390.5 504v1M391.5 498v1M392.5 505v1M392.5 507v1M393.5 504v1M394.5 503v1M394.5 506v1M396.5 498v1M396.5 502v1M405.5 495v1M406.5 508v1M407.5 496v1M413.5 507v2M415.5 503v1M415.5 507v1M416.5 498v1M416.5 500v1M418.5 501v1M418.5 505v2M419.5 505v1M421.5 493v3M421.5 505v1M422.5 507v1M423.5 494v1M423.5 496v1M423.5 501v1M424.5 495v2M424.5 499v1M424.5 504v1M424.5 506v1M425.5 487v1M425.5 494v1M425.5 496v1M425.5 499v1M425.5 503v2M426.5 485v2M426.5 500v1M426.5 502v1M427.5 498v2M427.5 506v1M428.5 500v1M428.5 504v1M429.5 502v1M431.5 491v2M431.5 494v1M431.5 504v1M432.5 487v1M432.5 493v1M432.5 496v1M432.5 498v1M432.5 507v1M433.5 491v1M433.5 496v2M435.5 490v1M435.5 492v1M435.5 498v1M435.5 501v1M436.5 502v2M437.5 495v1M440.5 498v1M440.5 502v1M440.5 505v2M441.5 492v1M441.5 494v1M441.5 497v1M443.5 502v1M445.5 495v1M445.5 498v4M445.5 505v1M450.5 503v2M450.5 508v1M451.5 502v1M451.5 505v1M451.5 507v1M453.5 501v1M453.5 504v1M453.5 506v2M455.5 501v1M456.5 502v1M458.5 507v1M460.5 515v1M461.5 504v1M461.5 507v1M463.5 506v1M464.5 501v1M464.5 506v2M466.5 503v1M467.5 497v1M467.5 499v1M467.5 501v1M468.5 503v1M468.5 506v1M469.5 521v1M469.5 524v1M469.5 527v1M473.5 520v1M475.5 523v1M484.5 503v2M485.5 504v1M486.5 505v1M486.5 508v1M487.5 497v1M488.5 502v1M490.5 484v3M490.5 497v1M490.5 501v1M491.5 483v1M491.5 486v1M491.5 495v1M491.5 503v1M491.5 507v2M491.5 510v2M491.5 513v1M492.5 503v1M494.5 500v1M494.5 513v1M494.5 515v1M494.5 519v1M495.5 491v2M495.5 505v1M495.5 510v1M497.5 492v1M497.5 497v1M497.5 500v1M498.5 486v1M498.5 492v1M498.5 499v1M500.5 493v1M500.5 496v1M501.5 470v1M501.5 487v1M501.5 494v2M503.5 494v1M504.5 491v1M504.5 498v1M507.5 493v1M509.5 495v1M510.5 500v1M511.5 502v1M513.5 501v1M516.5 496v1M521.5 503v1M526.5 503v1M527.5 498v1M527.5 504v1M528.5 506v1M529.5 499v1M531.5 485v2M531.5 492v1M531.5 498v1M532.5 498v1M535.5 500v1M541.5 505v1M544.5 501v1M547.5 483v1M548.5 483v1M550.5 485v1M550.5 488v1M551.5 486v1M554.5 488v1M554.5 491v1M555.5 486v1M555.5 493v3M557.5 494v3M558.5 489v1M559.5 495v1M561.5 498v1M562.5 495v1M563.5 495v2M565.5 504v1M571.5 502v2M571.5 506v2M573.5 502v1M577.5 505v1M578.5 504v1M579.5 501v1M579.5 503v1M579.5 538v1M581.5 498v1M582.5 499v1M582.5 502v2M583.5 498v1M584.5 493v1M584.5 499v4M585.5 494v1M586.5 495v1M586.5 497v1M587.5 496v1M587.5 499v1M588.5 465v1M588.5 474v1M588.5 485v1M589.5 469v1M589.5 482v1M589.5 485v1M589.5 493v1M590.5 456v1M590.5 477v2M590.5 483v1M591.5 450v1M591.5 456v1M591.5 484v2M591.5 489v1M591.5 493v1M592.5 471v1M592.5 473v1M592.5 499v1M593.5 480v1M593.5 483v1M594.5 484v2M594.5 487v2M594.5 490v1M594.5 494v1M595.5 495v2M595.5 498v3M596.5 485v2M596.5 490v1M597.5 487v1M598.5 494v2M598.5 499v1M598.5 509v1M598.5 511v1M598.5 517v1M599.5 494v1M599.5 496v1M599.5 500v1M599.5 504v1M599.5 511v1M600.5 503v1M600.5 509v3M600.5 517v2M601.5 500v1M601.5 502v1M601.5 508v1M602.5 490v1M602.5 495v1M602.5 501v1M602.5 503v1M602.5 505v1M602.5 507v4M602.5 515v1M602.5 517v1M603.5 506v1M604.5 499v1M604.5 501v1M605.5 479v1M605.5 495v1M605.5 508v1M605.5 517v1M606.5 464v1M606.5 472v1M606.5 482v1M606.5 487v1M607.5 470v1M607.5 496v1M608.5 463v1M608.5 488v1M608.5 497v1M609.5 468v1M611.5 490v1M611.5 493v1M611.5 502v1M611.5 505v1M613.5 488v1M613.5 491v1M613.5 503v1M615.5 495v1M615.5 500v2M616.5 489v1M616.5 494v1M618.5 499v1M619.5 493v1M619.5 496v1M619.5 499v4M619.5 508v1M620.5 464v1M620.5 476v1M620.5 495v1M620.5 498v2M620.5 504v1M620.5 506v1M620.5 510v1M621.5 478v1M621.5 498v1M621.5 503v1M621.5 507v1M622.5 464v1M622.5 486v1M622.5 489v1M622.5 492v1M622.5 496v3M623.5 468v1M623.5 474v1M623.5 479v1M623.5 485v1M623.5 495v1M623.5 504v1M624.5 463v1M624.5 504v2M624.5 511v1M624.5 516v1M624.5 527v1M625.5 508v1M625.5 511v1M625.5 516v1M626.5 462v1M626.5 488v1M628.5 464v1M629.5 503v1M632.5 499v1M632.5 507v1M634.5 507v1M634.5 509v1M635.5 496v1M635.5 499v1M635.5 505v1M635.5 509v1M637.5 435v1M637.5 440v1M638.5 435v2M638.5 440v1M639.5 450v1M639.5 453v1M639.5 455v3M640.5 444v1M640.5 451v1M641.5 455v1M641.5 457v1M642.5 444v1M642.5 452v1M643.5 457v1M643.5 460v1M643.5 463v1M643.5 466v1M643.5 471v1M643.5 506v2M644.5 447v3M644.5 459v1M646.5 452v1M646.5 506v1M647.5 448v1M647.5 460v1M647.5 468v1M648.5 452v1M648.5 462v1M648.5 467v2M648.5 507v1M649.5 466v1M650.5 449v1M650.5 453v1M650.5 461v1M650.5 465v3M651.5 430v1M651.5 440v1M651.5 443v2M651.5 454v1M652.5 405v1M652.5 422v1M652.5 426v1M652.5 431v1M652.5 433v1M652.5 437v1M652.5 440v1M652.5 444v1M652.5 449v1M652.5 453v2M653.5 419v1M670.5 402v1M670.5 409v1M670.5 416v2M671.5 408v1M671.5 410v1M686.5 473v1M686.5 475v1M687.5 471v1M687.5 474v1M687.5 476v1M687.5 479v1M687.5 483v1M690.5 475v2M690.5 479v2M692.5 478v1M693.5 471v2M694.5 470v2M694.5 473v1M694.5 475v2M694.5 483v1M694.5 486v1M696.5 467v2M696.5 475v1M696.5 484v2"/>
<path stroke="#0072ab" d="M54.5 504v1M62.5 503v1M65.5 508v1M66.5 501v1M66.5 508v1M69.5 512v1M77.5 511v1M84.5 483v1M85.5 490v2M85.5 495v2M90.5 481v1M90.5 486v1M90.5 508v1M91.5 499v1M92.5 462v3M92.5 489v2M93.5 496v1M93.5 500v1M94.5 461v1M94.5 497v1M95.5 464v1M96.5 463v1M99.5 486v1M102.5 513v1M102.5 516v1M104.5 514v1M105.5 512v1M110.5 488v1M111.5 478v1M113.5 510v1M116.5 478v1M118.5 479v1M127.5 469v1M131.5 492v1M141.5 480v1M144.5 505v1M148.5 508v1M152.5 509v2M155.5 470v1M156.5 473v1M175.5 507v1M176.5 506v1M176.5 508v1M177.5 488v1M179.5 485v1M180.5 484v1M180.5 488v1M182.5 489v1M184.5 479v1M186.5 484v1M187.5 485v1M188.5 485v1M189.5 484v1M191.5 485v1M192.5 480v1M194.5 477v1M199.5 477v1M200.5 477v1M203.5 481v1M208.5 477v1M210.5 476v2M210.5 479v1M214.5 470v1M214.5 473v1M215.5 475v1M216.5 466v1M216.5 468v2M216.5 471v1M219.5 473v1M222.5 404v1M222.5 468v1M223.5 417v1M223.5 448v1M223.5 471v2M225.5 395v1M225.5 397v1M226.5 402v1M226.5 409v1M227.5 396v1M227.5 399v1M228.5 398v1M228.5 450v1M229.5 387v1M229.5 396v1M229.5 398v1M230.5 400v1M230.5 403v1M230.5 411v1M231.5 415v2M231.5 422v1M232.5 409v1M234.5 458v1M235.5 476v1M235.5 480v1M236.5 456v5M237.5 480v1M238.5 402v1M238.5 475v1M239.5 400v1M239.5 457v1M240.5 459v1M240.5 463v2M243.5 459v1M243.5 469v1M244.5 465v1M247.5 458v1M247.5 465v1M248.5 466v2M250.5 475v1M250.5 478v1M250.5 480v1M250.5 483v1M251.5 470v2M256.5 475v1M256.5 478v1M257.5 473v2M257.5 480v1M257.5 486v2M257.5 490v2M257.5 494v1M258.5 487v1M260.5 482v1M261.5 480v1M261.5 482v1M262.5 480v1M263.5 481v1M264.5 481v1M267.5 479v3M269.5 480v1M271.5 478v1M277.5 478v1M280.5 478v1M281.5 479v2M281.5 490v1M282.5 474v2M283.5 487v1M285.5 477v1M285.5 480v1M285.5 483v1M285.5 487v1M286.5 487v1M286.5 491v1M287.5 477v1M287.5 481v2M288.5 482v3M288.5 489v2M288.5 496v1M289.5 487v1M289.5 492v1M289.5 496v1M291.5 483v1M291.5 486v1M291.5 491v2M291.5 496v1M291.5 504v2M291.5 519v2M292.5 499v1M293.5 491v1M293.5 493v2M293.5 496v1M295.5 485v2M295.5 488v1M296.5 493v1M296.5 509v3M298.5 494v2M298.5 497v2M298.5 500v1M298.5 502v1M299.5 498v2M299.5 505v1M299.5 511v1M299.5 514v1M300.5 495v2M300.5 499v1M300.5 502v2M300.5 505v1M300.5 507v1M300.5 516v1M303.5 494v1M303.5 497v1M303.5 500v1M303.5 503v1M303.5 509v1M304.5 495v1M304.5 512v1M305.5 497v1M305.5 509v2M306.5 497v1M306.5 505v2M306.5 509v2M307.5 499v1M308.5 494v1M308.5 499v1M308.5 504v2M308.5 507v1M309.5 497v1M310.5 497v1M310.5 499v1M310.5 508v1M311.5 506v1M313.5 508v1M314.5 509v1M317.5 507v1M318.5 508v1M319.5 508v1M320.5 506v1M320.5 508v1M321.5 503v1M323.5 503v3M324.5 505v1M326.5 505v1M329.5 504v1M332.5 508v1M334.5 507v1M335.5 510v1M336.5 513v1M336.5 518v1M337.5 512v1M338.5 513v2M340.5 511v1M340.5 514v1M341.5 517v2M343.5 506v1M355.5 505v1M358.5 504v1M362.5 498v1M364.5 501v1M365.5 506v1M367.5 503v1M367.5 505v1M367.5 507v1M368.5 494v1M368.5 496v1M369.5 500v1M370.5 499v1M370.5 504v1M371.5 505v1M371.5 513v1M371.5 516v1M373.5 493v1M373.5 498v1M373.5 500v2M376.5 502v1M376.5 507v2M377.5 502v1M378.5 495v1M379.5 498v1M379.5 502v1M379.5 504v1M379.5 510v1M381.5 497v2M382.5 503v2M382.5 506v1M382.5 508v2M382.5 515v1M383.5 512v1M384.5 492v1M384.5 497v1M385.5 493v1M387.5 505v1M389.5 498v1M389.5 501v1M390.5 498v1M390.5 502v1M391.5 493v1M392.5 501v1M393.5 502v1M394.5 500v1M394.5 502v1M395.5 497v1M395.5 500v1M405.5 497v1M406.5 506v1M407.5 495v1M407.5 498v2M410.5 498v1M410.5 500v1M413.5 502v1M413.5 504v2M415.5 495v2M415.5 500v3M416.5 499v1M416.5 501v1M419.5 494v1M419.5 507v1M421.5 492v1M422.5 505v1M423.5 503v1M423.5 507v1M424.5 493v1M424.5 498v1M425.5 488v1M425.5 501v1M426.5 490v2M426.5 494v1M426.5 506v2M427.5 500v1M428.5 497v3M428.5 503v1M428.5 505v1M428.5 507v2M429.5 489v1M429.5 492v1M429.5 497v2M430.5 489v1M431.5 488v1M431.5 500v2M432.5 497v1M432.5 501v3M435.5 491v1M436.5 498v1M439.5 500v3M441.5 495v1M441.5 498v1M441.5 502v1M445.5 497v1M452.5 506v1M452.5 508v1M453.5 505v1M454.5 503v1M454.5 508v1M456.5 505v1M458.5 505v2M460.5 512v1M460.5 519v1M461.5 501v1M463.5 503v1M463.5 507v1M464.5 502v1M467.5 496v1M468.5 498v3M469.5 528v2M470.5 521v1M471.5 538v1M473.5 506v1M473.5 526v1M476.5 529v1M484.5 502v1M485.5 495v1M486.5 504v1M486.5 507v1M487.5 490v1M487.5 493v1M487.5 499v1M487.5 509v1M488.5 486v2M488.5 491v1M488.5 501v1M488.5 503v1M489.5 491v1M489.5 501v1M490.5 494v1M490.5 500v1M490.5 503v1M491.5 485v1M491.5 487v2M492.5 501v1M493.5 506v1M494.5 506v1M495.5 497v1M496.5 497v2M497.5 502v1M498.5 484v1M498.5 487v1M500.5 473v1M500.5 475v1M501.5 475v1M501.5 489v2M501.5 492v1M502.5 474v1M503.5 490v1M504.5 497v1M505.5 491v1M506.5 494v1M511.5 496v1M511.5 503v1M512.5 502v1M517.5 494v1M517.5 502v1M524.5 504v1M527.5 505v1M527.5 515v1M528.5 513v2M529.5 503v1M530.5 494v1M530.5 498v1M531.5 489v1M534.5 501v1M535.5 507v1M537.5 502v1M550.5 489v1M554.5 493v1M557.5 492v2M558.5 490v1M561.5 494v1M562.5 493v1M564.5 499v1M570.5 501v1M570.5 506v1M571.5 500v2M572.5 503v1M572.5 505v1M573.5 504v1M575.5 504v1M576.5 500v1M576.5 504v2M578.5 498v1M578.5 501v1M578.5 503v1M579.5 499v1M580.5 500v1M583.5 500v1M584.5 494v1M586.5 490v1M587.5 490v1M587.5 494v1M589.5 472v1M589.5 475v1M589.5 483v1M589.5 489v1M590.5 451v1M590.5 455v1M590.5 458v1M590.5 480v1M591.5 457v1M591.5 474v1M591.5 477v1M591.5 482v1M592.5 478v1M594.5 482v2M594.5 486v1M595.5 485v1M595.5 490v1M595.5 492v1M597.5 493v1M598.5 490v1M598.5 492v1M598.5 498v1M598.5 501v1M598.5 508v1M599.5 489v2M599.5 492v2M599.5 495v1M599.5 498v2M600.5 494v1M600.5 506v1M600.5 513v1M600.5 515v1M601.5 490v1M601.5 492v1M601.5 498v1M602.5 492v2M604.5 494v1M605.5 465v2M605.5 499v1M605.5 509v1M605.5 512v1M606.5 465v1M606.5 473v2M606.5 478v1M606.5 481v1M606.5 488v1M606.5 492v1M608.5 496v1M609.5 497v1M611.5 498v1M612.5 488v1M613.5 505v1M614.5 492v1M614.5 497v1M615.5 493v1M616.5 497v1M616.5 499v1M616.5 501v1M616.5 505v1M616.5 507v1M617.5 501v1M618.5 494v1M618.5 500v1M618.5 507v1M619.5 494v1M619.5 498v1M620.5 500v1M620.5 503v1M621.5 464v1M621.5 466v1M621.5 471v1M621.5 495v1M622.5 463v1M622.5 467v2M622.5 485v1M622.5 494v1M622.5 513v1M623.5 493v1M624.5 474v1M624.5 478v1M624.5 506v1M624.5 508v3M625.5 475v1M625.5 513v1M627.5 488v1M627.5 492v1M628.5 486v1M630.5 497v1M630.5 503v1M635.5 498v1M636.5 508v1M637.5 438v1M637.5 442v1M637.5 451v1M637.5 501v1M637.5 503v1M638.5 437v1M638.5 439v1M638.5 441v1M638.5 444v1M638.5 452v1M638.5 512v1M638.5 516v1M639.5 458v1M640.5 447v1M640.5 458v2M640.5 461v1M641.5 453v1M641.5 506v1M642.5 454v2M643.5 447v1M643.5 454v1M643.5 464v1M643.5 469v1M644.5 445v2M644.5 503v1M645.5 460v1M645.5 465v1M645.5 467v1M646.5 451v1M646.5 459v1M647.5 450v1M647.5 453v1M648.5 448v1M648.5 456v1M648.5 458v1M648.5 465v1M649.5 452v1M649.5 465v1M650.5 458v1M650.5 462v1M651.5 427v1M652.5 413v2M652.5 417v1M652.5 424v2M652.5 428v1M653.5 409v1M653.5 411v1M653.5 417v1M653.5 426v1M686.5 416v1M686.5 418v2M687.5 470v1M687.5 472v1M687.5 477v2M694.5 467v1M694.5 469v1M694.5 474v1M694.5 477v1M694.5 485v1M696.5 473v1M696.5 483v1M697.5 468v3M697.5 473v2"/>
<path stroke="#008b92" d="M55.5 503v1M58.5 502v1M65.5 507v1M66.5 504v1M69.5 513v1M71.5 512v1M72.5 511v1M73.5 510v1M75.5 513v1M76.5 507v1M76.5 512v1M84.5 480v1M84.5 484v1M84.5 488v1M84.5 490v1M84.5 498v1M85.5 470v1M85.5 479v2M86.5 478v1M86.5 492v1M86.5 500v1M86.5 502v2M87.5 482v1M87.5 499v1M88.5 495v1M89.5 478v1M89.5 484v2M90.5 462v1M90.5 479v1M90.5 483v1M90.5 490v1M90.5 500v1M91.5 461v1M91.5 480v1M92.5 461v1M93.5 460v1M93.5 463v1M93.5 467v1M93.5 476v2M93.5 491v1M93.5 498v1M94.5 468v1M94.5 501v1M94.5 504v1M94.5 508v3M95.5 461v1M95.5 479v1M98.5 461v1M98.5 463v1M98.5 478v1M98.5 495v1M99.5 479v2M99.5 514v1M101.5 485v1M101.5 512v1M102.5 511v1M106.5 513v1M107.5 478v1M107.5 481v1M110.5 489v1M110.5 492v1M110.5 510v1M111.5 480v1M111.5 496v2M112.5 507v1M115.5 503v1M115.5 509v2M120.5 494v1M124.5 505v2M125.5 494v1M125.5 502v1M141.5 475v1M141.5 478v1M143.5 478v1M145.5 506v1M148.5 504v1M152.5 506v1M152.5 512v1M154.5 513v1M155.5 473v1M174.5 482v1M175.5 485v1M175.5 508v1M176.5 486v2M176.5 507v1M177.5 489v1M179.5 486v1M179.5 490v1M180.5 483v1M180.5 490v1M182.5 484v1M183.5 487v2M190.5 483v1M192.5 483v1M193.5 485v1M194.5 478v1M197.5 476v1M199.5 482v1M199.5 484v1M200.5 478v1M202.5 475v1M202.5 479v2M203.5 483v1M204.5 480v1M205.5 474v1M209.5 479v1M211.5 475v1M211.5 477v1M213.5 474v1M214.5 469v1M214.5 471v1M214.5 475v1M221.5 448v1M221.5 452v2M222.5 471v1M223.5 414v1M223.5 450v2M224.5 448v1M224.5 453v1M225.5 392v1M225.5 394v1M225.5 448v1M225.5 453v1M226.5 400v1M226.5 405v1M226.5 451v1M226.5 453v1M227.5 391v1M227.5 393v2M227.5 398v1M227.5 447v1M228.5 451v1M229.5 394v1M234.5 455v1M235.5 454v2M236.5 478v1M236.5 480v1M237.5 455v1M238.5 456v1M238.5 478v1M238.5 480v1M239.5 454v1M240.5 456v1M243.5 458v1M243.5 460v1M243.5 478v1M245.5 461v1M245.5 463v1M246.5 463v1M246.5 474v1M247.5 462v1M248.5 459v1M249.5 465v1M250.5 467v1M250.5 470v1M250.5 474v1M253.5 477v2M253.5 481v1M255.5 479v1M255.5 481v1M256.5 474v1M256.5 490v1M257.5 475v1M257.5 483v1M258.5 485v1M259.5 476v2M259.5 481v1M259.5 483v1M266.5 477v1M266.5 482v1M267.5 478v1M268.5 479v1M268.5 481v1M274.5 481v1M276.5 476v1M277.5 477v1M279.5 482v1M280.5 476v1M281.5 478v1M281.5 482v1M282.5 473v1M283.5 483v1M283.5 500v1M285.5 478v1M285.5 488v1M285.5 491v1M286.5 489v1M287.5 476v1M287.5 478v1M288.5 480v1M289.5 493v1M290.5 506v1M291.5 481v2M291.5 484v1M291.5 495v1M291.5 501v2M293.5 489v1M293.5 492v1M296.5 506v1M296.5 508v1M300.5 500v1M300.5 504v1M301.5 515v1M303.5 495v2M304.5 509v3M304.5 513v1M305.5 507v1M306.5 504v1M306.5 507v2M306.5 511v1M307.5 498v1M307.5 502v1M307.5 504v1M307.5 508v1M307.5 513v3M308.5 496v1M309.5 495v1M309.5 501v3M309.5 511v1M310.5 498v1M310.5 506v1M310.5 509v2M311.5 508v3M313.5 507v1M314.5 507v1M317.5 506v1M319.5 506v2M321.5 498v1M322.5 502v1M324.5 503v1M328.5 504v1M329.5 505v1M330.5 504v1M330.5 506v1M332.5 509v1M333.5 508v1M333.5 510v1M334.5 504v2M335.5 508v1M337.5 510v1M338.5 516v1M339.5 514v1M339.5 519v1M340.5 507v1M340.5 509v1M340.5 512v1M342.5 510v1M347.5 507v1M355.5 504v1M357.5 504v1M358.5 500v1M359.5 504v2M363.5 502v1M364.5 497v1M364.5 500v1M365.5 502v1M365.5 504v1M367.5 502v1M368.5 498v3M371.5 504v1M371.5 508v1M372.5 493v1M372.5 495v1M375.5 498v1M376.5 500v2M379.5 501v1M379.5 507v1M380.5 497v1M380.5 499v1M380.5 502v1M382.5 501v1M383.5 506v1M384.5 493v1M384.5 496v1M385.5 492v1M385.5 496v2M387.5 501v1M388.5 497v1M391.5 497v1M392.5 498v2M392.5 504v1M392.5 508v1M393.5 499v1M395.5 494v1M395.5 498v1M405.5 494v1M405.5 496v1M406.5 502v3M413.5 501v1M413.5 506v1M415.5 493v1M415.5 497v1M415.5 499v1M419.5 495v1M419.5 497v1M419.5 501v1M422.5 500v1M422.5 502v2M423.5 497v1M423.5 500v1M426.5 499v1M426.5 501v1M426.5 503v1M426.5 505v1M427.5 507v1M428.5 501v1M431.5 489v1M432.5 500v1M439.5 506v1M440.5 495v1M441.5 491v1M441.5 496v1M441.5 500v1M445.5 538v1M451.5 501v1M451.5 504v1M452.5 507v1M453.5 500v1M453.5 502v1M454.5 507v1M456.5 501v1M456.5 507v1M458.5 498v2M458.5 502v2M460.5 514v1M461.5 502v2M461.5 512v1M461.5 538v1M463.5 499v2M463.5 502v1M466.5 500v1M466.5 506v1M467.5 502v1M467.5 504v2M467.5 507v1M468.5 502v1M468.5 518v1M472.5 523v1M474.5 519v2M476.5 525v1M476.5 527v1M482.5 528v2M485.5 494v1M487.5 500v1M487.5 504v1M487.5 506v1M489.5 493v1M489.5 502v1M489.5 508v1M489.5 510v1M490.5 490v1M490.5 504v1M490.5 507v1M491.5 480v1M492.5 491v1M492.5 496v1M493.5 498v1M493.5 503v1M493.5 505v1M494.5 492v3M494.5 504v1M496.5 493v1M497.5 493v1M498.5 488v1M500.5 490v1M501.5 471v2M502.5 472v1M503.5 500v1M504.5 489v1M504.5 494v1M505.5 492v1M506.5 491v1M506.5 501v1M507.5 492v1M507.5 497v2M512.5 496v1M513.5 496v1M516.5 502v1M518.5 503v1M521.5 499v1M522.5 503v1M525.5 497v1M526.5 499v1M526.5 502v1M527.5 509v1M528.5 510v2M529.5 498v1M531.5 501v1M533.5 500v2M536.5 501v1M536.5 504v1M538.5 502v1M542.5 502v1M547.5 486v2M551.5 481v1M551.5 484v2M554.5 487v1M555.5 491v1M556.5 491v1M556.5 493v1M558.5 491v1M561.5 493v1M564.5 497v2M565.5 502v1M566.5 498v1M572.5 504v1M574.5 501v1M574.5 504v1M575.5 498v1M578.5 499v1M579.5 502v1M580.5 498v2M580.5 502v1M580.5 504v1M581.5 493v1M582.5 492v1M582.5 494v1M582.5 497v1M583.5 495v1M583.5 501v1M584.5 490v1M585.5 488v1M585.5 491v1M585.5 493v1M585.5 498v1M586.5 504v1M587.5 492v1M588.5 461v3M588.5 466v1M588.5 476v1M589.5 463v2M589.5 479v1M589.5 484v1M589.5 487v1M591.5 478v2M591.5 481v1M591.5 483v1M591.5 486v3M592.5 492v1M595.5 488v2M595.5 491v1M596.5 504v1M597.5 491v1M598.5 491v1M599.5 491v1M600.5 498v1M600.5 501v2M600.5 505v1M600.5 507v1M601.5 462v1M601.5 465v1M601.5 491v1M601.5 493v1M601.5 499v1M602.5 462v1M602.5 467v1M602.5 497v1M604.5 495v1M604.5 498v1M605.5 473v1M605.5 478v1M605.5 480v1M605.5 484v1M605.5 489v4M606.5 468v1M606.5 475v2M607.5 498v1M607.5 506v2M608.5 493v2M609.5 492v1M612.5 496v1M613.5 496v1M614.5 496v1M615.5 494v1M618.5 495v1M619.5 506v1M619.5 511v1M620.5 493v1M621.5 492v1M621.5 502v1M622.5 462v1M622.5 472v1M622.5 480v1M622.5 487v1M622.5 495v1M623.5 494v1M623.5 520v1M623.5 523v1M623.5 532v1M624.5 501v3M625.5 507v1M625.5 509v1M626.5 467v1M626.5 485v1M627.5 484v1M629.5 483v1M629.5 485v1M629.5 502v1M630.5 493v1M630.5 496v1M632.5 490v1M632.5 492v1M632.5 496v1M633.5 497v1M634.5 503v1M635.5 497v1M636.5 498v1M636.5 500v1M637.5 439v1M637.5 445v1M637.5 497v1M638.5 454v1M638.5 457v1M638.5 515v1M639.5 459v1M640.5 449v1M641.5 451v1M641.5 502v2M641.5 505v1M642.5 506v1M642.5 508v1M643.5 458v1M643.5 465v1M644.5 460v1M644.5 462v1M645.5 455v1M645.5 459v1M647.5 459v1M648.5 454v1M648.5 459v1M649.5 451v1M649.5 460v1M649.5 463v1M649.5 467v1M649.5 476v1M651.5 441v1M651.5 445v1M651.5 450v1M652.5 421v1M652.5 430v1M652.5 434v1M652.5 442v1M652.5 447v2M652.5 451v2M653.5 407v1M653.5 414v1M653.5 421v1M653.5 424v1M686.5 414v2M686.5 422v1M687.5 469v1M694.5 472v1M696.5 466v1M696.5 469v2M696.5 477v1"/>
<path stroke="#00a077" d="M62.5 506v1M66.5 503v1M66.5 507v1M66.5 511v1M68.5 510v1M69.5 510v1M72.5 506v1M73.5 512v1M80.5 511v1M80.5 513v1M83.5 508v1M84.5 487v1M85.5 482v1M85.5 488v1M86.5 489v1M86.5 491v1M86.5 505v1M87.5 480v2M88.5 477v3M88.5 481v1M88.5 485v2M88.5 506v1M89.5 460v1M89.5 480v1M89.5 482v2M89.5 487v1M90.5 455v2M90.5 488v1M90.5 496v1M90.5 498v1M91.5 458v1M91.5 494v1M91.5 510v1M92.5 505v3M94.5 467v1M95.5 473v1M95.5 484v1M95.5 494v1M96.5 464v1M96.5 481v1M97.5 509v2M98.5 479v1M98.5 508v1M98.5 511v1M99.5 485v1M99.5 513v1M105.5 481v1M105.5 509v1M107.5 489v1M108.5 481v1M108.5 489v1M108.5 492v1M109.5 479v1M109.5 489v1M110.5 481v1M110.5 485v1M110.5 487v1M110.5 490v1M110.5 494v1M110.5 498v1M111.5 479v1M111.5 498v1M111.5 511v1M112.5 506v1M112.5 508v1M112.5 510v1M113.5 508v1M114.5 510v1M115.5 506v1M115.5 508v1M116.5 481v1M122.5 493v1M122.5 495v1M124.5 494v1M125.5 490v1M126.5 506v1M127.5 489v1M127.5 493v1M127.5 501v1M127.5 503v1M127.5 506v1M130.5 488v1M131.5 491v1M132.5 487v1M135.5 485v1M135.5 489v1M136.5 484v1M139.5 480v1M140.5 476v1M140.5 482v1M143.5 474v1M144.5 504v1M150.5 505v1M150.5 508v1M151.5 508v1M152.5 508v1M154.5 514v1M155.5 471v1M155.5 504v1M155.5 507v1M155.5 512v1M156.5 472v1M156.5 508v1M159.5 504v2M165.5 507v1M174.5 478v1M174.5 481v1M175.5 482v1M176.5 481v1M177.5 484v1M177.5 486v1M178.5 491v1M179.5 482v1M179.5 487v1M181.5 488v1M181.5 490v1M182.5 485v1M184.5 483v1M187.5 481v1M190.5 478v1M190.5 482v1M191.5 481v1M194.5 480v2M195.5 482v1M196.5 483v1M197.5 479v1M197.5 483v1M198.5 482v1M199.5 476v1M200.5 472v1M200.5 479v1M205.5 479v2M207.5 474v1M207.5 479v1M208.5 475v1M208.5 479v1M209.5 472v1M210.5 472v1M213.5 467v1M213.5 470v3M215.5 472v1M216.5 472v1M218.5 469v1M220.5 471v1M222.5 447v1M222.5 466v1M222.5 469v2M222.5 472v1M223.5 418v1M225.5 396v1M225.5 447v1M225.5 452v1M226.5 407v1M227.5 395v1M228.5 393v1M232.5 506v1M237.5 454v1M237.5 475v1M238.5 403v1M238.5 477v1M239.5 403v1M239.5 456v1M241.5 455v1M241.5 462v1M243.5 455v2M243.5 476v1M244.5 460v1M250.5 468v2M253.5 473v2M254.5 486v1M257.5 476v1M259.5 480v1M260.5 481v1M265.5 480v2M268.5 480v1M270.5 478v1M270.5 481v1M273.5 474v1M278.5 474v2M279.5 481v1M280.5 482v1M281.5 477v1M283.5 515v1M285.5 473v1M285.5 475v1M285.5 482v1M286.5 490v1M287.5 479v1M288.5 481v1M289.5 501v1M290.5 505v1M291.5 494v1M291.5 497v1M291.5 500v1M291.5 510v1M296.5 507v1M297.5 503v1M298.5 493v1M300.5 497v1M300.5 517v1M303.5 505v2M304.5 503v1M304.5 507v1M306.5 501v3M307.5 495v1M307.5 497v1M307.5 500v1M307.5 503v1M307.5 505v1M307.5 507v1M307.5 512v1M308.5 503v1M309.5 499v1M309.5 504v2M309.5 509v1M311.5 504v1M312.5 508v1M313.5 503v1M313.5 506v1M314.5 508v1M315.5 507v1M317.5 504v1M318.5 505v2M321.5 497v1M321.5 499v2M322.5 499v1M322.5 504v1M324.5 504v1M325.5 501v1M326.5 504v1M328.5 499v1M328.5 503v1M329.5 500v1M332.5 506v1M333.5 509v1M336.5 506v1M336.5 509v1M336.5 511v2M336.5 514v1M336.5 517v1M337.5 507v1M337.5 511v1M337.5 514v1M339.5 513v1M339.5 516v1M339.5 518v1M339.5 521v1M340.5 510v1M342.5 507v1M346.5 504v1M350.5 501v1M350.5 504v1M351.5 505v1M353.5 505v1M354.5 505v1M356.5 501v1M357.5 502v1M358.5 503v1M360.5 504v1M365.5 503v1M367.5 500v2M368.5 497v1M369.5 497v1M369.5 501v1M371.5 500v1M372.5 497v1M375.5 493v1M375.5 497v1M378.5 494v1M378.5 497v1M379.5 499v1M379.5 505v1M380.5 495v1M381.5 499v1M382.5 498v1M382.5 500v1M382.5 507v1M383.5 503v1M383.5 508v1M384.5 495v1M386.5 493v1M386.5 495v1M386.5 497v1M386.5 499v1M387.5 500v1M389.5 493v1M389.5 499v1M390.5 497v1M391.5 492v1M392.5 500v1M392.5 503v1M394.5 498v1M406.5 501v1M410.5 496v1M410.5 499v1M410.5 501v1M413.5 498v1M413.5 500v1M413.5 503v1M415.5 494v1M416.5 496v2M416.5 538v1M422.5 504v1M424.5 494v1M424.5 497v1M424.5 501v1M424.5 538v1M425.5 497v1M425.5 500v1M425.5 502v1M426.5 496v1M427.5 504v1M428.5 496v1M432.5 499v1M432.5 506v1M439.5 505v1M440.5 496v1M454.5 504v1M458.5 501v1M458.5 504v1M461.5 499v1M461.5 506v1M461.5 516v1M466.5 499v1M466.5 501v1M467.5 498v1M472.5 518v1M475.5 528v1M476.5 526v1M477.5 517v1M477.5 529v1M477.5 538v1M480.5 528v1M485.5 493v1M485.5 500v1M485.5 509v1M486.5 506v1M488.5 489v1M488.5 499v2M489.5 500v1M490.5 480v1M491.5 478v2M492.5 506v1M492.5 508v2M493.5 492v1M493.5 499v1M493.5 502v1M494.5 501v1M494.5 503v1M495.5 496v1M496.5 494v1M499.5 488v1M500.5 489v1M502.5 473v1M502.5 498v1M503.5 493v1M503.5 498v1M505.5 490v1M507.5 494v1M507.5 496v1M508.5 499v1M510.5 493v1M512.5 497v1M514.5 496v2M514.5 500v1M515.5 497v2M516.5 500v1M518.5 496v3M520.5 498v1M523.5 498v1M525.5 500v1M527.5 500v1M529.5 500v1M529.5 502v1M530.5 499v1M530.5 501v1M531.5 503v1M533.5 503v1M534.5 502v1M535.5 501v1M535.5 505v1M536.5 502v1M536.5 505v1M537.5 501v1M538.5 503v1M539.5 502v1M541.5 502v3M543.5 502v1M544.5 503v1M555.5 487v1M555.5 490v1M555.5 492v1M558.5 488v1M563.5 494v1M566.5 497v1M571.5 499v1M572.5 501v2M573.5 500v1M577.5 498v1M578.5 500v1M579.5 500v1M580.5 501v1M581.5 492v1M582.5 496v1M583.5 492v1M583.5 497v1M583.5 499v1M584.5 488v1M584.5 491v1M585.5 492v1M586.5 487v1M587.5 489v1M588.5 460v1M588.5 475v1M588.5 477v1M590.5 459v1M590.5 493v1M592.5 470v1M592.5 501v1M594.5 498v1M594.5 501v1M595.5 487v1M596.5 484v1M598.5 489v1M601.5 466v1M601.5 504v1M602.5 494v1M602.5 496v1M604.5 497v1M604.5 508v1M605.5 463v1M605.5 467v1M605.5 477v1M605.5 481v1M605.5 506v1M606.5 463v1M606.5 469v1M610.5 489v1M612.5 501v1M613.5 504v1M619.5 491v1M620.5 494v1M620.5 502v1M621.5 482v1M621.5 491v1M621.5 523v1M622.5 469v1M622.5 478v1M622.5 493v1M624.5 471v1M626.5 493v1M628.5 462v1M629.5 487v1M629.5 495v1M629.5 499v1M631.5 501v1M632.5 494v1M632.5 498v1M632.5 506v1M634.5 504v1M635.5 502v1M635.5 508v1M641.5 456v1M641.5 458v1M642.5 443v1M642.5 453v1M642.5 461v1M642.5 465v1M642.5 468v1M643.5 459v1M643.5 472v1M644.5 458v1M644.5 461v1M644.5 505v1M645.5 463v1M646.5 446v1M649.5 446v1M649.5 453v1M649.5 455v3M649.5 459v1M649.5 462v1M649.5 475v1M650.5 463v2M651.5 435v1M652.5 412v1M652.5 416v1M652.5 419v1M685.5 405v1M685.5 411v1M685.5 416v1M685.5 425v1"/>
<path stroke="#00b55d" d="M52.5 501v1M64.5 503v1M65.5 509v1M66.5 502v1M66.5 506v1M66.5 510v1M67.5 510v1M69.5 506v1M69.5 509v1M69.5 511v1M71.5 505v1M72.5 508v1M73.5 505v1M76.5 510v1M77.5 506v2M80.5 503v1M80.5 512v1M82.5 502v1M82.5 509v1M82.5 514v1M83.5 506v1M83.5 510v1M84.5 482v1M84.5 485v1M84.5 489v1M84.5 493v1M85.5 483v1M85.5 486v2M86.5 506v1M87.5 483v1M87.5 485v1M87.5 501v1M87.5 505v2M88.5 482v1M88.5 487v1M89.5 466v1M89.5 479v1M89.5 486v1M89.5 497v1M89.5 508v1M90.5 459v1M90.5 464v1M90.5 480v1M90.5 482v1M90.5 484v2M90.5 495v1M90.5 499v1M90.5 501v1M90.5 503v2M90.5 506v1M91.5 460v1M91.5 481v1M91.5 492v1M92.5 460v1M92.5 484v2M92.5 487v1M92.5 510v1M93.5 469v1M93.5 497v1M93.5 504v1M94.5 460v1M94.5 505v1M96.5 460v1M96.5 480v1M96.5 482v1M96.5 488v1M97.5 508v1M97.5 511v1M98.5 487v1M98.5 493v1M98.5 510v1M99.5 483v1M99.5 487v1M99.5 509v1M99.5 511v1M100.5 481v1M101.5 481v2M102.5 515v1M104.5 480v1M104.5 483v1M105.5 480v1M106.5 507v1M110.5 505v3M110.5 511v1M111.5 477v1M111.5 505v2M111.5 512v1M112.5 505v1M113.5 504v1M113.5 506v2M114.5 511v2M116.5 488v1M120.5 509v1M121.5 508v2M124.5 491v1M125.5 493v1M125.5 495v1M125.5 507v1M126.5 505v1M127.5 492v1M130.5 489v1M131.5 489v1M132.5 488v1M132.5 492v1M135.5 488v1M137.5 483v2M138.5 482v1M139.5 478v1M143.5 476v1M143.5 479v1M144.5 473v1M146.5 504v1M148.5 505v1M150.5 509v1M152.5 507v1M154.5 507v1M154.5 510v1M155.5 472v1M155.5 505v1M155.5 508v2M155.5 514v1M156.5 471v1M156.5 510v1M159.5 503v1M165.5 508v1M174.5 476v1M174.5 479v1M176.5 483v3M177.5 483v1M178.5 489v2M179.5 483v2M179.5 489v1M181.5 489v1M182.5 481v1M184.5 480v3M185.5 480v1M187.5 484v1M188.5 486v1M190.5 476v1M191.5 478v1M191.5 480v1M192.5 476v2M193.5 482v1M194.5 476v1M197.5 480v1M199.5 478v2M200.5 474v1M200.5 481v1M202.5 477v1M203.5 478v2M203.5 482v1M204.5 476v1M204.5 478v1M204.5 481v1M205.5 476v1M209.5 478v1M213.5 468v1M215.5 474v1M217.5 472v1M217.5 475v1M218.5 470v1M221.5 449v1M221.5 471v1M222.5 449v4M223.5 452v1M225.5 449v1M227.5 390v1M227.5 397v1M228.5 391v2M228.5 394v3M232.5 505v1M232.5 507v1M237.5 476v1M237.5 479v1M237.5 481v1M238.5 400v2M238.5 481v1M241.5 470v1M242.5 461v1M242.5 469v1M244.5 464v1M247.5 461v1M254.5 479v2M257.5 481v1M257.5 485v1M262.5 481v1M263.5 479v2M269.5 479v1M270.5 476v1M271.5 477v1M273.5 473v1M274.5 480v1M277.5 476v1M291.5 512v1M297.5 501v1M300.5 513v1M302.5 508v1M304.5 497v2M304.5 501v1M304.5 504v2M304.5 508v1M305.5 515v2M307.5 496v1M307.5 501v1M307.5 506v1M307.5 509v2M309.5 508v1M310.5 491v1M313.5 505v1M314.5 506v1M315.5 502v1M321.5 496v1M321.5 501v1M322.5 500v1M323.5 488v1M323.5 490v2M323.5 495v1M323.5 498v2M324.5 500v3M326.5 495v1M326.5 497v1M328.5 501v1M329.5 501v1M329.5 503v1M330.5 505v1M331.5 505v1M331.5 507v1M336.5 504v1M336.5 515v1M338.5 503v1M338.5 510v1M339.5 517v1M340.5 504v1M341.5 512v2M342.5 508v1M342.5 511v1M343.5 503v1M343.5 505v1M343.5 507v1M344.5 507v1M347.5 506v1M348.5 502v1M349.5 505v2M351.5 504v1M355.5 502v1M356.5 502v1M356.5 504v1M358.5 501v2M362.5 501v1M363.5 498v1M366.5 500v1M370.5 496v1M370.5 498v1M371.5 503v1M373.5 492v1M373.5 495v2M374.5 492v1M374.5 497v2M375.5 494v1M376.5 497v1M377.5 494v1M378.5 493v1M378.5 496v1M379.5 496v2M379.5 500v1M380.5 496v1M383.5 497v1M383.5 502v1M384.5 494v1M385.5 494v1M386.5 494v1M386.5 496v1M387.5 495v1M387.5 498v1M388.5 491v1M388.5 493v4M390.5 495v1M393.5 495v1M393.5 497v1M394.5 499v1M396.5 494v1M406.5 499v1M410.5 497v1M415.5 498v1M427.5 502v2M440.5 490v1M452.5 505v1M454.5 505v2M461.5 500v1M468.5 522v1M471.5 529v1M475.5 522v1M477.5 518v1M485.5 498v1M486.5 500v2M487.5 487v1M487.5 491v1M487.5 501v1M487.5 505v1M488.5 507v1M489.5 485v1M489.5 494v1M489.5 507v1M490.5 479v1M490.5 482v1M491.5 476v1M491.5 482v1M491.5 484v1M492.5 492v1M493.5 491v1M493.5 495v1M494.5 490v1M494.5 495v1M497.5 491v1M499.5 487v1M502.5 470v1M502.5 489v1M506.5 499v1M507.5 495v1M508.5 493v1M509.5 497v1M509.5 500v1M510.5 499v1M511.5 497v1M511.5 501v1M513.5 499v1M514.5 501v1M515.5 501v1M516.5 497v1M517.5 501v1M518.5 502v1M519.5 496v1M519.5 502v1M520.5 502v2M521.5 500v1M526.5 498v1M526.5 501v1M527.5 499v1M527.5 503v1M531.5 500v1M531.5 504v1M532.5 501v1M539.5 503v1M540.5 505v1M544.5 504v1M547.5 484v1M550.5 486v1M551.5 480v1M551.5 483v1M554.5 486v1M565.5 500v1M572.5 500v1M574.5 500v1M574.5 502v2M575.5 505v1M576.5 501v1M583.5 493v1M584.5 492v1M584.5 498v1M585.5 489v1M586.5 538v1M589.5 452v1M589.5 455v1M589.5 458v1M589.5 478v1M590.5 469v1M590.5 479v1M591.5 459v1M591.5 468v1M593.5 499v1M594.5 492v1M598.5 506v1M601.5 501v1M604.5 509v1M605.5 464v1M605.5 471v1M605.5 475v1M606.5 448v1M606.5 466v1M606.5 470v2M607.5 448v1M614.5 499v1M616.5 491v1M617.5 491v1M619.5 503v1M621.5 525v1M621.5 527v1M622.5 473v1M623.5 497v1M623.5 503v1M627.5 462v1M628.5 483v2M628.5 489v1M628.5 495v1M629.5 486v1M629.5 490v1M632.5 495v1M633.5 498v1M635.5 500v1M636.5 496v1M636.5 504v1M636.5 509v1M637.5 448v1M637.5 450v1M637.5 498v1M637.5 500v1M638.5 449v1M638.5 456v1M639.5 460v1M640.5 463v2M641.5 460v1M642.5 451v1M642.5 464v1M642.5 507v1M644.5 450v1M644.5 463v2M645.5 462v1M646.5 448v1M646.5 450v1M648.5 455v1M648.5 457v1M648.5 461v1M648.5 464v1M648.5 466v1M648.5 473v1M679.5 409v1M685.5 404v1M685.5 409v1M685.5 418v1M685.5 421v1M685.5 424v1M686.5 421v1M686.5 423v2"/>
<path stroke="#00ca42" d="M53.5 501v1M65.5 501v1M66.5 505v1M67.5 508v1M68.5 508v1M69.5 504v1M70.5 510v2M71.5 507v4M72.5 512v1M73.5 507v2M74.5 508v1M74.5 513v2M76.5 505v1M76.5 508v2M77.5 508v1M77.5 512v1M79.5 506v1M79.5 510v1M80.5 508v2M82.5 503v1M82.5 508v1M82.5 510v1M82.5 513v1M82.5 515v1M83.5 505v1M84.5 481v1M84.5 486v1M85.5 484v1M85.5 510v1M86.5 480v3M86.5 487v1M86.5 490v1M86.5 498v1M86.5 508v1M87.5 487v2M87.5 496v1M87.5 504v1M88.5 483v1M88.5 502v1M88.5 504v1M89.5 455v1M89.5 477v1M89.5 481v1M89.5 498v1M90.5 461v1M90.5 487v1M90.5 502v1M90.5 507v1M91.5 457v1M91.5 466v1M91.5 478v2M91.5 485v1M91.5 487v2M92.5 465v1M92.5 478v2M92.5 486v1M92.5 488v1M92.5 495v1M93.5 465v1M93.5 488v2M94.5 488v1M94.5 507v1M95.5 465v1M95.5 481v1M96.5 465v1M96.5 483v2M96.5 486v2M96.5 510v1M97.5 512v1M98.5 485v1M99.5 473v1M99.5 478v1M99.5 482v1M99.5 484v1M99.5 510v1M99.5 515v1M100.5 482v1M100.5 510v1M100.5 514v1M101.5 483v1M101.5 513v2M104.5 482v1M105.5 510v2M106.5 512v1M107.5 506v1M108.5 482v1M108.5 506v1M108.5 510v1M109.5 478v1M109.5 482v1M110.5 508v1M111.5 510v1M112.5 511v1M113.5 505v1M113.5 509v1M114.5 506v2M115.5 505v1M118.5 490v2M121.5 495v1M121.5 507v1M122.5 490v1M122.5 494v1M122.5 509v1M124.5 490v1M124.5 492v1M124.5 495v1M124.5 503v2M124.5 507v1M125.5 491v1M125.5 504v1M125.5 508v1M126.5 501v1M127.5 490v1M127.5 504v2M128.5 493v1M132.5 490v1M135.5 486v1M137.5 486v1M138.5 486v1M139.5 483v1M140.5 479v1M141.5 477v1M142.5 474v1M143.5 472v2M144.5 475v1M147.5 504v1M147.5 506v2M148.5 506v1M151.5 505v2M154.5 503v1M154.5 511v1M154.5 515v1M155.5 474v1M156.5 507v1M160.5 505v2M166.5 508v1M175.5 478v1M175.5 480v1M175.5 483v2M176.5 482v1M177.5 485v1M178.5 482v2M179.5 488v1M180.5 485v1M180.5 487v1M180.5 489v1M181.5 486v1M182.5 483v1M182.5 486v1M183.5 483v1M183.5 485v1M184.5 484v1M185.5 481v1M185.5 483v1M186.5 480v1M187.5 482v1M188.5 482v1M188.5 484v1M189.5 481v1M191.5 483v1M194.5 479v1M195.5 478v2M195.5 483v1M197.5 477v2M198.5 483v1M199.5 480v1M204.5 475v1M205.5 384v1M205.5 477v1M208.5 473v2M208.5 476v1M208.5 478v1M210.5 478v1M211.5 476v1M212.5 476v1M214.5 474v1M215.5 467v2M215.5 471v1M215.5 473v1M217.5 474v1M219.5 470v2M221.5 450v1M221.5 472v1M222.5 453v1M223.5 447v1M223.5 467v2M224.5 451v2M226.5 448v3M227.5 392v1M227.5 453v1M235.5 456v1M236.5 479v1M241.5 464v1M245.5 460v1M245.5 476v1M247.5 479v1M248.5 481v1M251.5 488v1M252.5 477v2M254.5 473v1M255.5 490v1M258.5 474v1M258.5 476v1M259.5 479v1M262.5 478v2M264.5 479v1M267.5 477v1M269.5 478v1M270.5 477v1M270.5 480v1M271.5 476v1M277.5 475v1M281.5 483v1M287.5 483v1M287.5 505v1M291.5 485v1M291.5 488v1M291.5 507v1M291.5 515v1M293.5 488v1M302.5 504v1M303.5 498v1M304.5 499v2M309.5 494v1M310.5 503v1M310.5 513v1M311.5 500v1M311.5 507v1M312.5 506v2M313.5 501v1M315.5 505v1M316.5 503v1M317.5 503v1M317.5 505v1M318.5 500v1M318.5 504v1M318.5 507v1M320.5 505v1M321.5 495v1M321.5 502v1M322.5 494v2M322.5 497v1M322.5 501v1M323.5 489v1M323.5 493v1M323.5 500v2M324.5 494v1M325.5 502v1M326.5 492v1M326.5 498v1M326.5 502v1M327.5 505v1M328.5 500v1M328.5 502v1M330.5 501v1M331.5 506v1M332.5 503v1M332.5 507v1M335.5 502v2M337.5 504v1M337.5 508v1M337.5 513v1M339.5 509v2M341.5 507v1M341.5 510v2M341.5 514v1M342.5 505v1M342.5 509v1M343.5 504v1M347.5 505v1M350.5 502v1M352.5 505v1M353.5 504v1M357.5 501v1M361.5 500v3M362.5 499v2M364.5 496v1M364.5 499v1M365.5 498v1M366.5 497v2M366.5 501v2M369.5 494v1M370.5 492v1M371.5 501v2M372.5 494v1M373.5 497v1M374.5 493v1M375.5 496v1M376.5 498v1M377.5 493v1M377.5 495v3M379.5 491v1M379.5 493v2M380.5 492v1M380.5 494v1M381.5 492v1M381.5 495v1M382.5 502v1M383.5 495v1M383.5 500v2M384.5 491v1M387.5 497v1M389.5 494v2M389.5 497v1M390.5 496v1M394.5 496v2M395.5 496v1M396.5 495v3M406.5 497v2M469.5 517v1M472.5 522v1M475.5 526v1M476.5 524v1M481.5 524v1M481.5 529v1M482.5 538v1M485.5 496v1M486.5 498v1M486.5 503v1M487.5 492v1M487.5 495v1M488.5 496v1M488.5 505v1M489.5 482v1M489.5 486v1M489.5 504v1M490.5 476v1M490.5 492v1M492.5 490v1M492.5 498v1M492.5 500v1M494.5 502v1M494.5 505v1M501.5 474v1M502.5 491v1M502.5 496v1M505.5 488v1M506.5 497v1M506.5 500v1M508.5 500v1M509.5 496v1M509.5 498v2M512.5 500v2M513.5 500v1M514.5 498v1M517.5 495v1M519.5 497v1M520.5 497v1M521.5 498v1M522.5 497v1M522.5 502v1M523.5 502v2M524.5 498v2M524.5 503v1M525.5 499v1M525.5 501v1M527.5 501v1M528.5 498v2M532.5 500v1M532.5 503v1M537.5 504v3M538.5 504v2M539.5 505v1M540.5 502v2M551.5 482v1M554.5 485v1M570.5 500v1M572.5 499v1M574.5 498v1M576.5 499v1M579.5 497v1M581.5 494v1M581.5 538v1M583.5 491v1M583.5 538v1M586.5 493v1M588.5 467v2M589.5 453v1M589.5 491v1M590.5 472v1M590.5 474v2M591.5 473v1M593.5 484v1M594.5 489v1M594.5 497v1M596.5 503v1M598.5 510v1M605.5 493v1M606.5 447v1M606.5 449v1M609.5 489v1M622.5 528v1M624.5 533v1M626.5 484v1M626.5 487v1M626.5 495v1M627.5 489v3M628.5 491v1M629.5 488v1M629.5 492v1M630.5 492v1M631.5 490v1M631.5 497v1M631.5 505v1M632.5 497v1M633.5 496v1M633.5 505v1M634.5 493v2M634.5 499v1M635.5 494v1M635.5 503v2M636.5 502v1M636.5 505v1M637.5 449v1M637.5 453v1M637.5 495v1M638.5 455v1M638.5 507v1M638.5 509v2M638.5 513v2M641.5 459v1M642.5 459v1M642.5 469v1M644.5 456v1M646.5 444v1M646.5 453v2M646.5 460v1M647.5 467v1M648.5 463v1M648.5 478v2M649.5 484v1M679.5 408v1M685.5 406v2M685.5 417v1M686.5 417v1M687.5 425v1"/>
<path stroke="#00df28" d="M60.5 502v1M65.5 503v1M67.5 500v1M67.5 506v1M67.5 509v1M68.5 500v1M69.5 508v1M70.5 504v1M72.5 510v1M73.5 506v1M73.5 509v1M74.5 511v1M76.5 511v1M77.5 510v1M79.5 505v1M79.5 512v1M80.5 510v1M80.5 514v1M81.5 500v1M81.5 502v1M81.5 515v1M83.5 509v1M84.5 492v1M84.5 500v1M84.5 502v2M84.5 506v1M85.5 481v1M85.5 506v1M86.5 486v1M86.5 501v1M86.5 504v1M86.5 507v1M87.5 486v1M87.5 503v1M88.5 488v1M88.5 503v1M89.5 468v1M89.5 493v1M91.5 462v1M91.5 482v1M91.5 504v1M91.5 507v1M92.5 482v1M93.5 459v1M93.5 462v1M93.5 481v1M93.5 494v1M93.5 507v1M93.5 509v1M94.5 462v1M94.5 480v1M94.5 498v1M94.5 506v1M95.5 462v1M95.5 466v1M95.5 482v1M95.5 487v1M95.5 507v1M96.5 467v1M96.5 478v1M96.5 506v1M97.5 479v1M97.5 482v1M97.5 495v1M98.5 473v1M98.5 480v1M98.5 486v1M98.5 494v1M98.5 512v1M99.5 512v1M100.5 483v2M100.5 511v1M100.5 513v1M101.5 486v1M101.5 510v2M102.5 512v1M102.5 514v1M104.5 477v1M104.5 481v1M104.5 513v1M105.5 478v2M106.5 478v1M106.5 508v1M107.5 511v1M109.5 481v1M109.5 505v2M109.5 510v2M110.5 478v1M110.5 509v1M114.5 504v1M115.5 504v1M116.5 502v1M116.5 505v1M117.5 491v1M118.5 493v1M120.5 492v1M120.5 504v1M122.5 489v1M122.5 504v1M124.5 493v1M124.5 502v1M125.5 505v1M126.5 502v1M127.5 491v1M128.5 492v1M129.5 490v1M129.5 493v1M130.5 490v1M131.5 487v1M132.5 491v1M133.5 486v1M135.5 487v1M136.5 488v1M137.5 485v1M137.5 487v1M138.5 483v1M139.5 482v1M140.5 477v2M140.5 480v1M141.5 476v1M141.5 479v1M143.5 475v1M143.5 477v1M144.5 476v1M146.5 503v1M148.5 507v1M149.5 509v1M153.5 508v2M153.5 514v1M154.5 505v2M154.5 512v1M155.5 511v1M156.5 509v1M161.5 505v1M174.5 477v1M175.5 479v1M177.5 481v2M177.5 487v1M178.5 484v4M180.5 486v1M182.5 488v1M183.5 489v1M186.5 481v1M186.5 483v1M187.5 480v1M187.5 483v1M188.5 477v1M190.5 481v1M191.5 479v1M193.5 483v2M195.5 477v1M196.5 476v1M196.5 480v1M197.5 482v1M198.5 477v1M198.5 535v1M200.5 475v1M201.5 479v1M201.5 481v1M205.5 379v3M205.5 385v1M205.5 478v1M207.5 477v1M207.5 480v1M208.5 470v3M209.5 476v2M211.5 474v1M213.5 473v1M218.5 468v1M219.5 469v1M220.5 470v1M221.5 447v1M224.5 447v1M226.5 452v1M228.5 452v1M235.5 475v1M235.5 481v1M236.5 477v1M237.5 457v1M238.5 476v1M238.5 479v1M240.5 466v1M243.5 474v1M244.5 475v1M245.5 479v1M247.5 475v1M248.5 482v1M249.5 467v1M249.5 478v1M251.5 486v1M252.5 476v1M257.5 472v1M257.5 479v1M259.5 474v2M260.5 479v1M261.5 479v1M264.5 478v1M265.5 479v1M266.5 476v1M279.5 480v1M281.5 486v1M283.5 491v1M283.5 494v1M286.5 479v1M286.5 481v1M287.5 509v1M290.5 489v1M291.5 480v1M294.5 488v1M300.5 508v1M302.5 502v2M302.5 511v1M304.5 506v1M308.5 511v1M309.5 496v1M310.5 504v2M311.5 498v1M311.5 502v1M316.5 501v1M316.5 504v3M318.5 503v1M322.5 503v1M324.5 495v1M324.5 498v1M325.5 493v1M325.5 495v4M325.5 500v1M327.5 502v1M328.5 496v2M329.5 499v1M329.5 502v1M330.5 503v1M333.5 505v2M335.5 506v2M337.5 503v1M338.5 506v1M338.5 508v2M339.5 507v1M339.5 512v1M340.5 503v1M340.5 508v1M344.5 506v1M345.5 503v1M345.5 505v1M346.5 505v1M348.5 504v1M350.5 503v1M351.5 503v1M352.5 504v1M354.5 504v1M356.5 503v1M357.5 500v1M358.5 499v1M360.5 503v1M364.5 498v1M368.5 495v1M369.5 495v1M370.5 494v1M371.5 494v4M373.5 494v1M374.5 495v1M375.5 495v1M376.5 492v2M380.5 491v1M380.5 493v1M382.5 494v2M382.5 499v1M383.5 494v1M383.5 496v1M383.5 499v1M384.5 481v1M385.5 482v2M385.5 495v1M387.5 483v1M388.5 481v2M388.5 492v1M389.5 496v1M390.5 494v1M391.5 494v3M393.5 494v1M393.5 496v1M395.5 495v1M406.5 500v1M409.5 538v1M413.5 499v1M469.5 519v1M474.5 529v1M475.5 518v1M476.5 520v1M488.5 484v1M489.5 488v1M489.5 490v1M489.5 492v1M489.5 495v1M489.5 503v1M489.5 509v1M489.5 511v1M490.5 483v1M490.5 488v1M490.5 491v1M490.5 493v1M493.5 484v2M494.5 491v1M494.5 498v1M500.5 474v1M502.5 494v1M503.5 497v1M505.5 493v2M506.5 493v1M508.5 494v1M513.5 497v1M515.5 499v2M516.5 498v1M517.5 496v1M518.5 499v1M526.5 500v1M528.5 500v1M529.5 501v1M532.5 504v1M534.5 504v2M535.5 502v1M536.5 503v1M539.5 504v1M540.5 504v1M542.5 503v2M543.5 505v1M573.5 538v1M575.5 502v1M577.5 500v1M580.5 506v1M582.5 538v1M583.5 490v1M584.5 497v1M587.5 497v1M588.5 491v1M590.5 470v1M592.5 484v1M594.5 493v1M595.5 486v1M599.5 497v1M599.5 517v1M601.5 497v1M602.5 499v1M602.5 524v1M607.5 449v1M607.5 490v1M610.5 494v1M610.5 500v1M614.5 503v1M624.5 513v1M625.5 506v1M626.5 483v1M626.5 492v1M627.5 483v1M628.5 488v1M629.5 489v1M629.5 493v1M630.5 499v1M630.5 501v1M630.5 504v1M631.5 502v1M632.5 503v1M633.5 494v1M634.5 501v1M635.5 507v1M636.5 503v1M637.5 452v1M637.5 454v1M638.5 511v1M640.5 460v1M641.5 461v1M642.5 462v1M644.5 455v1M645.5 470v1M646.5 457v1M646.5 461v1M647.5 470v1M648.5 471v1M648.5 475v1M649.5 470v2M654.5 382v1M671.5 392v1M679.5 407v1M685.5 413v1M685.5 420v1"/>
<path stroke="#00f40d" d="M65.5 500v1M65.5 504v1M67.5 503v1M67.5 507v1M67.5 512v1M69.5 507v1M70.5 506v1M71.5 511v1M72.5 509v1M74.5 507v1M75.5 511v1M77.5 505v1M77.5 509v1M78.5 507v1M78.5 510v2M80.5 504v2M81.5 503v1M81.5 510v3M81.5 514v1M81.5 518v1M82.5 506v1M82.5 511v2M83.5 502v2M83.5 507v1M84.5 507v2M85.5 485v1M85.5 509v1M86.5 483v1M86.5 485v1M86.5 488v1M87.5 484v1M87.5 490v1M87.5 493v2M88.5 480v1M88.5 484v1M88.5 501v1M89.5 505v1M89.5 507v1M91.5 459v1M91.5 484v1M91.5 486v1M91.5 493v1M92.5 483v1M92.5 509v1M93.5 461v1M93.5 464v1M93.5 466v1M93.5 485v1M93.5 487v1M93.5 492v1M93.5 510v1M94.5 500v1M95.5 463v1M95.5 506v1M96.5 461v1M96.5 466v1M96.5 485v1M97.5 477v1M97.5 480v1M98.5 462v1M98.5 474v1M98.5 483v1M98.5 509v1M103.5 511v2M103.5 515v1M104.5 510v3M106.5 480v2M106.5 509v1M107.5 507v2M108.5 508v1M109.5 480v1M109.5 508v1M110.5 479v2M112.5 509v1M114.5 505v1M116.5 491v1M116.5 507v1M119.5 490v1M119.5 492v1M119.5 494v1M120.5 491v1M120.5 493v1M120.5 507v2M121.5 491v1M121.5 504v1M122.5 491v1M122.5 506v1M122.5 508v1M123.5 491v1M123.5 493v1M125.5 503v1M125.5 506v1M126.5 494v1M126.5 507v1M129.5 489v1M130.5 492v1M131.5 488v1M131.5 490v1M132.5 489v1M138.5 481v1M138.5 485v1M142.5 475v1M142.5 480v1M144.5 474v1M144.5 477v2M144.5 503v1M145.5 476v1M145.5 503v2M146.5 505v1M147.5 503v1M147.5 505v1M149.5 505v1M150.5 506v1M153.5 510v1M153.5 512v1M155.5 513v1M156.5 505v2M161.5 507v1M174.5 480v1M176.5 480v1M181.5 487v1M182.5 482v1M182.5 487v1M185.5 479v1M188.5 478v1M189.5 480v1M193.5 480v2M195.5 476v1M196.5 478v1M196.5 481v1M197.5 474v2M197.5 481v1M197.5 536v1M198.5 536v1M201.5 480v1M201.5 482v1M207.5 475v1M207.5 478v1M209.5 474v1M212.5 470v1M212.5 473v1M212.5 475v1M213.5 469v1M215.5 469v2M216.5 467v1M217.5 470v1M218.5 471v2M219.5 472v1M220.5 469v1M221.5 451v1M221.5 470v1M222.5 448v1M222.5 467v1M223.5 453v1M224.5 449v1M225.5 450v1M227.5 452v1M228.5 453v1M233.5 506v1M235.5 477v3M236.5 475v1M242.5 460v1M243.5 473v1M245.5 469v1M246.5 472v1M246.5 475v1M248.5 475v1M249.5 470v1M250.5 471v1M251.5 466v1M251.5 468v1M251.5 472v1M251.5 487v1M253.5 476v1M254.5 477v1M254.5 483v1M255.5 470v1M259.5 478v1M265.5 477v2M268.5 476v3M269.5 476v1M281.5 485v1M282.5 476v1M285.5 474v1M289.5 488v1M289.5 494v1M289.5 507v1M293.5 500v1M294.5 490v1M296.5 490v1M305.5 498v1M305.5 506v1M310.5 502v1M311.5 499v1M311.5 505v1M312.5 483v1M312.5 485v2M312.5 501v1M313.5 483v1M313.5 500v1M313.5 502v1M313.5 504v1M314.5 500v1M315.5 503v1M317.5 502v1M318.5 499v1M319.5 500v2M320.5 501v2M320.5 504v1M322.5 496v1M323.5 492v1M324.5 492v2M325.5 491v2M326.5 496v1M326.5 499v2M327.5 495v1M327.5 504v1M328.5 498v1M330.5 500v1M332.5 502v1M332.5 505v1M333.5 504v1M335.5 505v1M336.5 507v2M336.5 510v1M339.5 505v2M339.5 515v1M340.5 505v2M341.5 504v3M341.5 508v1M345.5 504v1M348.5 503v1M352.5 502v2M353.5 503v1M355.5 503v1M357.5 503v1M359.5 503v1M363.5 501v1M365.5 495v1M365.5 500v1M366.5 499v1M367.5 498v1M369.5 498v2M370.5 493v1M370.5 495v1M370.5 497v1M371.5 498v2M372.5 496v1M374.5 494v1M374.5 496v1M376.5 491v1M376.5 494v1M379.5 495v1M380.5 483v1M381.5 496v1M383.5 498v1M384.5 482v1M385.5 481v1M387.5 482v1M387.5 496v1M388.5 483v1M392.5 495v1M392.5 497v1M393.5 493v1M422.5 538v1M437.5 538v1M470.5 529v1M472.5 519v1M475.5 521v1M476.5 522v1M477.5 520v1M480.5 527v1M485.5 497v1M487.5 488v1M487.5 498v1M488.5 485v1M488.5 492v2M489.5 498v1M494.5 496v1M502.5 490v1M502.5 492v1M503.5 487v2M503.5 492v1M503.5 495v1M506.5 492v1M511.5 499v1M513.5 498v1M514.5 499v1M516.5 501v1M517.5 500v1M519.5 500v1M520.5 501v1M522.5 498v1M523.5 499v1M527.5 502v1M530.5 502v1M530.5 504v2M531.5 502v1M532.5 502v1M534.5 503v1M539.5 506v1M575.5 538v1M577.5 499v1M580.5 497v1M580.5 507v1M581.5 506v1M590.5 494v1M591.5 458v1M595.5 497v1M595.5 506v1M598.5 493v1M598.5 496v1M599.5 502v1M599.5 507v1M603.5 516v1M603.5 525v1M606.5 493v1M610.5 491v1M611.5 499v1M613.5 489v1M613.5 501v1M626.5 494v1M627.5 487v1M627.5 493v2M628.5 487v1M628.5 490v1M632.5 493v1M633.5 500v2M633.5 503v1M634.5 495v1M634.5 508v1M635.5 495v1M636.5 501v1M638.5 458v1M638.5 500v1M648.5 469v1M649.5 469v1M649.5 472v1M649.5 482v1M654.5 388v1M685.5 401v1M685.5 408v1M685.5 422v1"/>
<path stroke="#1eff00" d="M62.5 504v1M65.5 505v2M67.5 502v1M67.5 504v1M67.5 511v1M68.5 501v2M68.5 505v1M68.5 509v1M69.5 505v1M70.5 505v1M70.5 509v1M74.5 509v1M75.5 509v1M76.5 506v1M78.5 509v1M78.5 514v1M79.5 508v1M79.5 511v1M80.5 506v1M81.5 504v1M81.5 506v3M81.5 513v1M81.5 517v1M81.5 519v1M82.5 500v1M82.5 505v1M85.5 498v1M85.5 502v1M85.5 507v1M87.5 500v1M87.5 502v1M88.5 500v1M88.5 505v1M89.5 467v1M89.5 494v1M89.5 501v1M89.5 506v1M90.5 457v2M90.5 463v1M91.5 483v1M91.5 491v1M91.5 508v2M92.5 480v2M92.5 508v1M93.5 486v1M93.5 505v1M94.5 487v1M95.5 483v1M95.5 485v2M95.5 509v3M96.5 479v1M96.5 495v1M96.5 508v2M96.5 511v1M97.5 478v1M97.5 481v1M97.5 485v1M97.5 487v1M98.5 481v2M98.5 507v1M99.5 481v1M100.5 486v1M103.5 513v1M104.5 479v1M106.5 479v1M106.5 506v1M106.5 510v2M108.5 479v2M108.5 509v1M111.5 509v1M114.5 508v2M115.5 507v1M116.5 490v1M116.5 504v1M116.5 508v1M117.5 490v1M117.5 503v1M117.5 505v1M119.5 493v1M121.5 492v1M122.5 492v1M122.5 503v1M122.5 507v1M123.5 492v1M123.5 495v1M125.5 492v1M126.5 490v1M127.5 502v1M128.5 491v1M130.5 491v1M134.5 490v1M136.5 485v1M136.5 487v1M138.5 484v1M139.5 479v1M139.5 481v1M140.5 481v1M144.5 502v1M145.5 505v1M149.5 508v1M150.5 507v1M153.5 511v1M154.5 509v1M155.5 510v1M161.5 506v1M175.5 481v1M178.5 488v1M185.5 478v1M185.5 482v1M186.5 482v1M188.5 476v1M188.5 481v1M188.5 483v1M193.5 478v1M197.5 535v1M198.5 537v1M203.5 480v1M204.5 472v1M204.5 479v1M205.5 382v1M205.5 475v1M206.5 478v2M206.5 481v1M207.5 471v1M207.5 473v1M207.5 476v1M208.5 469v1M209.5 475v1M210.5 470v2M212.5 471v1M212.5 477v1M218.5 473v1M219.5 467v1M221.5 468v1M233.5 503v3M237.5 477v2M239.5 460v1M248.5 476v1M250.5 466v1M251.5 477v1M253.5 475v1M256.5 484v1M258.5 486v1M260.5 480v1M261.5 478v1M262.5 477v1M274.5 478v2M277.5 474v1M279.5 479v1M281.5 518v1M288.5 508v1M295.5 514v1M302.5 509v1M308.5 512v1M310.5 493v1M310.5 500v1M311.5 501v1M311.5 503v1M312.5 479v1M312.5 499v1M312.5 502v2M313.5 485v3M314.5 501v1M315.5 499v2M316.5 500v1M319.5 503v1M319.5 505v1M320.5 499v2M322.5 493v1M322.5 498v1M323.5 494v1M323.5 502v1M324.5 491v1M325.5 499v1M326.5 501v1M327.5 497v1M327.5 499v1M327.5 503v1M330.5 502v1M331.5 502v2M332.5 504v1M333.5 507v1M334.5 502v2M335.5 504v1M337.5 509v1M338.5 504v2M338.5 507v1M339.5 511v1M344.5 503v2M345.5 502v1M346.5 502v2M348.5 501v1M349.5 502v2M353.5 502v1M359.5 500v1M363.5 499v1M366.5 496v1M367.5 499v1M369.5 496v1M376.5 495v2M379.5 482v2M380.5 481v2M381.5 491v1M381.5 494v1M382.5 497v1M387.5 481v1M387.5 493v2M390.5 493v1M394.5 495v1M401.5 538v1M464.5 538v1M473.5 524v1M474.5 521v1M475.5 527v1M477.5 521v1M480.5 538v1M487.5 486v1M488.5 538v1M489.5 483v2M489.5 487v1M489.5 489v1M490.5 478v1M494.5 487v1M503.5 491v1M506.5 490v1M510.5 494v1M511.5 498v1M511.5 500v1M512.5 498v1M518.5 501v1M519.5 501v1M520.5 499v1M521.5 502v1M525.5 502v1M528.5 503v1M530.5 503v1M535.5 503v1M537.5 503v1M543.5 504v1M573.5 503v1M573.5 505v1M576.5 506v1M580.5 508v1M581.5 496v1M581.5 507v2M585.5 495v1M585.5 538v1M586.5 502v1M587.5 493v1M590.5 486v1M591.5 490v1M597.5 508v1M599.5 516v1M607.5 447v1M607.5 495v1M612.5 494v1M617.5 512v1M619.5 495v1M621.5 530v1M622.5 515v1M625.5 510v1M630.5 495v1M633.5 492v1M633.5 495v1M638.5 498v1M642.5 467v1M648.5 470v1M648.5 476v1M649.5 483v1M649.5 485v1M649.5 488v1M652.5 394v1M654.5 384v1M654.5 387v1M654.5 390v1M671.5 393v1M685.5 402v1M685.5 410v1M685.5 419v1M685.5 423v1M687.5 423v2"/>
<path stroke="#59ff00" d="M65.5 502v1M67.5 501v1M67.5 505v1M68.5 507v1M70.5 507v1M71.5 506v1M72.5 507v1M74.5 506v1M74.5 512v1M75.5 507v1M75.5 512v1M79.5 509v1M80.5 507v1M81.5 501v1M82.5 507v1M83.5 504v1M84.5 501v1M85.5 501v1M85.5 503v1M86.5 484v1M87.5 491v1M88.5 497v1M89.5 503v2M90.5 497v1M91.5 495v1M91.5 505v1M92.5 494v1M92.5 496v1M93.5 480v1M93.5 508v1M94.5 483v2M94.5 486v1M94.5 489v1M94.5 499v1M98.5 484v1M99.5 474v1M100.5 485v1M101.5 484v1M104.5 478v1M107.5 510v1M108.5 507v1M108.5 511v1M109.5 507v1M109.5 509v1M111.5 507v2M116.5 489v1M117.5 488v1M117.5 504v1M118.5 492v1M119.5 491v1M121.5 506v1M122.5 505v1M126.5 491v1M126.5 493v1M126.5 504v1M134.5 486v2M136.5 486v1M142.5 476v2M145.5 477v2M146.5 502v1M149.5 507v1M153.5 513v1M154.5 504v1M154.5 508v1M155.5 506v1M183.5 484v1M183.5 486v1M186.5 478v1M188.5 479v2M197.5 537v1M198.5 476v1M198.5 481v1M201.5 478v1M204.5 477v1M205.5 383v1M206.5 480v1M209.5 473v1M217.5 473v1M218.5 467v1M221.5 469v1M234.5 460v1M238.5 461v1M244.5 461v1M249.5 468v1M254.5 488v1M257.5 477v1M258.5 478v3M260.5 477v1M263.5 478v1M264.5 477v1M270.5 479v1M271.5 475v1M294.5 484v1M294.5 492v1M296.5 492v1M303.5 499v1M303.5 508v1M307.5 493v1M308.5 514v1M309.5 500v1M309.5 506v1M313.5 480v2M314.5 505v1M315.5 501v1M315.5 504v1M316.5 502v1M317.5 498v1M318.5 501v1M319.5 502v1M320.5 503v1M323.5 496v2M324.5 496v2M324.5 499v1M325.5 494v1M326.5 493v2M327.5 501v1M331.5 504v1M332.5 501v1M336.5 505v1M337.5 505v1M341.5 502v2M341.5 509v1M342.5 503v2M342.5 506v1M349.5 504v1M352.5 501v1M354.5 501v2M355.5 501v1M360.5 500v1M360.5 502v1M363.5 500v1M365.5 499v1M367.5 495v1M379.5 481v1M379.5 492v1M379.5 538v1M381.5 493v1M383.5 492v2M383.5 538v1M384.5 483v1M392.5 494v1M392.5 496v1M396.5 538v1M427.5 538v1M469.5 518v1M469.5 525v1M470.5 526v1M472.5 521v1M473.5 527v1M503.5 489v1M508.5 495v1M508.5 498v1M510.5 495v2M512.5 499v1M517.5 497v1M523.5 501v1M528.5 501v2M533.5 502v1M535.5 504v1M571.5 504v1M576.5 538v1M591.5 503v1M593.5 485v1M595.5 484v1M595.5 494v1M599.5 487v1M600.5 504v1M618.5 497v1M624.5 521v1M629.5 501v1M629.5 504v1M631.5 498v1M631.5 503v1M634.5 506v1M635.5 501v1M637.5 456v1M646.5 462v1M649.5 477v1M649.5 480v1M649.5 486v2M652.5 393v1M652.5 397v1M653.5 394v1M654.5 383v1M654.5 385v1M654.5 400v1M671.5 391v1M685.5 403v1M685.5 412v1M685.5 414v1"/>
<path stroke="#95ff00" d="M68.5 503v1M70.5 508v1M75.5 506v1M75.5 508v1M75.5 510v1M78.5 506v1M78.5 508v1M78.5 512v2M79.5 507v1M81.5 505v1M81.5 509v1M81.5 516v1M82.5 501v1M82.5 504v1M84.5 505v1M85.5 505v1M85.5 508v1M93.5 482v3M93.5 506v1M94.5 478v1M95.5 508v1M96.5 507v1M97.5 473v1M97.5 486v1M100.5 512v1M103.5 509v2M107.5 509v1M116.5 503v1M116.5 506v1M117.5 489v1M117.5 502v1M120.5 505v2M121.5 494v1M121.5 505v1M126.5 492v1M126.5 503v1M128.5 490v1M129.5 491v2M133.5 488v2M133.5 491v1M134.5 488v2M142.5 478v1M145.5 473v1M145.5 475v1M149.5 503v1M151.5 507v1M153.5 507v1M183.5 482v1M189.5 482v2M193.5 479v1M195.5 480v2M196.5 477v1M196.5 482v1M198.5 479v1M203.5 477v1M206.5 476v2M212.5 474v1M243.5 461v1M244.5 466v1M246.5 466v1M247.5 463v1M254.5 472v1M256.5 482v1M257.5 478v1M260.5 478v1M269.5 477v1M274.5 477v1M279.5 478v1M287.5 499v1M306.5 512v1M308.5 500v1M312.5 478v1M312.5 481v1M312.5 500v1M312.5 505v1M314.5 502v2M317.5 499v3M318.5 502v1M327.5 493v2M327.5 498v1M333.5 502v2M337.5 506v1M339.5 503v1M339.5 508v1M344.5 505v1M354.5 503v1M355.5 500v1M359.5 501v1M360.5 501v1M365.5 496v2M367.5 496v2M371.5 493v1M382.5 493v1M392.5 493v1M444.5 538v1M459.5 513v1M468.5 517v1M468.5 538v1M471.5 519v1M472.5 520v1M473.5 538v1M475.5 517v1M475.5 529v1M476.5 521v1M502.5 488v1M508.5 497v1M510.5 497v2M516.5 499v1M517.5 499v1M518.5 500v1M519.5 498v2M522.5 499v1M523.5 500v1M574.5 505v1M575.5 500v1M579.5 498v1M583.5 494v1M585.5 487v1M590.5 463v1M591.5 460v2M591.5 491v1M593.5 495v2M598.5 500v1M598.5 503v1M598.5 507v1M598.5 512v1M602.5 500v1M602.5 502v1M608.5 495v1M609.5 496v1M611.5 509v1M629.5 494v1M630.5 494v1M630.5 498v1M630.5 500v1M631.5 492v2M631.5 500v1M634.5 496v1M634.5 505v1M637.5 455v1M652.5 396v1M652.5 401v1M653.5 398v1M653.5 400v1M654.5 386v1M654.5 389v1M654.5 393v1M654.5 396v1M685.5 415v1"/>
<path stroke="#d0ff00" d="M68.5 504v1M74.5 510v1M78.5 505v1M81.5 498v2M89.5 502v1M91.5 503v1M91.5 506v1M94.5 479v1M94.5 482v1M94.5 485v1M97.5 483v1M103.5 514v1M121.5 493v1M123.5 494v1M133.5 487v1M133.5 490v1M142.5 479v1M145.5 474v1M149.5 504v1M149.5 506v1M155.5 497v1M155.5 500v1M181.5 485v1M189.5 479v1M196.5 479v1M198.5 478v1M198.5 480v1M201.5 476v1M204.5 474v1M238.5 463v1M239.5 455v1M250.5 476v1M253.5 472v1M254.5 476v1M263.5 477v1M265.5 476v1M298.5 501v1M310.5 507v1M312.5 482v1M312.5 484v1M312.5 487v1M312.5 504v1M313.5 479v1M313.5 482v1M314.5 504v1M319.5 504v1M327.5 492v1M327.5 500v1M347.5 504v1M354.5 500v1M359.5 502v1M382.5 492v1M382.5 496v1M414.5 538v1M450.5 538v1M458.5 513v1M459.5 511v1M470.5 524v2M471.5 517v1M471.5 522v1M473.5 522v1M474.5 522v1M476.5 523v1M477.5 519v1M508.5 496v1M520.5 500v1M521.5 501v1M522.5 501v1M524.5 500v1M524.5 502v1M575.5 503v1M578.5 497v1M586.5 488v1M591.5 462v1M598.5 502v1M601.5 494v1M601.5 506v1M604.5 500v1M608.5 489v1M629.5 496v3M631.5 504v1M634.5 492v1M634.5 502v1M638.5 499v1M638.5 501v1M638.5 506v1M652.5 392v1M652.5 403v1M653.5 402v1M653.5 404v1M654.5 392v1M654.5 394v1"/>
<path stroke="#fffa00" d="M68.5 506v1M84.5 504v1M85.5 504v1M94.5 481v1M97.5 484v1M156.5 498v1M193.5 477v1M201.5 477v1M212.5 472v1M217.5 471v1M219.5 468v1M236.5 455v1M239.5 462v2M243.5 457v1M247.5 459v1M253.5 480v1M254.5 475v1M264.5 476v1M274.5 476v1M304.5 502v1M309.5 507v1M312.5 480v1M313.5 478v1M313.5 484v1M327.5 496v1M347.5 503v1M394.5 538v1M458.5 511v2M473.5 523v1M574.5 499v1M576.5 502v1M585.5 490v1M590.5 462v1M591.5 463v1M600.5 529v1M605.5 507v1M615.5 492v1M624.5 507v1M631.5 494v1M634.5 498v1M634.5 500v1M653.5 390v1M653.5 397v1M654.5 391v1"/>
<path stroke="#ffe300" d="M155.5 498v1M156.5 500v1M307.5 511v1M309.5 498v1M339.5 504v1M446.5 538v1M459.5 512v1M472.5 527v1M475.5 524v2M517.5 498v1M522.5 500v1M524.5 501v1M582.5 493v1M584.5 489v1M584.5 495v1M591.5 465v1M591.5 467v1M629.5 491v1M629.5 500v1M631.5 491v1M631.5 495v1M634.5 497v1M638.5 503v1M638.5 505v1M652.5 398v2M652.5 402v1M653.5 391v1M653.5 396v1M653.5 399v1M653.5 401v1M654.5 395v1M654.5 397v3"/>
<path stroke="#ffcc00" d="M127.5 527v1M261.5 477v1M266.5 475v1M303.5 507v1M307.5 494v1M380.5 538v1M470.5 522v1M472.5 524v1M472.5 526v1M586.5 489v1M590.5 461v1M590.5 464v4M591.5 464v1M591.5 466v1M631.5 496v1M631.5 499v1M638.5 502v1M638.5 504v1M652.5 404v1M653.5 393v1"/>
<path stroke="#ffb400" d="M127.5 525v1M128.5 527v2M155.5 499v1M156.5 497v1M156.5 499v1M249.5 536v1M368.5 538v1M390.5 538v1M406.5 538v1M469.5 526v1M470.5 523v1M471.5 520v2M471.5 523v2M471.5 527v1M472.5 528v1M573.5 508v2M590.5 460v1M652.5 391v1M652.5 395v1M652.5 400v1M653.5 392v1M653.5 395v1M653.5 403v1"/>
<path stroke="#ff9d00" d="M127.5 529v1M128.5 525v1M128.5 529v1M249.5 535v1M250.5 535v1M572.5 508v3M573.5 510v1M638.5 497v1M652.5 390v1"/>
<path stroke="#ff8600" d="M236.5 505v1M249.5 537v1M250.5 536v1"/>
<path stroke="#ff6900" d="M127.5 526v1M128.5 526v1M236.5 504v1"/>
<path stroke="#ff4900" d="M250.5 537v1"/>
<path stroke="#ff2a00" d="M127.5 528v1M260.5 527v1"/>
<path stroke="#ff0b00" d="M259.5 526v1M631.5 516v2"/>
<path stroke="#f0000f" d="M259.5 528v1M260.5 526v1M260.5 528v1M631.5 510v1M631.5 512v1"/>
<path stroke="#da0025" d="M259.5 527v1M631.5 509v1M631.5 514v1"/>
<path stroke="#c3003c" d="M631.5 511v1M631.5 513v1M631.5 515v1"/>
<path stroke="#960069" d="M77.5 538v1"/>
<path stroke="#800080" d="M78.5 538v1M104.5 538v1M105.5 538v1M106.5 538v1M107.5 538v1M108.5 538v1M109.5 538v1M110.5 538v1M111.5 538v1M112.5 538v1M113.5 538v1M114.5 538v1M115.5 538v1M116.5 538v1M117.5 538v1M118.5 538v1M119.5 538v1M120.5 538v1M121.5 538v1M122.5 538v1M123.5 538v1M124.5 538v1M125.5 538v1M126.5 538v1M127.5 538v1M128.5 538v1M129.5 538v1M130.5 538v1M131.5 538v1M132.5 538v1M133.5 538v1M134.5 538v1M135.5 538v1M136.5 538v1M137.5 538v1M138.5 538v1M139.5 538v1M140.5 538v1M141.5 538v1M142.5 538v1M143.5 538v1M144.5 538v1M145.5 538v1M146.5 538v1M147.5 538v1M148.5 538v1M149.5 538v1M150.5 538v1M151.5 538v1M152.5 538v1M153.5 538v1M154.5 538v1M155.5 538v1M156.5 538v1M157.5 538v1M159.5 538v1M160.5 538v1M161.5 538v1M162.5 538v1M163.5 538v1M164.5 538v1M165.5 538v1M166.5 538v1M167.5 538v1M169.5 538v1M170.5 538v1M172.5 538v1M173.5 538v1M187.5 538v1M188.5 538v1M189.5 538v1M190.5 538v1M191.5 538v1M192.5 538v1M193.5 538v1M194.5 538v1M195.5 538v1M196.5 538v1M197.5 538v1M198.5 538v1M199.5 538v1M200.5 538v1M201.5 538v1M202.5 538v1M203.5 538v1M204.5 538v1M205.5 538v1M206.5 538v1M207.5 538v1M208.5 538v1M210.5 538v1M211.5 538v1M212.5 538v1M213.5 538v1M214.5 538v1M215.5 538v1M216.5 538v1M217.5 538v1M218.5 538v1M219.5 538v1M220.5 538v1M221.5 538v1M222.5 538v1M223.5 538v1M224.5 538v1M225.5 538v1M234.5 538v1M235.5 538v1M238.5 538v1M239.5 538v1M268.5 538v1M269.5 538v1M270.5 538v1M271.5 538v1M272.5 538v1M273.5 538v1M274.5 538v1M275.5 538v1M276.5 538v1M277.5 538v1M278.5 538v1M279.5 538v1M280.5 538v1M281.5 538v1M282.5 538v1M283.5 538v1M284.5 538v1M285.5 538v1M286.5 538v1M287.5 538v1M288.5 538v1M289.5 538v1M290.5 538v1M291.5 538v1M292.5 538v1M293.5 538v1M294.5 538v1M295.5 538v1M296.5 538v1M297.5 538v1M298.5 538v1M299.5 538v1M300.5 538v1M301.5 538v1M302.5 538v1M303.5 538v1M304.5 538v1M305.5 538v1M306.5 538v1M307.5 538v1M308.5 538v1M309.5 538v1M310.5 538v1M311.5 538v1M312.5 538v1M313.5 538v1M314.5 538v1M315.5 538v1M316.5 538v1M317.5 538v1M318.5 538v1M319.5 538v1M320.5 538v1M321.5 538v1M322.5 538v1M323.5 538v1M324.5 538v1M325.5 538v1M326.5 538v1M327.5 538v1M328.5 538v1M329.5 538v1M330.5 538v1M331.5 538v1M332.5 538v1M333.5 538v1M334.5 538v1M335.5 538v1M336.5 538v1M337.5 538v1M338.5 538v1M339.5 538v1M340.5 538v1M341.5 538v1M342.5 538v1M343.5 538v1M344.5 538v1M345.5 538v1M346.5 538v1M347.5 538v1M348.5 538v1M349.5 538v1M350.5 538v1M351.5 538v1M352.5 538v1M353.5 538v1M354.5 538v1M355.5 538v1M356.5 538v1M357.5 538v1M358.5 538v1M359.5 538v1M360.5 538v1M361.5 538v1M362.5 538v1M363.5 538v1M364.5 538v1M365.5 538v1M366.5 538v1M367.5 538v1M369.5 538v1M370.5 538v1M371.5 538v1M372.5 538v1M373.5 538v1M374.5 538v1M375.5 538v1M376.5 538v1M377.5 538v1M381.5 538v1M382.5 538v1M384.5 538v1M385.5 538v1M386.5 538v1M387.5 538v1M388.5 538v1M389.5 538v1M391.5 538v1M392.5 538v1M393.5 538v1M395.5 538v1M397.5 538v1M398.5 538v1M399.5 538v1M403.5 538v1M405.5 538v1M407.5 538v1M408.5 538v1M410.5 538v1M413.5 538v1M415.5 538v1M417.5 538v1M418.5 538v1M419.5 538v1M420.5 538v1M421.5 538v1M423.5 538v1M425.5 538v1M426.5 538v1M428.5 538v1M429.5 538v1M430.5 538v1M431.5 538v1M433.5 538v1M434.5 538v1M435.5 538v1M436.5 538v1M438.5 538v1M439.5 538v1M440.5 538v1M447.5 538v1M449.5 538v1M451.5 538v1M453.5 538v1M454.5 538v1M455.5 538v1M456.5 538v1M458.5 538v1M460.5 538v1M462.5 538v1M463.5 538v1M465.5 538v1M466.5 538v1M467.5 538v1M470.5 538v1M472.5 538v1M474.5 538v1M475.5 538v1M476.5 538v1M478.5 538v1M479.5 538v1M484.5 538v1M486.5 538v1M487.5 538v1M489.5 538v1M490.5 538v1M491.5 538v1M492.5 538v1M493.5 538v1M494.5 538v1M495.5 538v1M496.5 538v1M497.5 538v1M498.5 538v1M499.5 538v1M500.5 538v1M501.5 538v1M502.5 538v1M503.5 538v1M504.5 538v1M505.5 538v1M506.5 538v1M507.5 538v1M508.5 538v1M509.5 538v1M510.5 538v1M511.5 538v1M512.5 538v1M513.5 538v1M514.5 538v1M515.5 538v1M516.5 538v1M517.5 538v1M518.5 538v1M519.5 538v1M520.5 538v1M521.5 538v1M522.5 538v1M523.5 538v1M524.5 538v1M525.5 538v1M526.5 538v1M527.5 538v1M528.5 538v1M529.5 538v1M530.5 538v1M531.5 538v1M532.5 538v1M533.5 538v1M534.5 538v1M535.5 538v1M536.5 538v1M538.5 538v1M539.5 538v1M540.5 538v1M541.5 538v1M542.5 538v1M543.5 538v1M544.5 538v1M545.5 538v1M546.5 538v1M547.5 538v1M548.5 538v1M549.5 538v1M550.5 538v1M551.5 538v1M552.5 538v1M553.5 538v1M554.5 538v1M555.5 538v1M556.5 538v1M557.5 538v1M558.5 538v1M559.5 538v1M560.5 538v1M561.5 538v1M562.5 538v1M563.5 538v1M564.5 538v1M565.5 538v1M566.5 538v1M567.5 538v1M568.5 538v1M569.5 538v1M570.5 538v1M592.5 538v1M593.5 538v1M594.5 538v1M595.5 538v1M596.5 538v1M597.5 538v1M598.5 538v1M599.5 538v1M600.5 538v1M601.5 538v1M602.5 538v1M603.5 538v1M604.5 538v1M605.5 538v1M606.5 538v1M607.5 538v1M608.5 538v1M609.5 538v1M610.5 538v1M611.5 538v1M612.5 538v1M613.5 538v1M614.5 538v1M615.5 538v1M616.5 538v1M617.5 538v1M618.5 538v1M619.5 538v1M620.5 538v1M621.5 538v1M622.5 538v1M623.5 538v1M624.5 538v1M625.5 538v1M626.5 538v1M627.5 538v1M628.5 538v1M629.5 538v1M630.5 538v1M631.5 538v1M632.5 538v1M633.5 538v1M634.5 538v1M635.5 538v1M636.5 538v1M637.5 538v1M638.5 538v1M639.5 538v1M640.5 538v1M641.5 538v1M642.5 538v1M643.5 538v1M644.5 538v1M645.5 538v1M646.5 538v1M647.5 538v1M648.5 538v1M649.5 538v1M650.5 538v1M651.5 538v1M652.5 538v1M653.5 538v1M654.5 538v1M655.5 538v1M656.5 538v1M657.5 538v1M658.5 538v1M659.5 538v1M660.5 538v1M661.5 538v1M662.5 538v1M663.5 538v1M664.5 538v1M665.5 538v1M666.5 538v1M667.5 538v1M668.5 538v1M669.5 538v1M670.5 538v1M671.5 538v1M672.5 538v1M675.5 538v1M676.5 538v1M677.5 538v1M680.5 538v1M681.5 538v1M685.5 538v1M686.5 538v1M687.5 538v1"/>
</g>
</g>
<g shape-rendering="crispEdges">
<rect x="50.5" y="39.5" width="650" height="230" fill="none" stroke="#000" stroke-width="1"/>
<path d="M51 250.5h5M700 250.5h-5M51 231.5h5M700 231.5h-5M51 212.5h5M700 212.5h-5M51 193.5h5M700 193.5h-5M51 174.5h5M700 174.5h-5M51 154.5h5M700 154.5h-5M51 135.5h5M700 135.5h-5M51 116.5h5M700 116.5h-5M51 97.5h5M700 97.5h-5M51 78.5h5M700 78.5h-5M51 59.5h5M700 59.5h-5M158.5 269v-5M158.5 40v5M266.5 269v-5M266.5 40v5M375.5 269v-5M375.5 40v5M483.5 269v-5M483.5 40v5M591.5 269v-5M591.5 40v5" stroke="#000" stroke-width="1" fill="none"/>
<text x="46.5" y="273.5" text-anchor="end">0</text>
<text x="46.5" y="254.5" text-anchor="end">1</text>
<text x="46.5" y="235.5" text-anchor="end">2</text>
<text x="46.5" y="216.5" text-anchor="end">3</text>
<text x="46.5" y="197.5" text-anchor="end">4</text>
<text x="46.5" y="178.5" text-anchor="end">5</text>
<text x="46.5" y="158.5" text-anchor="end">6</text>
<text x="46.5" y="139.5" text-anchor="end">7</text>
<text x="46.5" y="120.5" text-anchor="end">8</text>
<text x="46.5" y="101.5" text-anchor="end">9</text>
<text x="46.5" y="82.5" text-anchor="end">10</text>
<text x="46.5" y="63.5" text-anchor="end">11</text>
<text x="46.5" y="43.5" text-anchor="end">12</text>
<text x="50" y="284" text-anchor="middle" textLength="29.5" lengthAdjust="spacingAndGlyphs">00:00</text>
<text x="158" y="284" text-anchor="middle" textLength="29.5" lengthAdjust="spacingAndGlyphs">04:00</text>
<text x="266" y="284" text-anchor="middle" textLength="29.5" lengthAdjust="spacingAndGlyphs">08:00</text>
<text x="375" y="284" text-anchor="middle" textLength="29.5" lengthAdjust="spacingAndGlyphs">12:00</text>
<text x="483" y="284" text-anchor="middle" textLength="29.5" lengthAdjust="spacingAndGlyphs">16:00</text>
<text x="591" y="284" text-anchor="middle" textLength="29.5" lengthAdjust="spacingAndGlyphs">20:00</text>
<text x="700" y="284" text-anchor="middle" textLength="29.5" lengthAdjust="spacingAndGlyphs">00:00</text>
<text x="375" y="301.3" text-anchor="middle" textLength="61" lengthAdjust="spacingAndGlyphs">Time (UTC)</text>
<text transform="translate(27 155.5) rotate(-90)" text-anchor="middle" textLength="61.5" lengthAdjust="spacingAndGlyphs">Height (km)</text>
<rect x="50.5" y="309.5" width="650" height="230" fill="none" stroke="#000" stroke-width="1"/>
<path d="M51 520.5h5M700 520.5h-5M51 501.5h5M700 501.5h-5M51 482.5h5M700 482.5h-5M51 463.5h5M700 463.5h-5M51 444.5h5M700 444.5h-5M51 424.5h5M700 424.5h-5M51 405.5h5M700 405.5h-5M51 386.5h5M700 386.5h-5M51 367.5h5M700 367.5h-5M51 348.5h5M700 348.5h-5M51 329.5h5M700 329.5h-5M158.5 539v-5M158.5 310v5M266.5 539v-5M266.5 310v5M375.5 539v-5M375.5 310v5M483.5 539v-5M483.5 310v5M591.5 539v-5M591.5 310v5" stroke="#000" stroke-width="1" fill="none"/>
<text x="46.5" y="543.5" text-anchor="end">0</text>
<text x="46.5" y="524.5" text-anchor="end">1</text>
<text x="46.5" y="505.5" text-anchor="end">2</text>
<text x="46.5" y="486.5" text-anchor="end">3</text>
<text x="46.5" y="467.5" text-anchor="end">4</text>
<text x="46.5" y="448.5" text-anchor="end">5</text>
<text x="46.5" y="428.5" text-anchor="end">6</text>
<text x="46.5" y="409.5" text-anchor="end">7</text>
<text x="46.5" y="390.5" text-anchor="end">8</text>
<text x="46.5" y="371.5" text-anchor="end">9</text>
<text x="46.5" y="352.5" text-anchor="end">10</text>
<text x="46.5" y="333.5" text-anchor="end">11</text>
<text x="46.5" y="313.5" text-anchor="end">12</text>
<text x="50" y="554" text-anchor="middle" textLength="29.5" lengthAdjust="spacingAndGlyphs">00:00</text>
<text x="158" y="554" text-anchor="middle" textLength="29.5" lengthAdjust="spacingAndGlyphs">04:00</text>
<text x="266" y="554" text-anchor="middle" textLength="29.5" lengthAdjust="spacingAndGlyphs">08:00</text>
<text x="375" y="554" text-anchor="middle" textLength="29.5" lengthAdjust="spacingAndGlyphs">12:00</text>
<text x="483" y="554" text-anchor="middle" textLength="29.5" lengthAdjust="spacingAndGlyphs">16:00</text>
<text x="591" y="554" text-anchor="middle" textLength="29.5" lengthAdjust="spacingAndGlyphs">20:00</text>
<text x="700" y="554" text-anchor="middle" textLength="29.5" lengthAdjust="spacingAndGlyphs">00:00</text>
<text x="375" y="571.3" text-anchor="middle" textLength="61" lengthAdjust="spacingAndGlyphs">Time (UTC)</text>
<text transform="translate(27 425.5) rotate(-90)" text-anchor="middle" textLength="61.5" lengthAdjust="spacingAndGlyphs">Height (km)</text>
<text x="54" y="32.5" textLength="70" lengthAdjust="spacingAndGlyphs">14 Nov 2019</text>
<text x="57" y="55.5" font-weight="bold" textLength="207" lengthAdjust="spacingAndGlyphs">Attenuated backscatter coefficient</text>
<text x="57" y="325.5" font-weight="bold" textLength="96" lengthAdjust="spacingAndGlyphs">Doppler velocity</text>
<text x="3" y="572.5" font-weight="bold" textLength="173" lengthAdjust="spacingAndGlyphs">TROPOS HALO Doppler Lidar</text>
<rect x="754" y="231.50" width="17" height="2.80" fill="#d8d8e8"/>
<rect x="754" y="229.00" width="17" height="2.80" fill="#d0d0e9"/>
<rect x="754" y="226.50" width="17" height="2.80" fill="#c8c8ea"/>
<rect x="754" y="224.00" width="17" height="2.80" fill="#c1c1eb"/>
<rect x="754" y="221.50" width="17" height="2.80" fill="#b9b9ec"/>
<rect x="754" y="219.00" width="17" height="2.80" fill="#b1b1ed"/>
<rect x="754" y="216.50" width="17" height="2.80" fill="#a8a8ee"/>
<rect x="754" y="214.00" width="17" height="2.80" fill="#9595f0"/>
<rect x="754" y="211.50" width="17" height="2.80" fill="#8282f2"/>
<rect x="754" y="209.00" width="17" height="2.80" fill="#6f6ff4"/>
<rect x="754" y="206.50" width="17" height="2.80" fill="#5c5cf6"/>
<rect x="754" y="204.00" width="17" height="2.80" fill="#4949f8"/>
<rect x="754" y="201.50" width="17" height="2.80" fill="#3636fa"/>
<rect x="754" y="199.00" width="17" height="2.80" fill="#2323fb"/>
<rect x="754" y="196.50" width="17" height="2.80" fill="#1010fd"/>
<rect x="754" y="194.00" width="17" height="2.80" fill="#0003fd"/>
<rect x="754" y="191.50" width="17" height="2.80" fill="#0016ef"/>
<rect x="754" y="189.00" width="17" height="2.80" fill="#0029e1"/>
<rect x="754" y="186.50" width="17" height="2.80" fill="#003cd3"/>
<rect x="754" y="184.00" width="17" height="2.80" fill="#004fc4"/>
<rect x="754" y="181.50" width="17" height="2.80" fill="#0062b6"/>
<rect x="754" y="179.00" width="17" height="2.80" fill="#0075a8"/>
<rect x="754" y="176.50" width="17" height="2.80" fill="#008599"/>
<rect x="754" y="174.00" width="17" height="2.80" fill="#009289"/>
<rect x="754" y="171.50" width="17" height="2.80" fill="#009f79"/>
<rect x="754" y="169.00" width="17" height="2.80" fill="#00ac69"/>
<rect x="754" y="166.50" width="17" height="2.80" fill="#00b959"/>
<rect x="754" y="164.00" width="17" height="2.80" fill="#00c549"/>
<rect x="754" y="161.50" width="17" height="2.80" fill="#00d238"/>
<rect x="754" y="159.00" width="17" height="2.80" fill="#00df28"/>
<rect x="754" y="156.50" width="17" height="2.80" fill="#00ec18"/>
<rect x="754" y="154.00" width="17" height="2.80" fill="#00f908"/>
<rect x="754" y="151.50" width="17" height="2.80" fill="#12ff00"/>
<rect x="754" y="149.00" width="17" height="2.80" fill="#36ff00"/>
<rect x="754" y="146.50" width="17" height="2.80" fill="#5bff00"/>
<rect x="754" y="144.00" width="17" height="2.80" fill="#7fff00"/>
<rect x="754" y="141.50" width="17" height="2.80" fill="#a3ff00"/>
<rect x="754" y="139.00" width="17" height="2.80" fill="#c7ff00"/>
<rect x="754" y="136.50" width="17" height="2.80" fill="#ebff00"/>
<rect x="754" y="134.00" width="17" height="2.80" fill="#fff800"/>
<rect x="754" y="131.50" width="17" height="2.80" fill="#ffea00"/>
<rect x="754" y="129.00" width="17" height="2.80" fill="#ffdc00"/>
<rect x="754" y="126.50" width="17" height="2.80" fill="#ffce00"/>
<rect x="754" y="124.00" width="17" height="2.80" fill="#ffc000"/>
<rect x="754" y="121.50" width="17" height="2.80" fill="#ffb200"/>
<rect x="754" y="119.00" width="17" height="2.80" fill="#ffa300"/>
<rect x="754" y="116.50" width="17" height="2.80" fill="#ff9500"/>
<rect x="754" y="114.00" width="17" height="2.80" fill="#ff8700"/>
<rect x="754" y="111.50" width="17" height="2.80" fill="#ff7600"/>
<rect x="754" y="109.00" width="17" height="2.80" fill="#ff6300"/>
<rect x="754" y="106.50" width="17" height="2.80" fill="#ff5000"/>
<rect x="754" y="104.00" width="17" height="2.80" fill="#ff3d00"/>
<rect x="754" y="101.50" width="17" height="2.80" fill="#ff2a00"/>
<rect x="754" y="99.00" width="17" height="2.80" fill="#ff1700"/>
<rect x="754" y="96.50" width="17" height="2.80" fill="#ff0400"/>
<rect x="754" y="94.00" width="17" height="2.80" fill="#f4000b"/>
<rect x="754" y="91.50" width="17" height="2.80" fill="#e70019"/>
<rect x="754" y="89.00" width="17" height="2.80" fill="#d90026"/>
<rect x="754" y="86.50" width="17" height="2.80" fill="#cb0034"/>
<rect x="754" y="84.00" width="17" height="2.80" fill="#be0042"/>
<rect x="754" y="81.50" width="17" height="2.80" fill="#b00050"/>
<rect x="754" y="79.00" width="17" height="2.80" fill="#a2005e"/>
<rect x="754" y="76.50" width="17" height="2.80" fill="#95006b"/>
<rect x="754" y="74.00" width="17" height="2.80" fill="#870079"/>
<rect x="754.5" y="74.5" width="16" height="160" fill="none" stroke="#000" stroke-width="1"/>
<rect x="754" y="501.50" width="17" height="2.80" fill="#d8d8e8"/>
<rect x="754" y="499.00" width="17" height="2.80" fill="#d0d0e9"/>
<rect x="754" y="496.50" width="17" height="2.80" fill="#c8c8ea"/>
<rect x="754" y="494.00" width="17" height="2.80" fill="#c1c1eb"/>
<rect x="754" y="491.50" width="17" height="2.80" fill="#b9b9ec"/>
<rect x="754" y="489.00" width="17" height="2.80" fill="#b1b1ed"/>
<rect x="754" y="486.50" width="17" height="2.80" fill="#a8a8ee"/>
<rect x="754" y="484.00" width="17" height="2.80" fill="#9595f0"/>
<rect x="754" y="481.50" width="17" height="2.80" fill="#8282f2"/>
<rect x="754" y="479.00" width="17" height="2.80" fill="#6f6ff4"/>
<rect x="754" y="476.50" width="17" height="2.80" fill="#5c5cf6"/>
<rect x="754" y="474.00" width="17" height="2.80" fill="#4949f8"/>
<rect x="754" y="471.50" width="17" height="2.80" fill="#3636fa"/>
<rect x="754" y="469.00" width="17" height="2.80" fill="#2323fb"/>
<rect x="754" y="466.50" width="17" height="2.80" fill="#1010fd"/>
<rect x="754" y="464.00" width="17" height="2.80" fill="#0003fd"/>
<rect x="754" y="461.50" width="17" height="2.80" fill="#0016ef"/>
<rect x="754" y="459.00" width="17" height="2.80" fill="#0029e1"/>
<rect x="754" y="456.50" width="17" height="2.80" fill="#003cd3"/>
<rect x="754" y="454.00" width="17" height="2.80" fill="#004fc4"/>
<rect x="754" y="451.50" width="17" height="2.80" fill="#0062b6"/>
<rect x="754" y="449.00" width="17" height="2.80" fill="#0075a8"/>
<rect x="754" y="446.50" width="17" height="2.80" fill="#008599"/>
<rect x="754" y="444.00" width="17" height="2.80" fill="#009289"/>
<rect x="754" y="441.50" width="17" height="2.80" fill="#009f79"/>
<rect x="754" y="439.00" width="17" height="2.80" fill="#00ac69"/>
<rect x="754" y="436.50" width="17" height="2.80" fill="#00b959"/>
<rect x="754" y="434.00" width="17" height="2.80" fill="#00c549"/>
<rect x="754" y="431.50" width="17" height="2.80" fill="#00d238"/>
<rect x="754" y="429.00" width="17" height="2.80" fill="#00df28"/>
<rect x="754" y="426.50" width="17" height="2.80" fill="#00ec18"/>
<rect x="754" y="424.00" width="17" height="2.80" fill="#00f908"/>
<rect x="754" y="421.50" width="17" height="2.80" fill="#12ff00"/>
<rect x="754" y="419.00" width="17" height="2.80" fill="#36ff00"/>
<rect x="754" y="416.50" width="17" height="2.80" fill="#5bff00"/>
<rect x="754" y="414.00" width="17" height="2.80" fill="#7fff00"/>
<rect x="754" y="411.50" width="17" height="2.80" fill="#a3ff00"/>
<rect x="754" y="409.00" width="17" height="2.80" fill="#c7ff00"/>
<rect x="754" y="406.50" width="17" height="2.80" fill="#ebff00"/>
<rect x="754" y="404.00" width="17" height="2.80" fill="#fff800"/>
<rect x="754" y="401.50" width="17" height="2.80" fill="#ffea00"/>
<rect x="754" y="399.00" width="17" height="2.80" fill="#ffdc00"/>
<rect x="754" y="396.50" width="17" height="2.80" fill="#ffce00"/>
<rect x="754" y="394.00" width="17" height="2.80" fill="#ffc000"/>
<rect x="754" y="391.50" width="17" height="2.80" fill="#ffb200"/>
<rect x="754" y="389.00" width="17" height="2.80" fill="#ffa300"/>
<rect x="754" y="386.50" width="17" height="2.80" fill="#ff9500"/>
<rect x="754" y="384.00" width="17" height="2.80" fill="#ff8700"/>
<rect x="754" y="381.50" width="17" height="2.80" fill="#ff7600"/>
<rect x="754" y="379.00" width="17" height="2.80" fill="#ff6300"/>
<rect x="754" y="376.50" width="17" height="2.80" fill="#ff5000"/>
<rect x="754" y="374.00" width="17" height="2.80" fill="#ff3d00"/>
<rect x="754" y="371.50" width="17" height="2.80" fill="#ff2a00"/>
<rect x="754" y="369.00" width="17" height="2.80" fill="#ff1700"/>
<rect x="754" y="366.50" width="17" height="2.80" fill="#ff0400"/>
<rect x="754" y="364.00" width="17" height="2.80" fill="#f4000b"/>
<rect x="754" y="361.50" width="17" height="2.80" fill="#e70019"/>
<rect x="754" y="359.00" width="17" height="2.80" fill="#d90026"/>
<rect x="754" y="356.50" width="17" height="2.80" fill="#cb0034"/>
<rect x="754" y="354.00" width="17" height="2.80" fill="#be0042"/>
<rect x="754" y="351.50" width="17" height="2.80" fill="#b00050"/>
<rect x="754" y="349.00" width="17" height="2.80" fill="#a2005e"/>
<rect x="754" y="346.50" width="17" height="2.80" fill="#95006b"/>
<rect x="754" y="344.00" width="17" height="2.80" fill="#870079"/>
<rect x="754.5" y="344.5" width="16" height="160" fill="none" stroke="#000" stroke-width="1"/>
<text x="730" y="80.3">10<tspan dy="-4.3" font-size="9">-4</tspan></text>
<text x="730" y="133.6">10<tspan dy="-4.3" font-size="9">-5</tspan></text>
<text x="730" y="187.0">10<tspan dy="-4.3" font-size="9">-6</tspan></text>
<text x="730" y="240.3">10<tspan dy="-4.3" font-size="9">-7</tspan></text>
<text x="750.8" y="348.5" text-anchor="end">2</text>
<text x="750.8" y="368.5" text-anchor="end">1.5</text>
<text x="750.8" y="388.5" text-anchor="end">1</text>
<text x="750.8" y="408.5" text-anchor="end">0.5</text>
<text x="750.8" y="428.5" text-anchor="end">0</text>
<text x="750.8" y="448.5" text-anchor="end">-0.5</text>
<text x="750.8" y="468.5" text-anchor="end">-1</text>
<text x="750.8" y="488.5" text-anchor="end">-1.5</text>
<text x="750.8" y="508.5" text-anchor="end">-2</text>
<text transform="translate(723 155.3) rotate(-90)" text-anchor="middle">sr<tspan dy="-4.5" font-size="9">-1</tspan><tspan dy="4.5"> m</tspan><tspan dy="-4.5" font-size="9">-1</tspan></text>
<text transform="translate(723 426.2) rotate(-90)" text-anchor="middle">m s<tspan dy="-4.5" font-size="9">-1</tspan></text>
</g>
</svg>
</body></html>
